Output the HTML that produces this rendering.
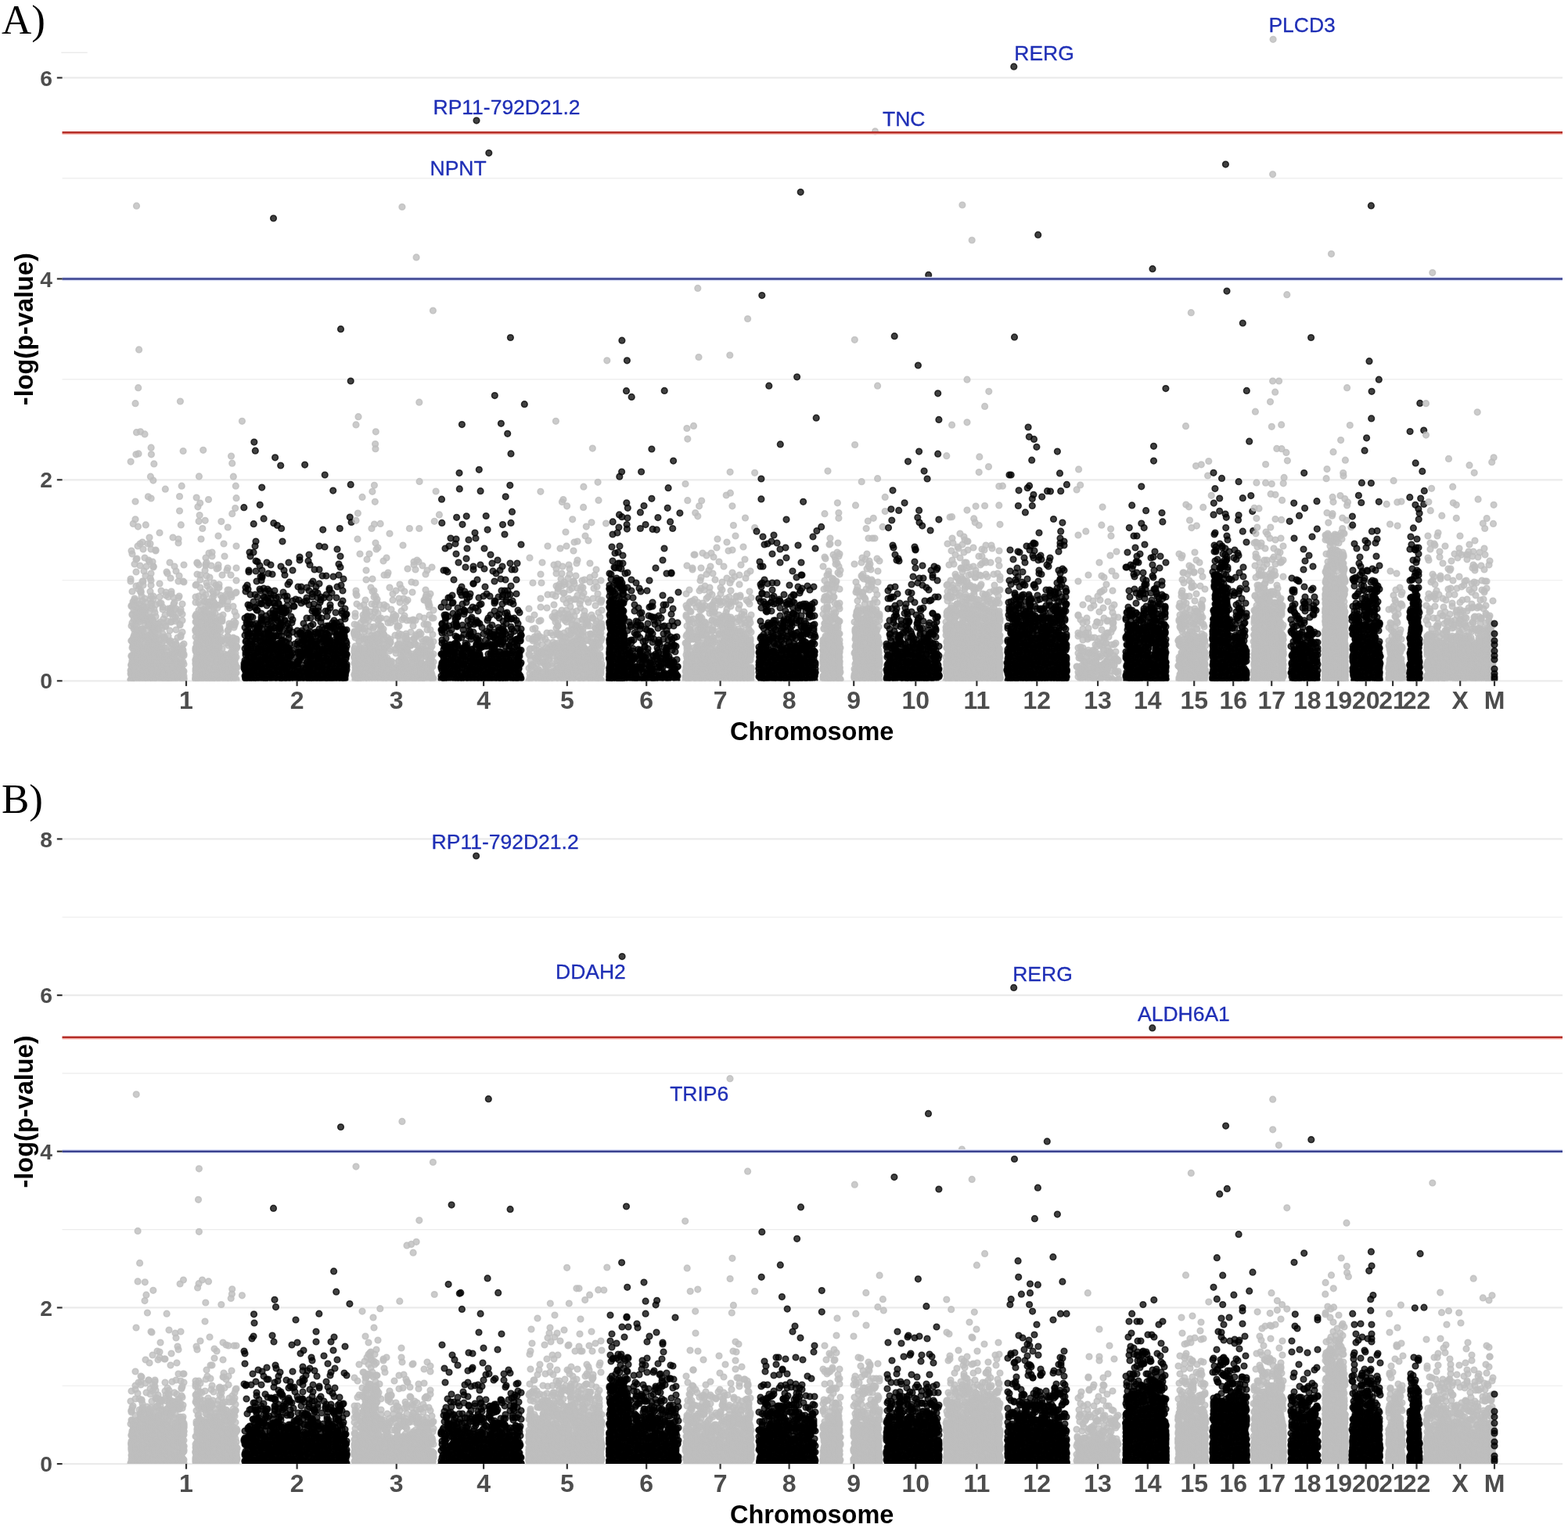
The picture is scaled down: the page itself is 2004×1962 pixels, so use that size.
<!DOCTYPE html>
<html><head><meta charset="utf-8"><title>Manhattan plots</title>
<style>
html,body{margin:0;padding:0;background:#fff;overflow:hidden;}
svg{display:block;}
.mb,.mg{fill:none;stroke:none;}
.mb{marker-start:url(#kb);marker-mid:url(#kb);marker-end:url(#kb);}
.mg{marker-start:url(#kg);marker-mid:url(#kg);marker-end:url(#kg);}
.pg{stroke:#bebebe;stroke-opacity:0.8;}
.pb{stroke:#000;stroke-opacity:0.75;}
.og{fill:#bebebe;fill-opacity:0.8;stroke:#bebebe;stroke-opacity:0.8;stroke-width:1.5;}
.ob{fill:#000;fill-opacity:0.75;stroke:#000;stroke-opacity:0.75;stroke-width:1.5;}
.gm{stroke:#ececec;stroke-width:1.1;}
.gM{stroke:#ebebeb;stroke-width:2.2;}
.tk{stroke:#333;stroke-width:2.2;}
.rl{stroke:#b52e28;stroke-width:2.4;}
.rh{stroke:#f7b3ac;stroke-width:2.2;}
.bh{stroke:#dfe3f8;stroke-width:5.5;}
.bl{stroke:#3a428f;stroke-width:2.5;}
.yt{font-family:"Liberation Sans",Arial,Helvetica,sans-serif;font-weight:bold;font-size:28.3px;fill:#4d4d4d;text-anchor:end;}
.xt{font-family:"Liberation Sans",Arial,Helvetica,sans-serif;font-weight:bold;font-size:32px;fill:#4d4d4d;text-anchor:middle;}
.at{font-family:"Liberation Sans",Arial,Helvetica,sans-serif;font-weight:bold;font-size:32.5px;fill:#000;text-anchor:middle;}
.pl{font-family:"Liberation Serif","Times New Roman",serif;font-size:53px;fill:#000;}
.gl{font-family:"Liberation Sans",Arial,Helvetica,sans-serif;font-size:26.5px;fill:#1f2fb6;stroke:#1f2fb6;stroke-width:0.3px;}
</style></head>
<body><svg width="2004" height="1962" viewBox="0 0 2004 1962">
<defs><clipPath id="c0"><rect x="0" y="0" width="2004" height="870.3"/></clipPath><clipPath id="c1"><rect x="0" y="0" width="2004" height="1871.1"/></clipPath>
<marker id="kb" markerUnits="userSpaceOnUse" markerWidth="12" markerHeight="12" refX="6" refY="6" overflow="visible"><circle cx="6" cy="6" r="3.8499999999999996" fill="#000" fill-opacity="0.75" stroke="#000" stroke-opacity="0.75" stroke-width="1.5"/></marker>
<marker id="kg" markerUnits="userSpaceOnUse" markerWidth="12" markerHeight="12" refX="6" refY="6" overflow="visible"><circle cx="6" cy="6" r="3.8499999999999996" fill="#bebebe" fill-opacity="0.8" stroke="#bebebe" stroke-opacity="0.8" stroke-width="1.5"/></marker>
</defs>
<rect width="2004" height="1962" fill="#fff"/>
<line x1="79.5" x2="1997.0" y1="741.8" y2="741.8" class="gm"/>
<line x1="79.5" x2="1997.0" y1="484.9" y2="484.9" class="gm"/>
<line x1="79.5" x2="1997.0" y1="227.9" y2="227.9" class="gm"/>
<line x1="79.5" x2="1997.0" y1="870.3" y2="870.3" class="gM"/>
<line x1="79.5" x2="1997.0" y1="613.3" y2="613.3" class="gM"/>
<line x1="79.5" x2="1997.0" y1="356.4" y2="356.4" class="gM"/>
<line x1="79.5" x2="1997.0" y1="99.4" y2="99.4" class="gM"/>
<g clip-path="url(#c0)">
<path d="M167 740L167 743L167 857L167 861L167 869L167 869L168 704L168 774L168 775L168 800L168 819L168 819L168 838L168 839L168 849L168 850L168 850L168 851L168 855L168 858L168 860L168 862L168 864L168 868L168 870L168 870L168 870L169 708L169 756L169 785L169 786L169 796L169 828L169 844L169 846L170 769L170 816L170 824L170 826L170 838L170 840L170 853L170 860L170 863L170 867L171 770L171 774L171 780L171 792L171 801L171 804L171 813L171 821L171 829L171 832L171 837L171 841L171 844L171 853L171 869L172 721L172 765L172 767L172 791L172 810L172 817L172 825L172 851L172 857L172 858L172 864L173 782L173 782L173 787L173 799L173 805L173 813L173 834L173 846L174 715L174 731L174 749L174 827L174 836L174 869L174 870L175 714L175 789L175 793L175 801L175 809L175 812L175 842L175 870L176 698L176 768L176 777L176 805L176 806L176 819L176 821L176 824L176 837L176 841L177 753L177 773L177 782L177 784L177 792L177 847L177 849L177 854L177 862L178 748L178 778L178 794L178 832L178 848L178 857L178 860L178 864L178 870L179 695L179 723L179 772L179 795L179 812L179 820L179 824L179 836L179 844L179 856L179 870L180 755L180 757L180 757L180 779L180 782L180 788L180 819L180 829L180 831L180 834L180 862L180 862L181 762L181 804L181 810L181 811L181 817L181 825L181 842L182 693L182 743L182 768L182 804L182 804L182 842L182 849L182 853L182 870L183 702L183 743L183 748L183 776L183 782L183 787L183 789L183 807L183 813L183 827L183 833L183 860L183 869L184 730L184 775L184 793L184 829L184 835L184 841L184 851L184 858L184 866L184 870L185 713L185 765L185 792L185 848L186 736L186 770L186 778L186 781L186 786L186 799L186 815L186 845L186 856L186 858L186 869L187 724L187 813L187 827L187 839L187 843L187 854L188 777L188 794L188 805L188 820L188 837L188 865L189 695L189 791L189 792L189 800L189 821L189 823L189 828L189 831L189 841L189 849L189 863L189 866L189 869L189 870L190 716L190 784L190 800L190 812L190 813L190 818L190 822L190 853L191 687L191 718L191 838L191 858L191 870L192 695L192 739L192 756L192 766L192 789L192 797L192 798L192 799L192 822L192 830L192 832L192 840L192 848L192 861L193 702L193 733L193 742L193 748L193 762L193 771L193 777L193 789L193 827L193 844L193 846L193 854L193 870L194 771L194 775L194 790L194 791L194 806L194 809L194 813L194 820L194 831L194 836L194 850L194 866L195 718L195 792L195 804L195 814L195 832L195 854L195 857L195 860L195 864L195 869L196 724L196 724L196 725L196 762L196 766L196 794L196 803L196 825L196 870L196 870L197 779L197 803L197 806L197 816L197 835L197 850L197 870L198 783L198 801L198 806L198 818L198 819L198 825L198 831L198 837L198 839L198 844L198 846L199 703L199 704L199 773L199 788L199 808L199 815L199 819L199 865L200 841L200 858L200 870L201 797L201 815L201 825L201 826L201 833L201 847L201 852L201 860L201 863L202 803L202 854L202 859L202 870L202 870L203 797L203 804L203 811L203 823L203 829L203 864L204 681L204 746L204 763L204 771L204 835L204 838L204 850L205 795L205 818L205 846L205 861L205 868L206 755L206 771L206 830L206 835L206 842L206 854L207 803L207 822L207 828L207 852L207 853L207 868L208 776L208 779L208 810L208 841L208 844L208 861L209 791L209 796L209 815L209 819L209 836L209 846L209 866L210 814L210 828L210 851L210 859L210 860L210 870L211 786L211 801L211 816L211 837L211 842L211 863L211 868L211 870L211 870L212 757L212 761L212 800L212 828L212 837L212 870L213 731L213 833L213 841L213 851L213 855L214 733L214 794L214 838L214 868L215 763L215 778L215 813L215 837L215 849L215 856L216 820L216 844L216 845L216 860L216 861L216 870L217 719L217 779L217 784L217 806L217 820L217 858L217 867L218 739L218 778L218 783L218 795L218 819L218 822L218 850L218 867L219 756L219 759L219 777L219 784L219 795L219 829L219 837L219 864L220 823L220 831L220 846L220 869L220 870L221 687L221 785L221 789L221 835L221 839L221 840L221 852L221 854L222 764L222 772L222 860L223 724L223 770L223 779L223 828L223 836L223 864L223 870L224 789L224 794L224 820L224 831L224 837L224 843L224 843L224 846L224 855L224 868L225 730L225 778L225 805L225 823L225 825L225 844L225 859L225 859L225 869L226 792L226 846L226 855L226 858L227 815L227 830L227 835L227 849L227 865L228 689L228 694L228 743L228 764L228 784L228 833L228 853L228 869L229 736L229 762L229 829L229 870L230 798L230 799L230 854L230 864L231 779L231 782L231 812L231 814L231 835L231 843L231 865L232 836L232 841L232 847L232 850L232 851L232 854L233 772L233 785L233 793L233 808L233 825L233 829L233 834L233 836L233 862L233 870L234 743L234 831L234 846L234 857L234 860L234 860L234 869L234 870L235 722L235 744L235 823L235 836L235 838L235 849L235 858L235 864L235 867L235 868L250 748L250 763L250 770L250 787L250 788L250 795L250 805L250 805L250 807L250 814L250 828L250 830L250 832L250 843L250 844L250 847L250 849L250 855L250 858L250 863L250 863L250 866L250 867L250 867L250 869L250 869L251 747L251 785L251 794L251 822L251 827L251 828L251 832L251 834L251 839L251 842L251 852L251 852L251 855L251 856L251 860L251 860L251 863L251 870L252 719L252 720L252 734L252 789L252 794L252 796L252 801L252 808L252 817L252 823L252 855L253 803L253 809L253 840L253 844L253 869L254 722L254 762L254 770L254 780L254 804L254 808L254 813L254 823L254 870L255 821L255 847L255 849L255 856L255 865L256 735L256 741L256 751L256 773L256 800L256 816L256 828L256 830L256 831L256 837L257 689L257 781L257 788L257 789L257 800L257 838L257 842L257 863L257 863L257 870L257 870L258 791L258 795L258 801L258 806L258 811L258 815L258 818L258 838L258 840L258 850L258 857L259 757L259 814L259 862L259 870L260 763L260 784L260 793L260 815L260 838L260 848L260 849L260 857L260 870L261 769L261 779L261 780L261 804L261 804L261 823L261 825L261 834L261 841L261 851L261 862L262 729L262 768L262 784L262 791L262 815L262 823L262 830L262 830L262 856L262 869L262 869L263 713L263 721L263 723L263 760L263 783L263 810L263 817L263 861L264 719L264 736L264 745L264 770L264 776L264 786L264 793L264 798L264 810L264 835L264 843L264 847L264 866L265 749L265 783L265 798L265 811L265 820L265 846L265 852L266 769L266 795L266 798L266 803L266 807L266 831L266 841L266 854L266 868L267 707L267 773L267 775L267 804L267 818L267 824L267 825L267 835L267 859L267 862L267 869L268 738L268 753L268 785L268 793L268 807L268 816L268 828L268 836L268 848L268 855L268 866L268 869L269 769L269 841L269 842L269 848L270 723L270 774L270 787L270 808L270 830L270 864L270 869L271 706L271 711L271 764L271 792L271 794L271 800L271 800L271 814L271 821L271 823L271 830L271 857L271 869L271 870L272 756L272 782L272 786L272 799L272 812L272 813L272 834L272 835L272 844L272 849L272 862L273 745L273 759L273 762L273 769L273 778L273 789L273 805L273 825L273 857L274 771L274 817L274 820L274 869L275 774L275 784L275 807L275 808L275 818L275 832L275 839L275 852L275 865L275 869L276 748L276 773L276 795L276 801L276 803L276 823L276 827L276 836L276 852L276 857L276 869L277 727L277 757L277 794L277 812L277 844L277 845L277 846L277 860L277 863L277 869L278 751L278 777L278 796L278 812L278 813L278 836L278 838L278 869L279 685L279 722L279 726L279 792L279 803L279 806L279 828L279 830L279 837L279 850L279 857L280 747L280 751L280 817L280 823L280 827L281 773L281 788L281 802L281 804L281 821L281 854L281 869L282 761L282 793L282 807L282 835L282 847L282 869L283 794L283 815L283 819L283 820L283 838L283 843L283 861L283 864L284 735L284 764L284 768L284 772L284 791L284 794L284 818L284 829L284 840L284 844L284 847L284 855L284 870L285 765L285 769L285 786L285 857L285 863L285 870L286 695L286 765L286 840L286 843L286 850L286 864L287 711L287 836L287 845L287 853L288 855L288 870L289 760L289 822L289 852L289 860L289 869L290 729L290 762L290 818L290 837L290 838L290 868L291 726L291 754L291 769L291 775L291 778L291 806L291 813L291 814L291 846L292 805L292 818L292 825L292 847L292 858L292 861L293 754L293 797L293 801L293 846L293 850L293 856L293 860L293 867L293 868L293 868L294 836L295 735L295 760L295 761L295 821L295 823L295 834L295 840L295 844L296 763L296 798L296 824L296 836L296 852L296 864L296 866L297 829L297 840L297 854L297 855L298 775L298 815L298 819L298 838L298 860L299 794L299 799L299 802L299 816L299 829L299 830L299 836L299 850L299 867L299 868L300 782L300 799L300 840L300 841L300 844L300 844L300 848L300 852L300 862L300 863L301 758L301 796L301 835L301 849L301 860L302 698L302 726L302 742L302 757L302 787L302 817L302 817L302 820L302 826L302 826L302 829L302 840L302 853L302 860L302 868L302 870L303 827L303 853" class="mg"/>
<circle cx="167.1" cy="590.1" r="3.85" class="og"/>
<circle cx="170.2" cy="669.4" r="3.85" class="og"/>
<circle cx="173.0" cy="515.7" r="3.85" class="og"/>
<circle cx="173.0" cy="641.0" r="3.85" class="og"/>
<circle cx="173.0" cy="663.8" r="3.85" class="og"/>
<circle cx="173.9" cy="580.8" r="3.85" class="og"/>
<circle cx="174.5" cy="263.2" r="3.85" class="og"/>
<circle cx="174.5" cy="552.7" r="3.85" class="og"/>
<circle cx="176.4" cy="673.1" r="3.85" class="og"/>
<circle cx="176.7" cy="495.7" r="3.85" class="og"/>
<circle cx="177.0" cy="579.9" r="3.85" class="og"/>
<circle cx="177.6" cy="446.9" r="3.85" class="og"/>
<circle cx="179.5" cy="551.8" r="3.85" class="og"/>
<circle cx="185.0" cy="554.9" r="3.85" class="og"/>
<circle cx="186.3" cy="670.9" r="3.85" class="og"/>
<circle cx="189.4" cy="634.8" r="3.85" class="og"/>
<circle cx="192.4" cy="609.2" r="3.85" class="og"/>
<circle cx="193.1" cy="572.2" r="3.85" class="og"/>
<circle cx="193.1" cy="637.0" r="3.85" class="og"/>
<circle cx="193.4" cy="580.8" r="3.85" class="og"/>
<circle cx="195.8" cy="614.1" r="3.85" class="og"/>
<circle cx="196.8" cy="592.9" r="3.85" class="og"/>
<circle cx="211.3" cy="625.2" r="3.85" class="og"/>
<circle cx="229.5" cy="634.5" r="3.85" class="og"/>
<circle cx="229.5" cy="653.0" r="3.85" class="og"/>
<circle cx="230.4" cy="513.0" r="3.85" class="og"/>
<circle cx="231.3" cy="670.9" r="3.85" class="og"/>
<circle cx="232.2" cy="621.2" r="3.85" class="og"/>
<circle cx="234.1" cy="576.5" r="3.85" class="og"/>
<circle cx="251.1" cy="636.0" r="3.85" class="og"/>
<circle cx="252.9" cy="647.8" r="3.85" class="og"/>
<circle cx="254.1" cy="666.3" r="3.85" class="og"/>
<circle cx="254.4" cy="608.9" r="3.85" class="og"/>
<circle cx="255.1" cy="658.6" r="3.85" class="og"/>
<circle cx="255.7" cy="643.1" r="3.85" class="og"/>
<circle cx="258.8" cy="675.5" r="3.85" class="og"/>
<circle cx="259.7" cy="575.3" r="3.85" class="og"/>
<circle cx="262.2" cy="665.3" r="3.85" class="og"/>
<circle cx="266.5" cy="638.5" r="3.85" class="og"/>
<circle cx="282.8" cy="666.6" r="3.85" class="og"/>
<circle cx="291.2" cy="674.0" r="3.85" class="og"/>
<circle cx="295.5" cy="583.0" r="3.85" class="og"/>
<circle cx="296.7" cy="592.2" r="3.85" class="og"/>
<circle cx="296.7" cy="656.7" r="3.85" class="og"/>
<circle cx="298.3" cy="609.2" r="3.85" class="og"/>
<circle cx="300.7" cy="649.6" r="3.85" class="og"/>
<circle cx="301.3" cy="621.2" r="3.85" class="og"/>
<circle cx="302.0" cy="636.7" r="3.85" class="og"/>
<circle cx="309.4" cy="538.3" r="3.85" class="og"/>
<path d="M312 848L312 851L312 854L313 790L313 802L313 812L313 829L313 844L313 851L313 855L313 856L313 864L314 751L314 756L314 820L314 834L314 837L314 847L314 856L314 859L314 864L314 865L314 867L314 867L314 868L315 796L315 807L315 819L315 827L315 844L315 869L316 748L316 788L316 793L316 798L316 835L316 859L316 870L317 753L317 773L317 788L317 806L317 812L317 813L317 822L317 828L317 832L317 839L317 850L318 729L318 731L318 801L318 810L318 840L318 866L318 869L318 870L319 706L319 774L319 777L319 796L319 809L319 851L319 863L320 711L320 760L320 798L320 820L320 847L320 852L321 788L321 828L321 841L321 846L321 858L321 859L321 865L322 813L322 820L322 823L322 825L322 833L322 848L323 789L323 798L323 854L323 870L323 870L324 706L324 769L324 832L324 838L324 857L324 865L324 868L325 809L325 814L325 835L325 840L325 849L325 860L325 863L325 870L326 698L326 760L326 776L326 777L326 803L326 809L326 819L326 827L326 843L326 850L327 692L327 717L327 730L327 797L327 816L327 839L327 852L327 870L328 743L328 780L328 806L328 817L328 870L329 718L329 763L329 780L329 802L329 804L329 834L329 844L329 859L330 799L330 809L330 809L330 826L330 829L330 833L330 833L330 847L330 851L330 851L330 870L331 802L331 803L331 828L331 859L331 864L331 866L332 723L332 753L332 771L332 840L332 851L332 856L332 864L333 737L333 755L333 797L333 809L333 813L333 814L333 819L333 820L333 825L333 844L333 846L333 870L334 742L334 771L334 772L334 784L334 789L334 793L334 793L334 833L334 837L334 846L334 855L334 862L335 729L335 736L335 738L335 791L335 804L335 831L336 798L336 819L336 840L336 857L336 868L337 752L337 763L337 815L337 823L337 849L337 859L337 868L338 764L338 810L338 828L338 830L338 860L339 756L339 767L339 811L339 825L339 835L339 840L339 844L339 853L339 854L339 868L339 868L340 787L340 792L340 817L340 832L340 847L340 859L340 867L341 719L341 774L341 795L341 821L341 842L341 853L342 753L342 764L342 798L342 804L342 809L342 819L342 868L343 733L343 768L343 770L343 806L343 835L343 837L343 837L343 843L343 859L344 755L344 771L344 810L344 817L344 823L344 849L344 855L344 868L345 784L345 804L345 830L345 847L345 850L345 860L345 864L346 722L346 759L346 764L346 827L346 831L346 841L347 790L347 793L347 798L347 806L347 812L347 815L347 823L347 830L347 861L348 734L348 789L348 840L348 845L348 852L348 854L348 870L349 780L349 784L349 801L349 816L349 823L349 833L349 837L349 866L349 870L350 761L350 771L350 814L350 822L350 847L350 861L350 868L351 755L351 771L351 785L351 786L351 790L351 803L351 836L351 850L351 857L351 864L352 775L352 802L352 825L352 825L353 764L353 781L353 812L353 813L353 844L353 853L354 786L354 790L354 829L354 831L354 842L355 793L355 794L355 829L355 845L355 851L355 857L355 859L356 763L356 771L356 772L356 802L356 804L356 813L356 822L356 837L356 839L356 869L357 780L357 801L357 806L357 832L357 851L357 858L357 863L357 868L357 870L358 780L358 799L358 803L358 822L358 839L358 842L358 845L358 864L359 724L359 792L359 797L359 822L359 824L359 837L360 777L360 782L360 813L360 819L360 825L360 832L360 844L360 850L360 860L361 692L361 778L361 785L361 799L361 807L361 818L361 854L361 869L361 870L361 870L362 757L362 824L362 830L362 831L362 838L362 845L362 856L362 865L363 729L363 777L363 784L363 851L363 868L363 869L364 735L364 762L364 793L364 793L364 820L364 847L364 847L364 854L364 859L365 783L365 839L366 781L366 800L366 821L366 830L366 831L366 855L367 762L367 767L367 774L367 809L367 827L367 840L367 853L367 861L367 863L368 747L368 797L368 828L368 835L368 842L368 868L369 719L369 780L369 805L369 811L369 816L369 831L369 848L369 867L370 744L370 803L370 823L370 829L370 840L370 848L370 855L370 862L370 869L371 835L371 847L371 864L372 788L372 838L372 868L373 796L373 850L373 855L373 857L374 729L374 768L374 792L374 808L374 831L374 835L375 775L375 850L375 862L375 866L376 775L376 840L377 823L377 857L377 863L377 864L377 869L378 766L378 849L379 847L379 867L380 806L380 811L380 824L380 849L380 853L380 859L381 750L381 820L381 834L381 845L381 845L381 852L381 858L382 767L382 828L382 833L382 845L382 867L383 712L383 716L383 809L383 822L383 834L383 838L383 839L383 861L384 809L384 811L384 835L384 842L384 865L384 867L384 868L384 870L385 750L385 755L385 771L385 809L385 809L385 840L385 840L385 858L386 806L386 815L386 824L386 850L387 812L387 819L387 859L388 797L388 815L388 820L388 854L388 859L389 769L389 818L389 827L389 828L389 838L389 866L390 830L390 835L390 868L391 802L391 816L391 834L391 854L391 854L392 751L392 764L392 768L392 790L392 821L392 837L392 846L392 862L392 869L392 870L393 812L393 823L393 829L393 839L393 846L393 848L393 861L394 717L394 809L394 810L394 822L394 831L394 852L395 709L395 755L395 773L395 830L395 835L395 849L395 857L395 861L395 868L395 869L396 722L396 813L396 832L396 839L396 855L396 860L397 790L397 800L397 808L397 821L397 842L397 848L397 870L398 746L398 817L398 818L398 823L398 826L398 868L399 759L399 763L399 781L399 838L400 743L400 778L400 798L400 814L400 824L400 841L400 845L400 854L400 860L400 863L400 868L401 772L401 832L401 833L401 848L401 862L401 868L402 728L402 810L402 820L402 829L402 849L402 851L402 854L402 869L403 756L403 781L403 783L403 784L403 808L403 823L404 750L404 825L404 826L404 837L404 848L404 859L404 867L405 783L405 820L405 823L405 838L405 859L406 758L406 764L406 790L406 808L406 812L406 863L407 776L407 781L407 788L407 810L407 838L407 840L407 841L407 842L407 852L407 857L407 867L407 867L408 698L408 728L408 746L408 804L408 830L408 869L409 770L409 810L409 817L409 830L409 832L409 846L409 847L410 763L410 767L410 795L410 809L410 816L410 853L411 790L411 830L411 835L411 849L411 853L411 856L411 864L411 868L412 736L412 802L412 820L412 827L412 831L412 854L412 862L412 870L413 819L413 834L413 844L413 864L413 869L414 764L414 815L414 817L414 831L414 838L414 841L414 845L414 858L414 870L415 699L415 804L415 824L415 869L416 781L416 809L416 810L416 816L416 850L416 860L417 736L417 760L417 800L417 822L417 829L417 842L417 862L418 788L418 810L418 826L418 850L418 857L419 781L419 816L419 835L419 838L419 850L419 862L419 866L419 869L420 800L420 800L420 812L420 820L420 827L420 832L420 869L421 752L421 754L421 764L421 801L421 809L421 817L421 836L421 845L421 846L421 854L421 869L421 870L422 773L422 777L422 819L422 822L422 843L422 855L422 859L423 802L423 829L423 861L423 870L424 758L424 829L424 848L424 853L424 868L425 796L425 831L425 849L426 737L426 802L426 821L426 831L426 844L426 858L426 862L427 793L427 798L427 798L427 825L427 837L427 839L427 841L427 868L428 804L428 808L428 818L428 824L428 862L428 866L428 868L429 783L429 801L429 836L429 855L429 860L430 764L430 796L430 810L430 812L430 827L430 831L430 841L430 848L430 851L430 859L431 702L431 750L431 818L431 819L431 826L431 836L431 845L431 857L431 869L432 812L432 861L432 868L433 721L433 735L433 820L433 852L434 801L434 811L434 813L434 825L434 831L434 839L434 845L434 860L435 711L435 725L435 795L435 812L435 832L435 848L435 870L436 748L436 772L436 800L436 804L436 819L436 841L436 841L436 852L436 852L436 863L436 868L437 781L437 784L437 823L437 827L437 834L437 860L437 870L438 755L438 768L438 804L438 805L438 845L439 740L439 816L439 825L439 829L439 835L439 849L439 857L439 868L440 788L440 808L440 812L440 814L440 815L440 846L440 867L440 868L441 778L441 791L441 806L441 829L441 837L441 859L441 862L441 863L441 863L441 865L441 868L442 786L442 819L442 830L442 840L442 842L442 851L442 853L442 859L443 785L443 805L443 822L443 826L443 836L443 837L443 849L443 852L443 856" class="mb"/>
<circle cx="311.8" cy="648.7" r="3.85" class="ob"/>
<circle cx="324.2" cy="669.7" r="3.85" class="ob"/>
<circle cx="324.8" cy="565.1" r="3.85" class="ob"/>
<circle cx="326.3" cy="576.2" r="3.85" class="ob"/>
<circle cx="332.2" cy="645.3" r="3.85" class="ob"/>
<circle cx="334.7" cy="623.1" r="3.85" class="ob"/>
<circle cx="337.1" cy="662.9" r="3.85" class="ob"/>
<circle cx="349.5" cy="279.0" r="3.85" class="ob"/>
<circle cx="349.8" cy="668.7" r="3.85" class="ob"/>
<circle cx="351.6" cy="584.8" r="3.85" class="ob"/>
<circle cx="354.4" cy="671.5" r="3.85" class="ob"/>
<circle cx="358.7" cy="595.0" r="3.85" class="ob"/>
<circle cx="359.6" cy="675.5" r="3.85" class="ob"/>
<circle cx="389.6" cy="594.1" r="3.85" class="ob"/>
<circle cx="412.7" cy="677.1" r="3.85" class="ob"/>
<circle cx="415.2" cy="607.0" r="3.85" class="ob"/>
<circle cx="425.7" cy="627.1" r="3.85" class="ob"/>
<circle cx="434.3" cy="675.5" r="3.85" class="ob"/>
<circle cx="435.5" cy="420.7" r="3.85" class="ob"/>
<circle cx="447.2" cy="661.0" r="3.85" class="ob"/>
<circle cx="448.2" cy="487.0" r="3.85" class="ob"/>
<circle cx="448.2" cy="619.4" r="3.85" class="ob"/>
<circle cx="449.1" cy="667.5" r="3.85" class="ob"/>
<path d="M453 798L453 807L453 808L453 809L453 809L453 811L453 811L453 829L453 832L453 834L453 839L453 840L453 841L453 848L453 862L453 863L454 784L454 788L454 812L454 815L454 826L454 845L454 846L454 853L454 857L454 860L454 865L454 868L454 869L455 755L455 759L455 849L455 853L455 855L455 858L456 761L456 772L456 799L456 868L457 689L457 810L457 810L457 835L457 836L457 869L458 805L458 849L458 862L458 869L459 802L459 814L459 819L459 820L459 839L459 842L459 850L459 867L459 870L460 708L460 775L460 827L460 829L460 830L460 843L460 852L460 859L461 796L461 802L461 831L461 855L461 862L461 870L462 814L462 828L462 855L463 840L463 844L463 864L464 786L464 792L464 804L464 817L464 833L464 864L465 773L465 789L465 793L465 837L465 842L465 849L465 859L465 870L465 870L466 803L466 807L466 829L466 850L466 861L467 767L467 780L467 783L467 796L467 815L467 817L467 821L467 831L467 836L467 848L468 729L468 741L468 779L468 783L468 854L468 859L468 866L468 870L469 715L469 784L469 785L469 790L469 817L469 818L469 837L469 844L469 855L470 823L470 823L470 839L470 850L470 851L471 793L471 807L471 816L471 829L471 830L471 843L471 869L472 708L472 822L472 849L472 856L472 863L472 865L472 870L473 782L473 801L473 834L473 843L474 751L474 816L474 819L474 828L474 831L474 835L474 846L474 863L475 772L475 788L475 812L475 856L475 858L476 740L476 756L476 829L476 851L476 870L477 803L477 820L477 824L477 838L477 848L477 866L478 755L478 763L478 790L478 801L478 812L478 814L478 834L478 835L478 842L478 860L479 773L479 782L479 869L480 694L480 762L480 779L480 816L480 824L480 832L480 840L480 849L480 852L480 858L480 865L481 702L481 769L481 811L481 827L481 841L481 862L481 867L482 766L482 836L482 843L482 844L482 847L483 700L483 784L483 793L483 810L483 816L483 820L483 852L483 856L484 798L484 829L484 833L485 773L485 791L485 819L485 822L485 829L485 866L486 800L486 806L486 834L486 858L486 861L486 869L487 790L487 800L487 811L487 849L487 868L488 805L488 828L488 839L488 839L488 846L488 847L488 853L488 862L489 819L489 836L489 848L489 850L490 717L490 778L490 804L490 810L490 811L490 823L490 832L490 835L490 842L490 869L491 735L491 773L491 812L491 817L491 839L491 851L491 854L491 860L491 863L491 869L492 828L492 828L492 838L492 854L492 867L493 862L494 713L494 775L494 791L495 735L495 815L495 825L495 841L495 858L495 867L496 732L496 796L496 844L496 845L496 846L496 866L496 869L497 818L497 849L497 855L497 858L498 682L498 751L498 823L498 832L498 846L498 850L499 796L499 817L499 821L499 821L499 830L499 848L499 861L500 779L500 845L500 850L500 867L501 792L501 867L502 759L502 767L502 789L502 854L502 861L502 865L503 785L503 847L503 867L504 791L504 860L505 788L505 794L505 812L505 855L505 860L506 755L506 787L506 829L506 831L506 835L506 855L506 869L508 800L508 802L508 824L508 866L508 870L509 813L509 825L509 852L509 854L509 869L509 870L510 765L510 800L510 810L510 823L510 828L510 844L510 845L510 851L510 862L511 747L511 770L511 818L511 828L511 855L511 859L511 864L512 837L512 854L513 752L513 781L513 811L513 842L513 865L514 792L514 831L514 839L514 846L514 853L515 697L515 826L515 834L515 841L515 867L515 870L515 870L516 765L516 790L516 848L516 870L517 756L517 777L517 787L517 834L517 842L517 850L517 851L517 859L517 860L517 861L518 815L518 823L518 823L518 844L518 845L518 850L518 868L518 869L519 769L519 810L519 813L519 820L519 830L519 847L520 793L520 817L520 817L520 828L520 831L520 848L520 859L521 727L521 767L521 832L521 863L521 868L522 834L522 853L522 856L522 862L523 824L523 837L524 793L524 868L525 808L525 825L525 825L525 839L525 855L525 860L526 744L526 846L526 869L527 757L527 818L527 836L527 842L527 842L527 849L527 850L527 855L527 866L527 870L528 792L528 793L528 800L528 859L528 869L529 718L529 722L529 816L529 867L529 870L530 816L530 822L530 842L530 859L530 866L531 728L531 745L531 793L531 824L531 837L531 841L531 853L531 870L532 811L532 813L532 834L532 851L533 716L533 858L534 825L534 832L534 840L534 846L534 849L534 849L534 863L534 865L534 868L535 718L535 831L535 834L535 852L536 788L536 808L536 811L536 860L536 869L537 837L537 849L537 851L537 869L538 810L538 829L538 835L538 842L538 843L538 857L538 859L538 861L538 869L539 817L539 830L539 848L539 849L539 869L539 870L540 723L540 826L541 820L541 855L541 867L542 767L542 790L542 798L542 835L543 767L543 830L543 832L543 857L543 863L543 867L544 734L544 754L544 763L544 818L544 821L544 826L544 849L544 851L545 760L545 798L545 817L545 839L545 854L546 729L546 805L546 832L546 837L546 840L546 861L546 864L546 869L547 768L547 772L547 798L547 847L547 856L548 763L548 770L548 776L548 868L549 774L549 786L549 818L549 837L549 844L549 847L549 860L550 759L550 805L550 820L550 822L550 830L550 861L551 827L551 837L551 843L551 845L551 847L551 851L551 852L551 854L551 859L551 869L552 725L552 790L552 826L552 839L552 862L552 864L552 867L553 811L553 852L553 868L554 780L554 790L554 820L554 836L554 846L554 867" class="mg"/>
<circle cx="455.0" cy="542.9" r="3.85" class="og"/>
<circle cx="455.0" cy="665.3" r="3.85" class="og"/>
<circle cx="457.4" cy="656.1" r="3.85" class="og"/>
<circle cx="458.0" cy="532.7" r="3.85" class="og"/>
<circle cx="463.0" cy="635.4" r="3.85" class="og"/>
<circle cx="475.0" cy="675.5" r="3.85" class="og"/>
<circle cx="475.9" cy="628.3" r="3.85" class="og"/>
<circle cx="478.4" cy="620.3" r="3.85" class="og"/>
<circle cx="478.4" cy="670.0" r="3.85" class="og"/>
<circle cx="479.3" cy="641.3" r="3.85" class="og"/>
<circle cx="479.6" cy="567.6" r="3.85" class="og"/>
<circle cx="479.9" cy="573.7" r="3.85" class="og"/>
<circle cx="480.3" cy="551.8" r="3.85" class="og"/>
<circle cx="486.1" cy="669.4" r="3.85" class="og"/>
<circle cx="513.9" cy="264.5" r="3.85" class="og"/>
<circle cx="523.4" cy="675.5" r="3.85" class="og"/>
<circle cx="532.1" cy="328.9" r="3.85" class="og"/>
<circle cx="535.8" cy="514.2" r="3.85" class="og"/>
<circle cx="535.8" cy="675.5" r="3.85" class="og"/>
<circle cx="536.1" cy="615.4" r="3.85" class="og"/>
<circle cx="553.4" cy="397.0" r="3.85" class="og"/>
<circle cx="555.2" cy="666.3" r="3.85" class="og"/>
<circle cx="557.1" cy="628.0" r="3.85" class="og"/>
<circle cx="561.4" cy="657.9" r="3.85" class="og"/>
<path d="M564 776L564 805L564 836L564 852L564 854L564 864L564 868L565 797L565 798L565 805L565 805L565 809L565 818L565 822L565 836L565 836L565 847L565 849L565 857L566 849L566 866L566 867L567 729L567 830L567 839L567 841L567 845L567 861L567 863L568 770L568 786L568 802L568 808L568 822L568 827L568 847L568 854L568 856L568 860L568 868L568 868L569 701L569 789L569 794L569 802L569 826L569 827L569 844L570 729L570 786L570 790L570 801L570 816L570 833L570 834L570 840L570 869L571 851L571 866L571 868L572 731L572 826L572 828L572 830L572 836L572 858L573 764L573 776L573 788L573 836L573 848L573 853L573 860L574 698L574 800L574 824L574 862L575 764L575 809L575 844L575 848L575 854L575 861L576 688L576 827L576 836L576 844L576 860L577 805L577 824L577 843L578 761L578 771L578 832L578 834L578 852L578 868L579 770L579 784L579 840L579 845L579 869L580 741L580 798L580 849L580 851L580 861L580 866L581 823L581 829L581 831L581 833L581 835L581 835L581 854L581 858L582 695L582 789L582 792L582 813L582 822L582 841L582 842L582 870L583 689L583 708L583 796L583 798L583 834L583 861L584 800L584 800L584 801L584 814L584 815L584 823L584 824L584 857L585 777L585 785L585 788L585 789L585 825L585 843L585 850L585 851L585 854L585 865L586 719L586 816L586 863L586 870L586 870L587 847L587 854L587 868L588 754L588 757L588 782L588 844L589 830L589 839L589 845L589 860L589 869L590 750L590 761L590 815L590 830L590 835L590 837L591 772L591 799L591 837L591 849L591 853L591 861L591 867L592 805L592 828L592 829L592 837L593 780L593 780L593 785L593 811L593 831L593 839L593 849L593 850L594 756L594 782L594 839L594 854L594 862L594 867L595 725L595 760L595 822L595 825L595 829L595 843L595 845L595 858L595 869L596 714L596 760L596 770L596 827L596 828L596 862L597 701L597 765L597 824L597 858L598 793L598 800L598 845L598 861L599 690L599 813L599 834L599 851L599 868L600 763L600 806L600 811L600 832L600 868L600 870L601 759L601 780L601 798L601 808L601 834L601 841L601 842L601 846L601 853L601 853L601 856L601 865L602 791L602 813L602 817L602 837L603 789L603 813L603 830L603 830L603 852L603 861L603 865L604 776L604 844L604 869L605 724L605 728L605 746L605 746L605 808L605 836L605 840L605 848L605 860L606 798L606 834L606 837L606 844L606 857L607 681L607 852L607 868L608 688L608 777L608 796L608 827L608 846L608 862L608 862L609 793L609 816L609 823L609 824L609 855L609 868L609 870L610 741L610 795L610 818L610 837L610 846L610 855L611 781L611 796L611 813L611 820L611 835L611 847L611 860L612 764L612 858L613 773L613 797L613 819L613 828L613 829L613 836L613 838L613 842L613 846L613 855L613 868L614 722L614 827L614 841L614 848L615 772L615 860L615 866L615 870L616 802L616 826L616 827L616 846L617 825L617 852L617 863L617 866L617 868L618 762L618 810L618 848L618 852L618 857L619 701L619 727L619 826L619 845L619 870L620 750L620 844L620 849L620 861L621 818L621 843L621 855L622 759L622 807L622 826L622 861L622 869L623 793L623 866L623 870L623 870L624 790L624 822L624 836L624 845L624 855L624 856L625 808L625 825L625 848L625 860L626 762L626 802L626 814L626 849L626 858L626 864L627 709L627 786L627 810L627 813L627 836L627 845L627 852L627 868L628 824L628 833L628 838L628 841L628 845L628 854L628 857L628 864L629 720L629 799L629 828L629 847L630 730L630 825L631 808L631 811L631 814L631 815L631 823L631 832L631 865L631 868L631 869L632 743L632 768L632 771L632 781L632 827L632 829L632 836L632 840L632 870L633 769L633 816L633 824L633 833L633 846L633 852L633 859L634 733L634 811L634 860L635 787L635 842L635 849L635 859L635 869L636 716L636 812L636 817L636 822L636 841L636 852L636 854L636 865L637 763L637 802L637 837L637 848L637 868L638 785L638 790L638 805L638 807L638 833L638 845L638 863L639 729L639 820L639 823L639 833L640 740L640 779L640 816L640 842L640 855L640 859L640 866L640 868L640 868L641 755L641 824L641 838L642 724L642 763L642 772L642 804L642 812L642 851L642 858L642 870L643 760L643 794L643 801L643 806L643 808L643 812L643 818L643 821L643 836L643 841L643 847L643 860L643 870L644 845L644 849L644 861L645 683L645 755L645 807L645 817L645 833L645 854L645 868L646 741L646 784L646 810L646 826L646 835L646 836L646 850L646 868L647 767L647 769L647 797L647 840L647 865L647 865L648 783L648 791L648 836L648 840L648 847L648 857L649 755L649 760L649 787L649 790L649 856L649 869L650 846L650 866L651 825L651 826L651 829L651 844L651 856L652 720L652 760L652 770L652 814L652 818L652 850L652 854L652 858L652 863L652 870L653 749L653 791L653 801L653 810L653 837L653 841L653 847L653 864L653 864L654 728L654 791L654 804L654 821L654 835L654 851L655 768L655 832L655 833L656 772L656 853L656 870L657 790L657 807L657 844L657 850L657 870L658 728L658 821L658 827L658 847L658 858L658 860L658 870L659 818L659 868L659 869L660 741L660 759L660 793L660 817L660 825L660 844L660 856L660 860L661 720L661 803L661 817L661 825L661 836L661 839L662 780L662 797L662 832L662 840L662 848L662 851L662 864L663 838L663 845L663 845L663 854L663 855L663 861L663 869L664 783L664 815L664 831L664 835L664 839L664 863L665 809L665 816L665 819L665 819L665 849L665 864L665 868L666 696L666 804L666 812L666 812L666 831L666 847L666 867" class="mb"/>
<circle cx="564.5" cy="638.2" r="3.85" class="ob"/>
<circle cx="564.8" cy="668.4" r="3.85" class="ob"/>
<circle cx="583.6" cy="661.3" r="3.85" class="ob"/>
<circle cx="587.0" cy="604.6" r="3.85" class="ob"/>
<circle cx="587.3" cy="624.9" r="3.85" class="ob"/>
<circle cx="590.4" cy="542.6" r="3.85" class="ob"/>
<circle cx="591.0" cy="670.3" r="3.85" class="ob"/>
<circle cx="596.2" cy="659.8" r="3.85" class="ob"/>
<circle cx="609.0" cy="154.1" r="3.85" class="ob"/>
<circle cx="612.3" cy="600.3" r="3.85" class="ob"/>
<circle cx="614.1" cy="627.7" r="3.85" class="ob"/>
<circle cx="621.2" cy="659.5" r="3.85" class="ob"/>
<circle cx="623.1" cy="677.1" r="3.85" class="ob"/>
<circle cx="624.8" cy="195.6" r="3.85" class="ob"/>
<circle cx="632.3" cy="505.6" r="3.85" class="ob"/>
<circle cx="640.4" cy="541.3" r="3.85" class="ob"/>
<circle cx="642.5" cy="670.6" r="3.85" class="ob"/>
<circle cx="646.2" cy="634.8" r="3.85" class="ob"/>
<circle cx="648.7" cy="554.3" r="3.85" class="ob"/>
<circle cx="651.8" cy="620.3" r="3.85" class="ob"/>
<circle cx="652.4" cy="431.5" r="3.85" class="ob"/>
<circle cx="653.0" cy="579.9" r="3.85" class="ob"/>
<circle cx="653.0" cy="668.4" r="3.85" class="ob"/>
<circle cx="654.5" cy="654.2" r="3.85" class="ob"/>
<circle cx="670.3" cy="516.7" r="3.85" class="ob"/>
<path d="M676 778L676 791L676 816L676 836L676 854L676 870L676 870L677 713L677 830L677 838L677 861L677 866L678 829L678 844L678 868L678 869L679 792L679 850L679 852L679 857L680 850L680 864L681 745L681 804L681 817L681 817L681 819L681 849L681 863L681 870L682 838L682 852L683 786L683 814L683 829L683 861L684 803L684 818L684 841L684 866L685 841L685 860L685 863L685 866L686 814L686 816L686 825L686 831L686 848L687 810L687 821L687 835L687 839L687 842L687 855L687 859L687 869L688 845L688 858L688 863L689 794L689 813L689 840L689 856L689 866L689 870L689 870L690 834L690 835L691 734L691 765L691 776L691 793L691 847L692 745L692 832L692 837L692 870L693 719L693 815L693 824L693 832L693 834L693 861L693 867L694 846L694 846L694 859L695 836L695 859L696 849L696 866L696 868L696 870L697 817L697 851L697 869L698 828L698 840L698 847L698 853L699 777L699 809L699 839L699 859L699 868L699 870L700 698L700 760L700 821L700 830L700 835L700 851L701 829L701 860L701 870L702 841L702 843L702 859L702 861L702 863L703 868L703 869L704 809L704 833L704 835L704 860L705 825L705 860L706 760L706 788L706 839L706 848L706 851L706 859L706 866L707 812L707 821L707 826L707 828L707 834L708 722L708 773L708 790L708 864L708 869L709 783L709 788L709 825L709 831L709 858L709 869L710 762L710 795L710 823L710 858L710 866L710 869L711 727L711 733L711 749L711 803L712 809L712 811L712 833L712 840L712 845L712 851L712 855L712 858L712 864L713 721L713 752L713 756L713 786L713 794L713 800L713 800L713 822L713 829L713 843L713 858L714 749L714 752L714 837L714 839L714 854L714 854L714 864L715 747L715 784L715 810L715 812L715 827L715 846L715 868L715 869L716 701L716 812L716 814L716 870L717 740L717 828L717 830L717 841L717 848L718 733L718 749L718 780L718 821L718 845L718 854L718 859L718 863L719 724L719 820L719 833L719 848L719 867L719 868L720 758L720 766L720 789L720 790L720 814L720 822L720 836L720 858L721 744L721 758L721 784L721 809L721 828L721 840L721 851L721 863L722 747L722 793L722 836L722 843L722 846L722 855L722 870L723 680L723 814L723 830L723 844L723 862L724 698L724 771L724 780L724 795L724 827L724 855L724 863L725 787L725 790L725 816L725 821L725 832L725 832L725 836L725 848L725 870L725 870L726 739L726 785L726 806L726 822L726 844L726 856L726 861L727 722L727 747L727 765L727 791L727 853L727 864L728 727L728 734L728 754L728 812L728 840L728 848L729 768L729 775L729 789L729 824L729 829L729 835L729 838L729 851L729 869L729 870L730 805L730 811L730 857L731 752L731 792L731 797L731 799L731 806L731 809L731 823L731 841L731 851L731 863L732 782L732 821L732 857L732 866L732 868L732 869L733 704L733 743L733 743L733 805L733 819L733 820L733 828L733 830L733 830L733 838L733 845L733 855L734 693L734 746L734 766L734 787L734 836L734 847L734 861L735 807L735 833L735 846L736 736L736 766L736 799L736 800L736 841L736 850L736 854L736 855L737 720L737 781L737 816L737 819L737 824L737 858L737 870L738 692L738 716L738 752L738 761L738 794L738 802L738 821L738 863L738 863L738 870L739 801L739 811L739 815L739 819L739 825L739 833L739 842L739 858L740 809L740 829L740 834L740 839L740 848L740 866L741 772L741 842L741 847L742 754L742 768L742 777L742 805L742 818L742 845L742 855L742 869L742 869L743 750L743 812L743 818L743 828L743 852L743 853L743 869L744 742L744 762L744 792L744 801L744 826L744 827L744 835L744 845L744 859L744 868L745 751L745 792L745 804L745 808L745 812L745 822L745 827L745 869L746 758L746 787L746 837L746 849L746 861L746 862L747 741L747 781L747 828L747 829L747 834L747 847L748 685L748 787L748 790L748 840L748 841L748 868L749 798L749 819L749 851L749 853L749 857L749 865L749 869L750 766L750 793L750 796L750 854L751 795L751 800L751 818L751 832L751 832L751 840L751 842L751 857L751 869L752 691L752 770L752 811L752 860L752 865L752 866L753 834L753 847L754 720L754 738L754 744L754 800L754 844L754 860L754 867L755 810L755 811L755 820L755 829L755 830L755 837L755 846L755 866L755 868L755 868L756 786L756 811L756 837L756 853L757 790L757 815L757 822L757 845L757 851L757 852L757 864L758 765L758 790L758 824L758 832L758 838L758 858L758 860L759 752L759 827L759 841L759 841L759 869L760 735L760 829L760 847L760 869L761 744L761 774L761 803L761 803L761 810L761 821L761 823L761 826L761 835L761 846L762 728L762 794L762 797L762 809L762 837L762 853L762 854L762 858L762 866L762 867L762 868L763 750L763 804L763 818L763 864L764 759L764 809L764 816L764 826L764 835L764 839L764 843L764 843L764 850L764 868L765 766L765 783L765 848L765 857L766 801L766 802L766 805L766 806L766 812L766 824L766 861L766 866L767 789L767 797L767 812L767 828L767 837L767 839L767 850L767 856L767 868L767 869L768 742L768 768L768 770L768 800L768 809L768 819L768 843L768 858L768 861L768 869L769 767L769 780L769 797L769 802L769 803L769 816L769 849L769 853L769 870" class="mg"/>
<circle cx="690.9" cy="628.3" r="3.85" class="og"/>
<circle cx="710.4" cy="538.3" r="3.85" class="og"/>
<circle cx="718.4" cy="641.6" r="3.85" class="og"/>
<circle cx="719.9" cy="638.5" r="3.85" class="og"/>
<circle cx="724.6" cy="646.8" r="3.85" class="og"/>
<circle cx="731.7" cy="663.8" r="3.85" class="og"/>
<circle cx="745.6" cy="648.4" r="3.85" class="og"/>
<circle cx="745.9" cy="622.2" r="3.85" class="og"/>
<circle cx="749.3" cy="673.1" r="3.85" class="og"/>
<circle cx="756.0" cy="667.8" r="3.85" class="og"/>
<circle cx="757.3" cy="573.1" r="3.85" class="og"/>
<circle cx="764.1" cy="616.3" r="3.85" class="og"/>
<circle cx="765.0" cy="639.4" r="3.85" class="og"/>
<circle cx="774.5" cy="669.0" r="3.85" class="og"/>
<circle cx="775.8" cy="460.8" r="3.85" class="og"/>
<path d="M779 733L779 748L779 752L779 753L779 762L779 770L779 776L779 776L779 786L779 795L779 795L779 798L779 817L779 819L779 822L779 829L779 832L779 834L779 835L779 837L779 841L779 841L779 841L779 842L779 842L779 843L779 853L779 854L779 856L779 858L779 861L779 862L779 864L779 865L779 866L779 868L779 869L779 870L779 870L780 757L780 769L780 779L780 784L780 789L780 798L780 802L780 803L780 811L780 812L780 817L780 819L780 825L780 826L780 828L780 829L780 846L780 846L780 848L780 849L780 850L780 851L780 856L781 734L781 740L781 754L781 767L781 772L781 801L781 803L781 806L781 812L781 867L781 870L782 699L782 763L782 780L782 793L782 806L782 837L782 839L782 840L782 850L782 870L783 683L783 717L783 756L783 771L783 787L783 796L783 799L783 830L783 832L784 748L784 756L784 766L784 767L784 779L784 783L784 788L784 793L784 804L784 814L784 816L784 823L784 831L784 845L784 846L784 852L784 865L785 725L785 808L785 842L785 858L785 860L785 870L785 870L786 707L786 726L786 759L786 775L786 780L786 809L786 861L786 864L787 742L787 771L787 790L787 819L787 820L787 823L788 739L788 747L788 777L788 784L788 790L788 805L788 809L788 816L788 827L788 853L789 681L789 742L789 752L789 786L789 798L789 799L789 806L789 835L789 842L789 861L789 863L789 870L789 870L790 706L790 720L790 743L790 761L790 772L790 785L790 795L790 826L790 832L790 836L790 839L790 848L790 852L790 868L791 726L791 747L791 763L791 771L791 800L791 823L791 830L791 849L791 851L791 857L792 698L792 720L792 750L792 777L792 792L792 803L792 811L792 813L792 815L792 844L792 868L792 870L792 870L792 870L793 741L793 742L793 749L793 769L793 776L793 787L793 793L793 819L793 842L793 856L793 861L794 727L794 777L794 796L794 823L794 829L794 854L794 870L794 870L795 745L795 748L795 754L795 772L795 781L795 797L795 818L795 836L795 838L795 843L795 849L795 870L796 710L796 720L796 753L796 755L796 760L796 770L796 771L796 780L796 781L796 786L796 789L796 795L796 800L796 801L796 802L796 807L796 808L796 867L797 759L797 771L797 781L797 790L797 791L797 810L797 811L797 814L797 827L797 832L797 860L797 863L797 870L798 752L798 767L798 790L798 812L798 818L798 819L798 824L798 826L798 830L798 839L798 842L798 845L798 846L798 851L798 852L798 856L798 856L798 858L798 860L798 868L799 733L799 869L800 847L801 825L801 831L801 842L802 732L802 751L802 763L802 806L802 836L802 862L802 866L803 821L803 828L803 851L803 852L804 795L804 819L804 836L804 865L805 834L805 838L805 842L805 854L805 859L805 866L805 869L806 799L806 801L806 846L806 850L806 862L807 741L807 755L807 818L807 821L808 840L808 845L808 855L808 870L809 764L809 829L809 832L809 843L809 854L809 858L809 869L810 818L810 839L810 842L810 853L811 773L811 781L811 809L811 841L811 858L811 869L812 862L812 868L813 745L813 794L813 801L813 811L813 839L813 852L813 863L813 864L814 799L814 852L814 867L814 869L815 795L815 811L815 854L816 777L816 830L816 843L816 854L817 752L817 858L817 869L818 784L818 804L818 815L818 831L818 833L818 833L818 836L818 847L818 856L819 756L819 799L819 800L819 838L819 852L819 853L820 783L820 790L820 834L820 838L820 850L820 854L821 841L821 843L821 865L821 870L822 820L822 859L822 866L822 868L823 840L823 843L823 870L824 826L824 827L824 855L824 870L825 804L825 819L825 841L825 843L825 869L826 848L826 860L826 863L827 755L827 805L827 837L827 849L827 862L827 867L828 797L828 815L828 829L828 834L828 857L829 787L829 811L830 742L830 776L830 852L830 865L831 807L831 847L831 847L831 859L831 867L832 775L832 788L832 807L832 815L832 854L833 844L833 851L833 856L833 862L834 770L834 775L834 789L834 810L834 821L834 855L834 860L834 867L834 870L835 838L835 839L835 846L835 850L836 793L836 817L836 858L836 869L837 789L837 798L837 869L837 870L838 726L838 836L838 864L838 868L839 839L839 859L840 828L840 838L840 843L841 796L841 803L841 822L841 831L841 853L842 787L842 818L842 821L842 834L842 847L842 863L843 823L843 851L843 853L843 864L844 845L844 866L845 790L845 841L845 854L845 868L846 867L847 716L847 761L847 780L847 801L847 842L847 848L847 853L848 773L848 810L848 817L848 836L848 861L848 862L849 701L849 800L849 828L849 860L849 863L850 870L851 773L851 831L851 834L851 841L851 848L852 733L852 806L852 828L852 831L852 836L852 837L852 843L852 847L853 810L853 825L853 862L853 863L854 818L854 850L854 867L854 868L854 869L855 800L855 839L855 842L856 850L857 767L857 814L857 826L857 851L857 859L858 732L858 733L858 785L858 847L858 860L859 794L859 817L859 822L859 831L859 844L859 849L859 859L860 778L860 857L860 866L861 800L861 825L861 846L861 847L862 815L862 825L862 855L862 865L862 866L863 833L863 855L864 826L864 861L864 863L864 870L865 814L865 843L865 864L865 869L866 796L866 852L866 852L866 864L867 757" class="mb"/>
<circle cx="783.2" cy="666.9" r="3.85" class="ob"/>
<circle cx="790.9" cy="674.0" r="3.85" class="ob"/>
<circle cx="791.5" cy="657.9" r="3.85" class="ob"/>
<circle cx="791.8" cy="609.2" r="3.85" class="ob"/>
<circle cx="794.6" cy="603.0" r="3.85" class="ob"/>
<circle cx="794.9" cy="435.2" r="3.85" class="ob"/>
<circle cx="794.9" cy="660.7" r="3.85" class="ob"/>
<circle cx="800.5" cy="499.7" r="3.85" class="ob"/>
<circle cx="800.8" cy="642.8" r="3.85" class="ob"/>
<circle cx="801.1" cy="670.6" r="3.85" class="ob"/>
<circle cx="801.4" cy="460.8" r="3.85" class="ob"/>
<circle cx="801.4" cy="676.1" r="3.85" class="ob"/>
<circle cx="802.0" cy="662.0" r="3.85" class="ob"/>
<circle cx="802.3" cy="649.3" r="3.85" class="ob"/>
<circle cx="807.2" cy="507.4" r="3.85" class="ob"/>
<circle cx="818.4" cy="654.9" r="3.85" class="ob"/>
<circle cx="818.4" cy="675.5" r="3.85" class="ob"/>
<circle cx="819.6" cy="603.0" r="3.85" class="ob"/>
<circle cx="823.0" cy="646.5" r="3.85" class="ob"/>
<circle cx="825.1" cy="670.6" r="3.85" class="ob"/>
<circle cx="832.9" cy="574.0" r="3.85" class="ob"/>
<circle cx="832.9" cy="637.3" r="3.85" class="ob"/>
<circle cx="834.1" cy="676.4" r="3.85" class="ob"/>
<circle cx="839.3" cy="677.1" r="3.85" class="ob"/>
<circle cx="840.9" cy="661.6" r="3.85" class="ob"/>
<circle cx="849.2" cy="499.4" r="3.85" class="ob"/>
<circle cx="853.2" cy="649.3" r="3.85" class="ob"/>
<circle cx="854.1" cy="623.7" r="3.85" class="ob"/>
<circle cx="856.6" cy="666.9" r="3.85" class="ob"/>
<circle cx="859.7" cy="675.5" r="3.85" class="ob"/>
<circle cx="860.6" cy="589.1" r="3.85" class="ob"/>
<circle cx="868.9" cy="655.8" r="3.85" class="ob"/>
<path d="M876 822L876 858L876 865L876 869L877 759L877 774L877 786L877 788L877 813L877 822L877 837L877 847L877 852L877 854L877 857L877 860L877 864L877 864L877 866L877 870L878 723L878 777L878 800L878 811L878 826L878 829L878 833L878 841L878 846L878 847L878 850L878 867L879 777L879 820L879 820L879 825L879 838L879 842L879 862L880 792L880 818L880 827L880 835L880 847L880 868L880 870L881 754L881 771L881 795L881 804L881 806L881 807L881 808L882 769L882 781L882 799L882 805L882 812L882 817L882 842L882 847L882 855L883 782L883 792L883 808L883 833L883 859L883 860L884 812L884 838L884 853L884 864L884 868L885 726L885 728L885 768L885 810L885 817L885 840L885 841L885 851L885 868L885 870L886 791L886 814L886 849L887 709L887 771L887 796L887 817L887 828L887 836L887 836L887 853L888 709L888 766L888 860L889 803L889 830L889 846L889 857L889 866L890 776L890 817L890 843L890 850L890 851L890 856L890 870L891 796L891 812L891 825L891 827L891 828L891 835L891 863L891 865L891 869L892 770L892 805L892 815L892 815L892 819L892 839L892 840L892 846L892 855L892 860L892 870L893 788L893 789L893 811L893 832L893 870L894 755L894 774L894 795L894 812L894 832L894 838L894 866L894 870L895 742L895 780L895 788L895 791L895 803L895 809L895 822L895 826L895 858L896 726L896 738L896 752L896 798L896 799L896 825L896 847L896 850L896 853L896 859L897 777L897 779L897 790L897 842L897 849L897 861L898 707L898 771L898 776L898 776L898 806L898 806L898 812L898 815L898 830L898 837L898 843L898 844L898 856L898 867L898 869L899 811L899 868L900 754L900 796L900 800L900 805L900 828L900 830L900 836L900 865L901 749L901 774L901 795L901 835L901 842L901 843L901 867L902 797L902 847L902 853L902 857L903 710L903 734L903 765L903 811L903 812L903 813L903 821L903 822L903 824L903 831L903 854L904 804L904 823L904 850L904 861L904 867L904 869L905 763L905 778L905 818L905 824L905 841L905 850L906 729L906 799L906 806L906 817L906 837L906 840L906 859L906 862L907 751L907 757L907 775L907 784L907 832L907 848L907 864L907 868L908 724L908 817L908 822L908 849L908 852L909 707L909 830L909 834L909 839L909 846L909 853L909 866L910 760L910 774L910 782L910 793L910 793L910 807L910 824L910 841L910 851L910 858L910 858L910 869L910 870L911 733L911 772L911 776L911 785L911 802L911 805L911 806L911 815L911 817L911 823L911 870L912 712L912 815L912 833L912 844L912 866L913 768L913 782L913 783L913 794L913 820L913 832L913 837L913 857L914 741L914 768L914 777L914 856L915 833L915 849L915 849L915 861L915 865L916 700L916 795L916 795L916 797L916 818L916 830L916 840L916 844L916 849L917 689L917 791L917 857L917 864L917 866L917 870L917 870L918 765L918 807L918 839L918 845L918 870L919 718L919 786L919 810L919 811L919 822L919 829L919 832L919 841L919 855L920 768L920 770L920 794L920 799L920 810L920 826L920 849L920 852L920 857L921 751L921 759L921 773L921 832L921 842L921 861L921 869L921 870L922 790L922 823L922 823L922 836L922 866L923 744L923 754L923 799L923 801L923 838L923 847L923 860L924 788L924 803L924 814L924 825L924 825L924 830L924 849L924 870L925 724L925 769L925 792L925 809L925 818L925 819L925 843L925 852L925 852L926 787L926 810L926 812L926 819L926 822L926 838L926 853L926 859L926 862L926 864L927 831L927 832L927 845L927 859L927 861L928 765L928 783L928 788L928 793L928 814L928 837L928 842L929 693L929 739L929 772L929 779L929 798L929 807L929 833L929 850L929 851L929 868L929 869L930 788L930 789L930 791L930 798L930 809L930 827L930 833L930 847L930 856L930 867L931 704L931 802L931 816L931 821L931 824L931 859L932 763L932 772L932 797L932 805L932 816L932 822L932 828L932 849L933 745L933 840L933 865L934 755L934 769L934 775L934 789L934 794L934 803L934 811L934 817L934 840L934 841L934 855L934 861L934 867L935 741L935 792L935 798L935 800L935 810L935 817L935 825L935 832L935 832L935 843L935 845L935 858L936 703L936 732L936 792L936 825L936 830L936 837L936 850L936 852L936 867L936 869L937 769L937 809L937 818L937 860L938 803L938 828L938 845L938 866L939 737L939 806L939 816L939 838L939 854L939 855L939 859L939 868L939 869L940 685L940 769L940 809L940 816L940 830L940 848L941 762L941 763L941 795L941 815L941 823L941 826L941 834L941 836L941 844L941 844L941 861L942 790L942 840L943 810L943 821L943 832L943 852L943 864L943 869L944 778L944 804L944 818L944 850L944 867L944 868L945 735L945 747L945 773L945 793L945 807L945 827L945 830L945 847L945 850L945 858L945 860L946 761L946 763L946 789L946 839L946 839L946 844L947 722L947 807L947 811L947 850L947 858L947 859L947 865L947 870L948 785L948 797L948 819L948 824L948 825L948 838L948 840L949 807L949 815L949 816L949 832L949 847L949 852L949 867L949 869L950 699L950 791L950 831L950 832L951 782L951 786L951 811L951 850L951 862L951 870L952 715L952 799L952 822L952 839L952 842L952 851L953 739L953 796L953 814L953 828L953 834L953 835L953 855L953 869L954 767L954 810L954 817L954 819L954 825L954 847L954 854L954 858L954 862L954 865L954 866L954 869L955 733L955 828L955 845L955 852L955 870L956 769L956 820L956 841L957 791L957 798L957 804L957 833L957 844L958 756L958 772L958 792L958 806L958 827L958 838L958 859L958 868L959 730L959 796L959 816L959 818L959 820L959 825L959 828L959 828L959 842L959 844L959 854L959 870L960 764L960 786L960 808L960 825L960 831L960 834L960 834L960 838L960 853L960 855L960 855L960 860L960 861L960 864L960 869" class="mg"/>
<circle cx="876.0" cy="618.5" r="3.85" class="og"/>
<circle cx="877.9" cy="547.5" r="3.85" class="og"/>
<circle cx="878.8" cy="561.1" r="3.85" class="og"/>
<circle cx="878.8" cy="639.7" r="3.85" class="og"/>
<circle cx="886.5" cy="544.4" r="3.85" class="og"/>
<circle cx="888.7" cy="655.5" r="3.85" class="og"/>
<circle cx="891.8" cy="659.8" r="3.85" class="og"/>
<circle cx="891.8" cy="368.4" r="3.85" class="og"/>
<circle cx="893.0" cy="456.5" r="3.85" class="og"/>
<circle cx="893.6" cy="646.8" r="3.85" class="og"/>
<circle cx="896.7" cy="640.0" r="3.85" class="og"/>
<circle cx="928.2" cy="633.0" r="3.85" class="og"/>
<circle cx="932.8" cy="454.0" r="3.85" class="og"/>
<circle cx="933.1" cy="603.3" r="3.85" class="og"/>
<circle cx="933.4" cy="630.2" r="3.85" class="og"/>
<circle cx="935.9" cy="646.8" r="3.85" class="og"/>
<circle cx="937.4" cy="671.5" r="3.85" class="og"/>
<circle cx="952.5" cy="662.0" r="3.85" class="og"/>
<circle cx="955.6" cy="407.5" r="3.85" class="og"/>
<circle cx="964.6" cy="604.3" r="3.85" class="og"/>
<circle cx="964.6" cy="674.6" r="3.85" class="og"/>
<path d="M970 765L970 827L970 834L970 846L970 850L970 854L970 855L970 859L970 865L971 718L971 830L971 833L971 833L971 836L971 839L971 840L971 840L971 843L971 848L971 849L971 863L971 864L971 865L971 865L972 724L972 747L972 769L972 794L972 816L972 860L973 750L973 777L973 814L973 825L973 838L973 845L973 847L973 862L973 869L973 870L974 745L974 758L974 759L974 800L974 821L974 868L975 686L975 724L975 814L975 820L975 820L975 824L975 842L975 849L975 857L975 859L975 860L976 769L976 803L976 811L976 827L976 831L976 834L976 853L976 868L977 696L977 741L977 857L977 869L978 772L978 815L978 821L978 838L978 851L978 867L979 775L979 781L979 825L979 827L979 868L979 870L980 760L980 782L980 832L980 834L980 836L980 843L980 843L981 695L981 746L981 773L981 780L981 799L981 800L981 808L981 821L981 840L981 847L981 857L981 863L982 796L982 800L982 818L982 828L982 851L982 857L982 859L983 815L983 820L983 850L983 862L983 868L984 798L984 802L984 817L984 831L984 837L984 862L984 867L985 770L985 838L985 846L986 692L986 770L986 781L986 809L986 854L986 865L987 708L987 745L987 754L987 764L987 796L987 833L987 835L987 843L987 853L987 858L987 870L988 810L988 813L988 815L988 845L988 851L989 684L989 762L989 772L989 793L989 802L989 821L989 823L989 832L989 833L989 857L989 863L989 867L990 797L990 834L990 842L990 868L991 793L991 805L991 826L991 842L991 849L991 855L992 771L992 805L992 816L992 834L992 841L992 855L992 870L993 694L993 745L993 824L993 850L993 863L994 816L994 855L994 863L994 869L995 768L995 799L995 813L995 837L995 841L995 846L995 853L995 870L996 766L996 824L996 862L997 702L997 719L997 768L997 769L997 777L997 787L997 849L998 797L998 809L998 817L998 830L998 836L998 838L998 852L998 870L999 806L999 814L999 819L999 827L999 830L999 845L999 848L999 853L999 861L1000 802L1000 809L1000 831L1000 848L1000 858L1000 862L1000 869L1001 800L1001 802L1001 823L1001 842L1001 858L1001 869L1002 760L1002 792L1002 794L1002 794L1002 830L1002 843L1002 863L1002 870L1003 802L1003 841L1004 700L1004 781L1004 795L1004 837L1004 848L1004 854L1004 867L1005 713L1005 770L1005 773L1005 806L1005 816L1005 829L1005 833L1005 855L1005 869L1006 772L1006 785L1006 813L1006 814L1006 828L1006 837L1006 859L1006 869L1007 792L1007 846L1007 850L1007 854L1007 861L1008 768L1008 789L1008 821L1008 848L1008 852L1009 748L1009 821L1009 861L1009 866L1009 869L1010 772L1010 798L1010 802L1010 826L1010 830L1010 837L1010 840L1010 840L1010 842L1011 763L1011 793L1011 807L1011 833L1011 835L1011 852L1011 857L1011 869L1012 791L1012 796L1012 800L1012 810L1013 730L1013 769L1013 776L1013 784L1013 811L1013 814L1013 815L1013 868L1014 760L1014 784L1014 826L1014 831L1014 846L1014 855L1014 855L1014 861L1014 865L1014 867L1014 869L1015 761L1015 770L1015 785L1015 823L1015 841L1015 845L1015 847L1015 851L1015 870L1016 812L1016 842L1016 870L1017 816L1017 827L1017 834L1017 860L1017 870L1018 738L1018 787L1018 792L1018 796L1018 809L1018 831L1018 841L1018 851L1018 863L1019 825L1019 836L1019 837L1019 849L1019 857L1019 867L1020 697L1020 750L1020 777L1020 780L1020 808L1020 830L1020 844L1020 854L1021 794L1021 828L1021 840L1021 850L1021 858L1021 861L1021 867L1021 869L1022 758L1022 774L1022 839L1022 842L1022 850L1023 755L1023 773L1023 793L1023 815L1023 824L1023 830L1023 831L1023 851L1023 868L1024 719L1024 735L1024 787L1024 800L1024 801L1024 812L1024 812L1024 828L1024 844L1024 866L1025 735L1025 752L1025 818L1025 846L1025 862L1025 870L1026 775L1026 814L1026 820L1026 823L1026 856L1026 861L1027 772L1027 806L1027 831L1027 836L1027 857L1027 869L1027 870L1028 775L1028 794L1028 800L1028 802L1028 802L1028 807L1028 820L1028 844L1028 845L1028 849L1028 853L1029 828L1029 854L1029 859L1029 869L1030 772L1030 781L1030 797L1030 810L1030 821L1030 840L1030 856L1030 865L1031 777L1031 827L1031 827L1031 834L1031 835L1031 837L1031 842L1031 866L1032 749L1032 808L1032 810L1032 869L1033 774L1033 805L1033 806L1033 824L1033 824L1033 830L1033 836L1033 841L1033 847L1033 858L1033 869L1034 779L1034 785L1034 789L1034 800L1034 803L1034 848L1034 855L1034 858L1034 865L1035 754L1035 775L1035 780L1035 784L1035 786L1035 831L1035 837L1035 863L1035 869L1036 778L1036 812L1036 846L1036 850L1036 854L1036 865L1037 822L1037 824L1038 772L1038 778L1038 788L1038 823L1038 829L1038 841L1038 843L1038 869L1039 686L1039 799L1039 821L1039 854L1040 750L1040 803L1040 806L1040 814L1040 832L1040 837L1040 837L1040 842L1040 860L1040 866L1041 770L1041 787L1041 798L1041 811L1041 823L1041 833L1041 833L1041 837L1041 847L1041 863L1041 864L1041 865L1041 869L1042 701L1042 814L1042 847L1042 850L1042 855L1042 859L1042 860" class="mb"/>
<circle cx="967.0" cy="679.2" r="3.85" class="ob"/>
<circle cx="972.9" cy="612.0" r="3.85" class="ob"/>
<circle cx="972.9" cy="637.9" r="3.85" class="ob"/>
<circle cx="973.8" cy="377.6" r="3.85" class="ob"/>
<circle cx="982.8" cy="493.2" r="3.85" class="ob"/>
<circle cx="997.3" cy="567.9" r="3.85" class="ob"/>
<circle cx="1005.0" cy="664.1" r="3.85" class="ob"/>
<circle cx="1018.6" cy="481.8" r="3.85" class="ob"/>
<circle cx="1023.2" cy="245.6" r="3.85" class="ob"/>
<circle cx="1026.6" cy="641.3" r="3.85" class="ob"/>
<circle cx="1043.2" cy="534.2" r="3.85" class="ob"/>
<circle cx="1043.9" cy="678.6" r="3.85" class="ob"/>
<circle cx="1049.7" cy="673.4" r="3.85" class="ob"/>
<path d="M1052 724L1052 785L1052 818L1052 821L1052 823L1052 826L1052 826L1052 831L1052 831L1052 831L1052 836L1052 839L1052 840L1052 843L1052 844L1052 846L1052 848L1052 853L1052 855L1052 856L1052 864L1052 867L1053 753L1053 767L1053 778L1053 803L1053 804L1053 818L1053 830L1053 850L1053 853L1053 863L1053 866L1053 869L1054 712L1054 742L1054 763L1054 766L1054 797L1054 797L1054 829L1054 837L1054 856L1054 863L1054 868L1055 714L1055 789L1055 790L1055 799L1055 813L1055 815L1055 815L1055 844L1055 850L1055 863L1055 869L1056 752L1056 762L1056 781L1056 823L1056 838L1056 842L1057 735L1057 747L1057 773L1057 777L1057 778L1057 779L1057 790L1057 804L1057 831L1057 833L1058 752L1058 764L1058 767L1058 776L1058 795L1058 808L1058 817L1058 848L1058 856L1058 856L1058 870L1058 870L1059 730L1059 734L1059 747L1059 800L1059 804L1059 820L1059 827L1059 844L1059 857L1059 869L1060 696L1060 753L1060 760L1060 788L1060 795L1060 807L1060 815L1060 818L1060 824L1060 834L1060 862L1060 865L1061 688L1061 695L1061 767L1061 825L1061 839L1061 848L1062 810L1062 831L1062 837L1062 847L1062 853L1062 855L1062 863L1062 870L1062 870L1062 870L1063 739L1063 785L1063 788L1063 792L1063 802L1063 802L1063 805L1063 810L1063 810L1063 848L1063 856L1063 870L1064 743L1064 747L1064 796L1064 835L1064 842L1065 709L1065 740L1065 756L1065 763L1065 833L1065 849L1065 861L1065 870L1066 763L1066 779L1066 784L1066 807L1066 815L1066 819L1066 824L1066 828L1066 828L1066 858L1066 862L1067 712L1067 751L1067 771L1067 788L1067 811L1067 819L1067 826L1067 835L1067 842L1067 849L1067 869L1068 716L1068 721L1068 744L1068 748L1068 783L1068 791L1068 816L1068 820L1068 843L1069 743L1069 801L1069 803L1069 807L1069 855L1069 870L1070 706L1070 720L1070 772L1070 792L1070 815L1070 838L1071 694L1071 732L1071 800L1071 804L1071 812L1071 817L1071 822L1071 831L1071 851L1071 854L1071 863L1071 865L1071 870L1072 711L1072 724L1072 775L1072 794L1072 795L1072 810L1072 823L1072 834L1072 836L1072 838L1072 839L1072 842L1072 845L1072 849L1072 859L1072 870L1073 708L1073 734L1073 753L1073 771L1073 778L1073 794L1073 810L1073 818L1073 823L1073 827L1073 832L1073 834L1073 840L1073 845L1073 846L1073 849L1073 853L1073 853L1073 854L1073 856L1073 861L1073 868L1073 868L1073 870L1074 729L1074 828L1074 859L1074 868L1074 869L1092 721L1092 795L1092 835L1092 855L1092 862L1092 864L1092 865L1092 866L1092 867L1093 804L1093 806L1093 808L1093 817L1093 826L1093 833L1093 834L1093 849L1093 857L1093 861L1094 744L1094 757L1094 787L1094 804L1094 809L1094 810L1094 813L1094 813L1094 815L1094 816L1094 823L1094 827L1094 838L1094 840L1094 841L1094 842L1094 847L1094 856L1095 754L1095 782L1095 784L1095 787L1095 797L1095 822L1095 837L1095 846L1095 853L1095 870L1096 750L1096 757L1096 768L1096 780L1096 781L1096 783L1096 790L1096 790L1096 801L1096 829L1096 843L1096 845L1096 846L1096 853L1096 861L1096 868L1096 870L1097 776L1097 790L1097 806L1098 756L1098 783L1098 791L1098 793L1098 824L1098 826L1098 827L1098 832L1098 838L1098 870L1098 870L1099 762L1099 801L1099 810L1099 813L1099 855L1099 864L1099 864L1100 799L1100 804L1100 819L1100 832L1100 840L1100 857L1101 719L1101 736L1101 781L1101 819L1101 828L1101 831L1101 851L1101 852L1101 857L1102 713L1102 738L1102 758L1102 779L1102 784L1102 792L1102 798L1102 815L1102 817L1102 843L1102 869L1102 870L1103 734L1103 757L1103 762L1103 802L1103 805L1103 811L1103 838L1103 838L1103 846L1103 861L1103 870L1104 740L1104 791L1104 824L1104 827L1104 846L1104 850L1104 866L1105 764L1105 772L1105 796L1105 833L1105 841L1105 847L1105 864L1106 715L1106 766L1106 779L1106 780L1106 813L1106 816L1106 821L1106 838L1106 851L1106 855L1106 858L1107 753L1107 789L1107 800L1107 805L1107 821L1107 868L1107 868L1107 870L1108 708L1108 727L1108 739L1108 781L1108 783L1108 784L1108 790L1108 794L1108 807L1108 810L1108 828L1108 830L1108 831L1108 857L1108 864L1109 741L1109 742L1109 799L1109 816L1109 847L1109 857L1110 688L1110 723L1110 748L1110 778L1110 800L1110 829L1110 837L1110 838L1110 868L1111 717L1111 725L1111 754L1111 778L1111 788L1111 796L1111 805L1111 810L1111 841L1111 843L1111 865L1112 721L1112 772L1112 792L1112 792L1112 821L1112 836L1112 840L1112 846L1112 852L1112 860L1112 868L1113 728L1113 779L1113 801L1113 812L1113 815L1113 818L1113 823L1113 824L1113 847L1113 850L1114 741L1114 747L1114 750L1114 787L1114 845L1114 854L1115 688L1115 743L1115 787L1115 804L1115 810L1115 830L1115 833L1115 839L1115 850L1115 850L1115 855L1115 858L1115 869L1116 771L1116 779L1116 780L1116 793L1116 800L1116 823L1116 841L1116 855L1116 862L1116 864L1116 866L1116 869L1116 869L1117 797L1117 801L1117 805L1117 813L1117 820L1117 829L1118 688L1118 766L1118 822L1118 826L1118 846L1118 856L1118 869L1119 754L1119 805L1119 809L1120 779L1120 782L1120 795L1120 808L1120 816L1120 833L1120 838L1120 859L1120 860L1120 870L1121 714L1121 760L1121 770L1121 805L1121 819L1121 830L1121 834L1121 839L1121 843L1122 730L1122 744L1122 786L1122 787L1122 814L1122 815L1122 826L1122 849L1122 850L1122 870L1123 801L1123 820L1123 824L1123 824L1123 831L1123 834L1123 835L1123 843L1123 843L1123 846L1123 852L1123 852L1123 862L1123 862L1123 863L1123 864L1123 869L1123 870L1124 717L1124 785L1124 788L1124 793L1124 823L1124 840L1124 845L1124 847L1124 850L1124 857L1124 863L1124 870" class="mg"/>
<circle cx="1054.0" cy="656.7" r="3.85" class="og"/>
<circle cx="1058.0" cy="602.1" r="3.85" class="og"/>
<circle cx="1070.4" cy="642.8" r="3.85" class="og"/>
<circle cx="1071.9" cy="655.5" r="3.85" class="og"/>
<circle cx="1071.9" cy="662.3" r="3.85" class="og"/>
<circle cx="1092.3" cy="434.3" r="3.85" class="og"/>
<circle cx="1092.6" cy="568.5" r="3.85" class="og"/>
<circle cx="1093.5" cy="645.9" r="3.85" class="og"/>
<circle cx="1101.2" cy="615.7" r="3.85" class="og"/>
<circle cx="1107.1" cy="675.5" r="3.85" class="og"/>
<circle cx="1109.3" cy="666.0" r="3.85" class="og"/>
<circle cx="1116.3" cy="662.3" r="3.85" class="og"/>
<circle cx="1118.5" cy="167.9" r="3.85" class="og"/>
<circle cx="1121.6" cy="493.2" r="3.85" class="og"/>
<circle cx="1121.6" cy="611.7" r="3.85" class="og"/>
<circle cx="1128.1" cy="673.4" r="3.85" class="og"/>
<circle cx="1131.2" cy="635.4" r="3.85" class="og"/>
<circle cx="1131.2" cy="653.6" r="3.85" class="og"/>
<path d="M1133 823L1133 827L1133 856L1133 867L1134 800L1134 825L1134 832L1134 840L1134 850L1134 855L1134 859L1134 860L1134 864L1134 865L1134 868L1134 870L1135 755L1135 765L1135 778L1135 837L1135 838L1135 848L1135 854L1136 850L1136 859L1137 793L1137 804L1137 811L1137 825L1137 846L1137 870L1138 751L1138 765L1138 810L1138 815L1138 839L1138 840L1138 843L1138 846L1138 855L1138 865L1139 763L1139 819L1139 828L1139 853L1139 859L1139 869L1140 778L1140 847L1140 864L1141 697L1141 832L1141 840L1141 859L1141 870L1142 700L1142 763L1142 792L1142 796L1142 826L1142 827L1142 846L1143 788L1143 807L1143 824L1143 832L1143 854L1143 863L1144 709L1144 750L1144 774L1144 834L1144 839L1144 868L1144 869L1145 782L1145 786L1145 800L1145 811L1145 819L1145 824L1145 831L1145 849L1145 854L1145 858L1145 863L1145 867L1146 716L1146 778L1146 788L1146 831L1146 837L1146 849L1147 759L1147 841L1147 844L1148 714L1148 814L1148 816L1148 823L1148 829L1148 833L1148 851L1148 860L1148 865L1149 717L1149 840L1149 843L1149 850L1149 866L1150 771L1150 812L1150 812L1150 818L1150 857L1151 801L1151 813L1151 820L1151 821L1151 823L1151 834L1151 857L1151 867L1152 793L1152 798L1152 856L1153 833L1153 834L1153 846L1153 855L1153 863L1153 865L1153 867L1154 809L1154 824L1154 839L1154 841L1154 843L1154 850L1154 864L1155 858L1155 868L1156 784L1156 808L1156 851L1156 856L1156 870L1156 870L1157 777L1157 823L1157 828L1157 830L1157 837L1158 772L1158 794L1158 800L1158 806L1158 832L1158 846L1158 853L1159 782L1159 800L1159 831L1159 836L1159 849L1159 861L1159 863L1159 867L1160 785L1160 790L1160 815L1160 834L1160 841L1160 845L1161 757L1161 794L1161 796L1161 804L1161 820L1161 847L1161 870L1162 794L1162 827L1162 828L1162 836L1162 858L1162 861L1162 868L1163 832L1163 851L1163 854L1163 863L1163 868L1163 869L1164 766L1164 807L1164 814L1164 840L1165 747L1165 758L1165 782L1165 810L1165 828L1165 837L1165 853L1166 813L1166 846L1166 846L1166 856L1166 868L1167 737L1167 820L1167 821L1167 824L1167 837L1167 865L1168 816L1168 828L1168 870L1169 699L1169 718L1169 770L1169 834L1169 835L1169 843L1169 846L1169 858L1169 860L1169 863L1169 870L1170 702L1170 703L1170 726L1170 829L1170 841L1170 850L1170 854L1171 786L1171 818L1171 823L1171 869L1172 797L1172 802L1172 850L1172 865L1172 870L1173 745L1173 793L1173 796L1173 827L1173 840L1173 846L1173 856L1173 858L1173 866L1174 790L1174 823L1174 837L1175 739L1175 802L1175 833L1175 868L1176 778L1176 804L1176 810L1176 812L1176 826L1176 828L1176 840L1176 848L1176 851L1176 861L1177 780L1177 788L1177 821L1177 827L1177 831L1177 836L1177 836L1177 843L1177 857L1178 820L1178 850L1178 862L1178 864L1178 869L1178 869L1179 723L1179 748L1179 803L1179 830L1179 841L1179 857L1179 861L1180 739L1180 777L1180 794L1180 821L1180 830L1180 851L1180 870L1181 810L1181 815L1181 816L1181 856L1181 868L1182 768L1182 820L1182 843L1182 845L1182 853L1183 867L1183 868L1184 751L1184 816L1184 836L1184 836L1184 837L1184 847L1185 818L1185 822L1185 826L1185 845L1185 860L1185 862L1186 816L1186 827L1186 829L1186 850L1186 854L1186 864L1187 754L1187 799L1187 805L1187 811L1187 831L1187 854L1187 857L1187 869L1188 768L1188 796L1188 810L1188 819L1188 847L1188 869L1189 809L1189 824L1189 857L1189 864L1189 869L1190 729L1190 767L1190 808L1190 832L1190 838L1190 842L1190 870L1192 735L1192 738L1192 784L1192 784L1192 811L1192 822L1192 849L1192 853L1192 857L1192 864L1192 865L1193 811L1193 823L1193 830L1193 833L1193 840L1194 724L1194 798L1194 828L1194 839L1194 853L1194 869L1195 763L1195 802L1195 844L1195 859L1196 790L1196 804L1196 806L1196 814L1196 823L1196 831L1196 837L1196 846L1196 850L1196 869L1197 728L1197 795L1197 839L1197 845L1197 860L1197 865L1198 726L1198 742L1198 788L1198 789L1198 836L1198 849L1198 860L1199 763L1199 842L1199 850L1199 855L1199 856L1199 858L1200 826L1200 838L1200 855L1200 863L1200 863L1200 864L1200 865" class="mb"/>
<circle cx="1135.5" cy="674.6" r="3.85" class="ob"/>
<circle cx="1138.9" cy="650.8" r="3.85" class="ob"/>
<circle cx="1139.8" cy="665.0" r="3.85" class="ob"/>
<circle cx="1141.0" cy="626.8" r="3.85" class="ob"/>
<circle cx="1143.2" cy="429.7" r="3.85" class="ob"/>
<circle cx="1148.7" cy="652.4" r="3.85" class="ob"/>
<circle cx="1156.1" cy="642.8" r="3.85" class="ob"/>
<circle cx="1160.5" cy="589.8" r="3.85" class="ob"/>
<circle cx="1172.8" cy="661.6" r="3.85" class="ob"/>
<circle cx="1173.4" cy="467.0" r="3.85" class="ob"/>
<circle cx="1174.6" cy="577.1" r="3.85" class="ob"/>
<circle cx="1174.6" cy="652.4" r="3.85" class="ob"/>
<circle cx="1175.0" cy="667.8" r="3.85" class="ob"/>
<circle cx="1178.7" cy="672.1" r="3.85" class="ob"/>
<circle cx="1181.1" cy="602.1" r="3.85" class="ob"/>
<circle cx="1185.1" cy="612.0" r="3.85" class="ob"/>
<circle cx="1186.7" cy="351.4" r="3.85" class="ob"/>
<circle cx="1189.1" cy="678.0" r="3.85" class="ob"/>
<circle cx="1198.7" cy="502.8" r="3.85" class="ob"/>
<circle cx="1198.7" cy="580.2" r="3.85" class="ob"/>
<circle cx="1199.9" cy="536.4" r="3.85" class="ob"/>
<circle cx="1199.9" cy="664.1" r="3.85" class="ob"/>
<path d="M1209 795L1209 802L1209 806L1209 812L1209 840L1209 859L1209 870L1210 748L1210 763L1210 783L1210 787L1210 800L1210 801L1210 804L1210 809L1210 820L1210 821L1210 828L1210 828L1210 846L1210 846L1210 846L1210 849L1210 850L1210 850L1210 854L1210 855L1210 859L1210 864L1211 695L1211 747L1211 756L1211 763L1211 768L1211 781L1211 786L1211 806L1211 814L1211 818L1211 820L1211 823L1211 825L1211 829L1211 836L1211 844L1211 857L1211 859L1211 865L1211 867L1211 868L1211 870L1212 799L1212 810L1212 832L1212 837L1212 839L1212 870L1213 722L1213 761L1213 790L1213 790L1213 798L1213 802L1213 813L1213 824L1213 870L1214 779L1214 781L1214 797L1214 828L1214 843L1214 850L1215 742L1215 756L1215 765L1215 784L1215 790L1215 796L1215 806L1215 817L1215 859L1215 863L1216 704L1216 763L1216 774L1216 777L1216 799L1216 801L1216 811L1216 836L1216 858L1216 861L1216 865L1217 688L1217 716L1217 751L1217 800L1217 816L1217 820L1217 820L1217 836L1217 843L1217 851L1217 853L1217 870L1218 694L1218 748L1218 783L1218 812L1218 836L1218 870L1219 721L1219 763L1219 779L1219 783L1219 806L1219 807L1219 824L1219 828L1219 832L1219 843L1219 848L1219 869L1219 870L1220 754L1220 793L1220 795L1220 796L1220 807L1220 811L1220 828L1220 833L1220 841L1220 842L1220 870L1221 709L1221 734L1221 781L1221 789L1221 847L1221 856L1221 860L1221 862L1221 869L1222 737L1222 758L1222 780L1222 787L1222 788L1222 816L1222 819L1222 833L1223 738L1223 772L1223 772L1223 822L1223 822L1223 851L1223 861L1224 699L1224 739L1224 752L1224 783L1224 798L1224 799L1224 801L1224 816L1224 828L1224 838L1224 838L1224 849L1224 854L1224 857L1225 701L1225 772L1225 801L1225 816L1225 866L1225 870L1225 870L1226 743L1226 745L1226 761L1226 774L1226 810L1226 812L1226 845L1226 861L1226 870L1227 682L1227 713L1227 758L1227 766L1227 785L1227 798L1227 803L1227 807L1227 827L1227 837L1227 844L1227 850L1227 865L1227 870L1228 726L1228 742L1228 743L1228 783L1228 824L1228 832L1228 833L1228 844L1228 865L1228 870L1229 726L1229 738L1229 783L1229 786L1229 810L1229 823L1229 828L1229 839L1229 856L1230 696L1230 731L1230 740L1230 769L1230 792L1230 796L1230 816L1230 822L1230 843L1230 858L1230 870L1231 727L1231 777L1231 787L1231 797L1231 800L1231 806L1231 808L1231 814L1231 825L1231 831L1231 835L1231 850L1231 856L1231 867L1231 870L1231 870L1232 686L1232 706L1232 742L1232 742L1232 777L1232 779L1232 790L1232 817L1232 826L1232 843L1232 850L1232 852L1232 860L1233 690L1233 719L1233 751L1233 753L1233 800L1233 808L1233 824L1233 834L1233 842L1233 857L1233 870L1234 749L1234 760L1234 763L1234 770L1234 783L1234 802L1234 815L1234 832L1234 852L1234 864L1235 719L1235 771L1235 773L1235 787L1235 846L1235 870L1235 870L1235 870L1236 692L1236 726L1236 743L1236 745L1236 765L1236 782L1236 790L1236 818L1236 819L1236 844L1236 849L1236 863L1237 692L1237 703L1237 779L1237 797L1237 809L1237 835L1237 836L1237 842L1238 735L1238 749L1238 768L1238 790L1238 791L1238 803L1238 807L1238 814L1238 817L1238 823L1238 826L1238 863L1238 870L1238 870L1239 725L1239 749L1239 765L1239 775L1239 824L1239 826L1239 831L1239 832L1239 837L1239 855L1239 858L1239 861L1239 870L1240 748L1240 779L1240 789L1240 798L1240 803L1240 826L1240 844L1240 850L1240 855L1241 734L1241 762L1241 782L1241 793L1241 796L1241 823L1241 828L1241 848L1241 852L1241 864L1241 870L1242 764L1242 786L1242 796L1242 809L1242 812L1242 834L1242 865L1242 870L1242 870L1243 751L1243 765L1243 803L1243 816L1243 842L1243 865L1244 700L1244 724L1244 752L1244 775L1244 779L1244 785L1244 817L1244 826L1244 838L1244 841L1244 870L1245 750L1245 756L1245 760L1245 773L1245 793L1245 801L1245 802L1245 806L1245 809L1245 811L1245 820L1245 823L1245 833L1245 847L1245 856L1245 870L1246 738L1246 753L1246 785L1246 851L1246 857L1246 859L1247 729L1247 733L1247 738L1247 769L1247 831L1247 835L1247 835L1247 862L1247 870L1248 752L1248 786L1248 792L1248 797L1248 809L1248 816L1248 845L1248 848L1248 870L1249 766L1249 773L1249 776L1249 778L1249 791L1249 795L1249 802L1249 826L1249 850L1250 774L1250 785L1250 820L1250 822L1250 828L1250 829L1250 841L1250 841L1250 863L1251 711L1251 752L1251 767L1251 795L1251 798L1251 814L1251 822L1251 833L1251 856L1251 863L1251 870L1252 735L1252 787L1252 806L1252 813L1252 840L1252 848L1252 855L1252 863L1252 870L1252 870L1253 722L1253 749L1253 774L1253 778L1253 784L1253 830L1253 854L1254 736L1254 747L1254 804L1254 818L1254 860L1255 702L1255 711L1255 720L1255 775L1255 787L1255 800L1255 814L1255 823L1255 826L1255 832L1255 836L1255 849L1255 851L1255 861L1255 870L1256 759L1256 771L1256 790L1256 803L1256 807L1256 815L1256 824L1256 845L1256 857L1257 779L1257 811L1257 836L1257 840L1257 845L1257 845L1257 859L1257 860L1257 870L1258 703L1258 764L1258 778L1258 789L1258 791L1258 798L1258 807L1258 820L1258 836L1258 861L1258 865L1258 869L1259 717L1259 760L1259 763L1259 800L1259 829L1259 832L1259 870L1260 697L1260 719L1260 734L1260 773L1260 781L1260 792L1260 823L1260 851L1260 861L1260 864L1261 760L1261 779L1261 787L1261 798L1261 813L1261 826L1261 850L1261 853L1261 862L1261 869L1262 737L1262 766L1262 812L1262 820L1262 833L1262 839L1262 844L1262 855L1263 769L1263 785L1263 796L1263 805L1263 807L1263 817L1263 822L1263 830L1264 765L1264 782L1264 792L1264 802L1264 814L1264 841L1264 843L1264 855L1264 870L1265 757L1265 781L1265 788L1265 800L1265 806L1265 822L1265 848L1265 865L1265 870L1266 719L1266 795L1266 831L1266 838L1266 847L1266 856L1266 857L1266 870L1266 870L1267 697L1267 771L1267 779L1267 789L1267 800L1267 821L1267 827L1267 828L1267 870L1268 701L1268 767L1268 772L1268 810L1268 826L1268 836L1268 836L1268 846L1268 862L1268 865L1269 797L1269 805L1269 808L1269 817L1269 848L1270 734L1270 755L1270 777L1270 777L1270 799L1270 807L1270 812L1270 841L1270 845L1270 856L1270 867L1270 869L1271 748L1271 784L1271 788L1271 796L1271 806L1271 817L1271 818L1271 829L1271 829L1271 852L1271 858L1271 863L1271 869L1271 869L1272 783L1272 784L1272 791L1272 798L1272 828L1272 838L1272 851L1273 755L1273 757L1273 769L1273 771L1273 795L1273 826L1273 841L1273 846L1273 857L1274 770L1274 821L1274 835L1274 852L1274 864L1275 733L1275 767L1275 782L1275 790L1275 809L1275 811L1275 823L1275 825L1275 869L1275 870L1276 716L1276 762L1276 800L1276 802L1276 806L1276 817L1276 834L1276 870L1277 704L1277 723L1277 754L1277 771L1277 781L1277 785L1277 786L1277 787L1277 790L1277 801L1277 805L1277 812L1277 812L1277 814L1277 816L1277 820L1277 829L1277 829L1277 830L1277 831L1277 833L1277 839L1277 843L1277 846L1277 851L1277 852L1277 854L1277 855L1277 858L1277 859L1277 862L1277 868L1277 869L1278 737L1278 741L1278 754L1278 791L1278 792L1278 795L1278 812L1278 820L1278 836L1278 840L1278 847L1278 850L1278 855L1278 859L1278 864L1278 866L1278 867L1278 867L1278 867" class="mg"/>
<circle cx="1209.8" cy="582.7" r="3.85" class="og"/>
<circle cx="1214.1" cy="661.0" r="3.85" class="og"/>
<circle cx="1216.6" cy="543.2" r="3.85" class="og"/>
<circle cx="1216.6" cy="660.7" r="3.85" class="og"/>
<circle cx="1229.9" cy="262.0" r="3.85" class="og"/>
<circle cx="1236.0" cy="485.2" r="3.85" class="og"/>
<circle cx="1236.0" cy="539.8" r="3.85" class="og"/>
<circle cx="1236.0" cy="652.1" r="3.85" class="og"/>
<circle cx="1242.2" cy="307.0" r="3.85" class="og"/>
<circle cx="1244.7" cy="662.9" r="3.85" class="og"/>
<circle cx="1246.2" cy="667.8" r="3.85" class="og"/>
<circle cx="1247.1" cy="647.1" r="3.85" class="og"/>
<circle cx="1251.2" cy="603.6" r="3.85" class="og"/>
<circle cx="1251.2" cy="671.5" r="3.85" class="og"/>
<circle cx="1251.8" cy="583.9" r="3.85" class="og"/>
<circle cx="1258.6" cy="519.4" r="3.85" class="og"/>
<circle cx="1258.6" cy="646.5" r="3.85" class="og"/>
<circle cx="1263.5" cy="596.6" r="3.85" class="og"/>
<circle cx="1263.8" cy="500.3" r="3.85" class="og"/>
<circle cx="1276.8" cy="621.5" r="3.85" class="og"/>
<circle cx="1276.8" cy="645.9" r="3.85" class="og"/>
<circle cx="1278.0" cy="670.3" r="3.85" class="og"/>
<circle cx="1281.4" cy="621.2" r="3.85" class="og"/>
<path d="M1287 847L1287 856L1287 857L1288 800L1288 803L1288 818L1288 820L1288 830L1288 833L1288 834L1288 842L1288 848L1288 851L1288 852L1288 853L1288 859L1288 861L1288 870L1289 755L1289 770L1289 786L1289 835L1289 838L1289 839L1289 841L1289 844L1289 846L1289 861L1289 863L1289 864L1289 867L1289 869L1289 870L1290 742L1290 776L1290 779L1290 781L1290 790L1290 827L1290 835L1291 703L1291 730L1291 783L1291 819L1291 824L1291 825L1291 869L1291 870L1292 747L1292 769L1292 804L1292 808L1292 809L1292 810L1292 819L1292 824L1292 845L1292 851L1292 865L1293 776L1293 785L1293 789L1293 791L1293 801L1293 829L1293 835L1293 844L1293 854L1293 861L1294 774L1294 810L1294 821L1294 832L1294 859L1295 715L1295 788L1295 796L1295 814L1295 816L1295 817L1295 849L1295 854L1295 869L1296 767L1296 779L1296 791L1296 803L1296 810L1296 828L1296 865L1296 870L1297 758L1297 760L1297 797L1297 816L1297 839L1297 841L1297 848L1297 854L1297 860L1297 869L1298 732L1298 741L1298 780L1298 781L1298 790L1298 831L1298 838L1298 870L1299 744L1299 763L1299 766L1299 772L1299 786L1299 787L1299 797L1299 805L1299 823L1299 824L1299 825L1299 847L1299 851L1299 851L1299 860L1299 867L1300 726L1300 791L1300 803L1300 832L1300 857L1300 870L1301 705L1301 737L1301 797L1301 803L1301 810L1301 812L1301 814L1301 838L1301 855L1301 869L1302 774L1302 777L1302 794L1302 795L1302 815L1302 821L1302 833L1302 844L1302 861L1303 706L1303 750L1303 767L1303 773L1303 813L1303 822L1303 826L1303 864L1304 766L1304 784L1304 787L1304 788L1304 811L1304 827L1304 831L1304 842L1304 847L1304 856L1304 869L1305 773L1305 822L1305 839L1305 842L1305 859L1305 860L1305 869L1306 744L1306 761L1306 763L1306 804L1306 808L1306 850L1306 852L1307 731L1307 800L1307 806L1307 811L1307 831L1307 838L1307 850L1307 865L1308 747L1308 760L1308 780L1308 786L1308 800L1308 816L1308 819L1308 834L1308 846L1308 847L1308 856L1308 863L1308 869L1309 713L1309 785L1309 799L1309 869L1310 719L1310 748L1310 791L1310 798L1310 798L1310 802L1310 809L1310 816L1310 822L1310 825L1310 853L1310 870L1311 769L1311 778L1311 782L1311 786L1311 792L1311 794L1311 826L1311 830L1311 841L1311 846L1311 851L1311 869L1312 698L1312 821L1312 838L1312 861L1312 863L1312 866L1313 740L1313 790L1313 802L1313 811L1313 812L1313 825L1313 833L1313 843L1313 850L1313 857L1314 806L1314 830L1314 858L1314 870L1315 760L1315 762L1315 767L1315 771L1315 810L1315 837L1315 853L1315 869L1316 703L1316 768L1316 770L1316 778L1316 780L1316 782L1316 789L1316 797L1316 819L1316 830L1316 841L1316 844L1316 853L1316 870L1317 698L1317 767L1317 773L1317 774L1317 787L1317 796L1317 797L1317 798L1317 805L1317 815L1317 846L1317 848L1317 858L1318 765L1318 767L1318 815L1318 818L1318 823L1318 835L1318 841L1318 862L1319 786L1319 825L1319 834L1319 850L1319 862L1319 869L1319 870L1320 710L1320 785L1320 791L1320 800L1320 806L1320 809L1320 821L1320 828L1320 863L1321 694L1321 695L1321 713L1321 748L1321 804L1321 828L1321 829L1321 842L1321 857L1321 857L1321 862L1322 704L1322 747L1322 791L1322 816L1322 834L1322 850L1322 869L1322 869L1323 695L1323 751L1323 775L1323 787L1323 789L1323 791L1323 795L1323 801L1323 835L1323 855L1324 838L1324 844L1324 845L1324 849L1324 850L1324 863L1324 869L1325 778L1325 795L1325 805L1325 812L1325 816L1325 817L1326 761L1326 767L1326 822L1326 822L1326 826L1326 840L1326 868L1327 716L1327 743L1327 797L1327 799L1327 812L1327 828L1327 835L1327 835L1327 844L1327 855L1328 681L1328 712L1328 729L1328 733L1328 790L1328 825L1328 834L1328 856L1328 860L1328 863L1328 869L1328 869L1329 766L1329 778L1329 815L1329 840L1329 848L1329 852L1330 710L1330 779L1330 780L1330 790L1330 804L1330 825L1330 830L1331 715L1331 734L1331 789L1331 806L1331 818L1331 843L1331 851L1331 870L1332 778L1332 809L1332 830L1332 837L1332 840L1332 846L1332 860L1332 862L1332 863L1332 869L1333 782L1333 789L1333 792L1333 797L1333 803L1333 808L1333 815L1333 819L1333 820L1333 825L1333 861L1334 778L1334 792L1334 813L1334 825L1334 830L1334 863L1334 870L1335 763L1335 781L1335 789L1335 799L1335 801L1335 817L1335 835L1335 853L1335 870L1336 765L1336 806L1336 814L1336 838L1336 843L1336 870L1337 754L1337 774L1337 788L1337 801L1337 813L1337 818L1337 832L1337 847L1337 849L1337 855L1337 856L1337 862L1338 722L1338 800L1338 809L1338 826L1338 828L1338 840L1338 847L1338 864L1339 791L1339 821L1339 870L1340 724L1340 790L1340 807L1340 810L1340 829L1340 848L1340 857L1340 870L1341 717L1341 754L1341 769L1341 774L1341 790L1341 799L1341 822L1341 833L1341 839L1341 843L1341 863L1342 713L1342 758L1342 761L1342 762L1343 755L1343 774L1343 782L1343 790L1343 795L1343 804L1343 810L1343 823L1343 835L1343 836L1343 857L1343 863L1343 870L1344 803L1344 805L1344 815L1344 816L1344 817L1344 821L1344 843L1344 850L1345 796L1345 829L1345 849L1345 852L1345 859L1345 869L1346 779L1346 796L1346 839L1346 845L1346 864L1347 790L1347 826L1347 829L1347 840L1347 857L1347 861L1347 870L1348 756L1348 765L1348 781L1348 791L1348 796L1348 805L1348 812L1348 820L1348 832L1348 839L1348 846L1348 863L1348 870L1349 757L1349 760L1349 776L1349 835L1350 764L1350 774L1350 781L1350 808L1350 812L1350 815L1350 824L1350 836L1350 870L1351 745L1351 752L1351 784L1351 787L1351 793L1351 817L1351 828L1351 847L1351 855L1351 862L1351 869L1352 775L1352 779L1352 783L1352 800L1352 808L1352 826L1352 839L1352 850L1352 852L1352 856L1353 705L1353 729L1353 758L1353 769L1353 796L1353 806L1353 826L1353 828L1353 838L1353 840L1353 856L1354 783L1354 788L1354 803L1354 824L1354 847L1354 869L1354 870L1355 688L1355 694L1355 698L1355 733L1355 740L1355 741L1355 742L1355 750L1355 792L1355 816L1355 816L1355 837L1355 864L1355 869L1356 780L1356 812L1356 833L1356 835L1356 843L1356 862L1357 747L1357 763L1357 769L1357 788L1357 795L1357 812L1357 828L1357 840L1357 845L1357 853L1357 854L1357 863L1357 869L1358 727L1358 783L1358 800L1358 819L1358 835L1358 853L1359 741L1359 785L1359 812L1359 816L1359 820L1359 822L1359 829L1360 692L1360 697L1360 729L1360 768L1360 780L1360 781L1360 802L1360 838L1360 847L1360 861L1360 870L1360 870L1360 870L1361 791L1361 793L1361 820L1361 823L1361 830L1361 844L1361 860L1362 752L1362 756L1362 763L1362 772L1362 774L1362 781L1362 804L1362 816L1362 825L1362 831L1362 840L1362 848L1362 851L1362 853L1362 865L1362 867L1362 868L1362 869L1363 756L1363 772L1363 811L1363 814L1363 824L1363 828L1363 840L1363 843L1363 848L1363 850L1363 856L1363 856L1363 856L1363 858L1363 858L1363 859L1363 865L1363 865" class="mb"/>
<circle cx="1290.0" cy="607.0" r="3.85" class="ob"/>
<circle cx="1292.2" cy="607.0" r="3.85" class="ob"/>
<circle cx="1295.8" cy="85.2" r="3.85" class="ob"/>
<circle cx="1296.5" cy="430.9" r="3.85" class="ob"/>
<circle cx="1301.4" cy="646.5" r="3.85" class="ob"/>
<circle cx="1302.1" cy="626.8" r="3.85" class="ob"/>
<circle cx="1310.4" cy="654.9" r="3.85" class="ob"/>
<circle cx="1313.2" cy="623.7" r="3.85" class="ob"/>
<circle cx="1314.1" cy="546.0" r="3.85" class="ob"/>
<circle cx="1315.3" cy="558.3" r="3.85" class="ob"/>
<circle cx="1315.6" cy="620.9" r="3.85" class="ob"/>
<circle cx="1318.7" cy="588.2" r="3.85" class="ob"/>
<circle cx="1319.3" cy="637.6" r="3.85" class="ob"/>
<circle cx="1319.3" cy="646.5" r="3.85" class="ob"/>
<circle cx="1320.9" cy="632.3" r="3.85" class="ob"/>
<circle cx="1321.5" cy="561.4" r="3.85" class="ob"/>
<circle cx="1324.9" cy="571.3" r="3.85" class="ob"/>
<circle cx="1326.7" cy="300.2" r="3.85" class="ob"/>
<circle cx="1331.7" cy="635.1" r="3.85" class="ob"/>
<circle cx="1338.5" cy="627.7" r="3.85" class="ob"/>
<circle cx="1342.5" cy="628.0" r="3.85" class="ob"/>
<circle cx="1346.5" cy="663.5" r="3.85" class="ob"/>
<circle cx="1351.4" cy="577.1" r="3.85" class="ob"/>
<circle cx="1354.5" cy="604.9" r="3.85" class="ob"/>
<circle cx="1355.7" cy="627.7" r="3.85" class="ob"/>
<circle cx="1355.7" cy="679.2" r="3.85" class="ob"/>
<circle cx="1357.9" cy="668.1" r="3.85" class="ob"/>
<circle cx="1363.4" cy="619.4" r="3.85" class="ob"/>
<path d="M1376 852L1377 852L1378 684L1378 743L1378 786L1378 787L1378 809L1378 813L1378 828L1378 835L1378 859L1378 865L1379 841L1379 861L1380 811L1380 838L1380 854L1381 792L1381 827L1381 841L1381 864L1381 865L1381 868L1382 832L1382 842L1382 851L1382 857L1382 861L1383 811L1384 773L1384 796L1384 804L1384 818L1384 828L1384 833L1384 853L1384 861L1384 870L1384 870L1385 845L1385 865L1386 833L1386 846L1386 850L1386 864L1387 853L1387 857L1387 864L1388 809L1388 812L1388 840L1388 846L1389 790L1389 795L1389 840L1389 848L1389 859L1389 862L1390 817L1391 735L1391 765L1391 803L1391 809L1391 815L1391 831L1391 834L1391 855L1392 835L1392 856L1392 868L1393 845L1393 869L1394 777L1394 837L1394 847L1394 860L1394 869L1395 815L1395 845L1395 855L1395 864L1396 836L1396 860L1397 768L1397 831L1397 847L1398 774L1398 832L1398 846L1398 849L1398 853L1398 864L1398 867L1399 815L1399 838L1399 858L1399 868L1400 800L1400 824L1400 833L1400 845L1400 854L1401 846L1401 848L1401 870L1402 795L1402 795L1402 826L1402 840L1402 859L1402 869L1403 762L1403 820L1403 839L1403 856L1404 852L1405 719L1405 782L1405 816L1405 823L1405 836L1405 857L1405 864L1406 757L1406 767L1406 796L1406 825L1406 840L1406 869L1406 870L1407 851L1407 866L1407 866L1408 736L1408 756L1408 805L1408 838L1408 850L1408 858L1408 866L1409 851L1410 777L1410 821L1410 829L1410 862L1411 738L1411 754L1411 790L1411 813L1411 816L1411 831L1411 848L1411 857L1411 865L1412 848L1412 862L1413 813L1413 822L1413 851L1413 851L1414 747L1414 822L1414 836L1414 836L1414 845L1414 846L1414 856L1414 863L1414 866L1415 794L1415 809L1415 844L1415 857L1415 867L1416 769L1416 793L1416 809L1416 828L1416 832L1416 847L1416 854L1417 814L1417 843L1417 867L1418 835L1418 836L1418 847L1419 710L1419 833L1419 834L1419 864L1420 685L1420 808L1420 857L1421 730L1421 777L1421 824L1421 850L1422 755L1422 783L1422 793L1422 797L1422 804L1422 845L1422 868L1423 796L1423 802L1423 870L1424 773L1424 788L1424 824L1424 838L1424 842L1424 850L1424 851L1425 842L1425 858L1426 736L1426 822L1426 833L1426 841L1426 870L1427 705L1427 859L1428 843L1429 789L1429 844L1429 845L1429 858L1429 861L1429 869L1430 868" class="mg"/>
<circle cx="1376.1" cy="625.9" r="3.85" class="og"/>
<circle cx="1378.6" cy="599.9" r="3.85" class="og"/>
<circle cx="1380.7" cy="620.0" r="3.85" class="og"/>
<circle cx="1387.8" cy="679.2" r="3.85" class="og"/>
<circle cx="1407.9" cy="671.2" r="3.85" class="og"/>
<circle cx="1409.1" cy="648.1" r="3.85" class="og"/>
<circle cx="1419.6" cy="676.1" r="3.85" class="og"/>
<path d="M1439 725L1439 790L1439 792L1439 814L1439 816L1439 833L1439 838L1439 841L1439 863L1439 865L1440 725L1440 783L1440 824L1440 841L1440 850L1440 852L1440 852L1440 859L1440 863L1440 869L1440 870L1441 706L1441 782L1441 805L1441 811L1441 815L1441 825L1441 834L1441 838L1441 845L1441 851L1441 861L1441 861L1442 776L1442 798L1442 799L1442 800L1442 802L1442 811L1442 844L1442 854L1442 854L1442 869L1443 755L1443 780L1443 818L1443 824L1443 825L1443 847L1444 763L1444 787L1444 806L1444 833L1444 838L1444 854L1444 862L1444 870L1445 722L1445 780L1445 794L1445 810L1445 816L1445 818L1445 827L1445 828L1445 828L1445 835L1445 859L1445 866L1445 868L1446 786L1446 805L1446 817L1446 830L1446 843L1446 869L1447 727L1447 780L1447 785L1447 787L1447 805L1447 849L1447 850L1447 857L1447 860L1448 723L1448 799L1448 809L1448 819L1448 832L1448 840L1448 854L1448 870L1449 685L1449 734L1449 799L1449 809L1449 824L1449 865L1450 737L1450 753L1450 800L1450 819L1450 826L1450 843L1450 851L1450 860L1450 870L1451 700L1451 803L1451 815L1451 835L1451 840L1451 847L1451 847L1451 870L1452 718L1452 758L1452 771L1452 783L1452 784L1452 792L1452 796L1452 799L1452 812L1452 827L1452 829L1453 685L1453 711L1453 718L1453 732L1453 814L1453 819L1453 835L1453 857L1453 865L1453 868L1453 870L1454 825L1454 831L1454 850L1454 863L1454 870L1455 719L1455 786L1455 803L1455 805L1455 811L1455 817L1455 841L1455 856L1455 857L1456 763L1456 792L1456 806L1456 836L1456 847L1456 852L1456 858L1456 864L1456 870L1457 708L1457 758L1457 760L1457 806L1457 821L1457 829L1457 839L1457 869L1458 793L1458 804L1458 817L1458 828L1458 831L1458 842L1458 848L1458 864L1459 753L1459 835L1459 835L1459 853L1459 856L1460 755L1460 790L1460 795L1460 802L1460 811L1460 847L1460 870L1461 732L1461 740L1461 759L1461 786L1461 791L1461 809L1461 810L1461 820L1461 843L1461 864L1462 778L1462 781L1462 784L1462 798L1462 820L1462 821L1462 856L1462 869L1463 696L1463 747L1463 748L1463 765L1463 802L1463 805L1463 815L1463 817L1463 828L1463 829L1463 837L1463 861L1463 870L1464 753L1464 759L1464 783L1464 849L1464 850L1464 855L1464 863L1465 742L1465 747L1465 775L1465 808L1465 815L1465 827L1465 842L1466 809L1466 812L1466 835L1466 838L1466 839L1466 852L1466 864L1467 796L1467 801L1467 803L1467 824L1467 830L1467 834L1467 843L1467 858L1467 869L1468 779L1468 789L1468 824L1468 828L1468 847L1469 788L1469 800L1469 817L1469 848L1469 850L1469 859L1469 865L1469 868L1470 796L1470 814L1470 816L1470 850L1470 853L1470 860L1471 713L1471 758L1471 771L1471 776L1471 780L1471 782L1471 808L1471 811L1471 819L1471 822L1471 864L1471 870L1472 767L1472 802L1472 837L1472 841L1472 870L1472 870L1473 722L1473 736L1473 772L1473 778L1473 786L1473 795L1473 802L1473 842L1473 870L1474 712L1474 738L1474 782L1474 787L1474 806L1474 822L1474 849L1474 850L1474 857L1474 870L1474 870L1475 729L1475 753L1475 778L1475 781L1475 788L1475 795L1475 808L1475 817L1475 821L1475 843L1475 854L1475 858L1476 705L1476 753L1476 792L1476 793L1476 806L1476 812L1476 836L1476 837L1476 850L1476 863L1476 864L1476 870L1477 752L1477 802L1477 810L1477 828L1477 831L1477 831L1477 856L1478 757L1478 759L1478 784L1478 796L1478 815L1478 823L1478 828L1478 835L1478 852L1478 854L1478 859L1478 866L1479 747L1479 762L1479 775L1479 791L1479 803L1479 870L1479 870L1480 770L1480 808L1480 821L1480 840L1480 841L1480 844L1480 848L1480 870L1481 765L1481 772L1481 785L1481 803L1481 804L1481 805L1481 817L1481 834L1481 870L1482 726L1482 794L1482 814L1482 820L1482 828L1482 835L1482 847L1482 856L1482 857L1482 870L1483 711L1483 772L1483 810L1483 822L1483 828L1483 841L1483 862L1483 863L1483 870L1484 794L1484 812L1484 832L1484 865L1484 870L1485 743L1485 748L1485 760L1485 787L1485 798L1485 814L1485 850L1485 850L1486 765L1486 779L1486 786L1486 814L1486 836L1486 857L1486 869L1487 762L1487 816L1487 831L1487 852L1488 798L1488 799L1488 800L1488 823L1488 825L1488 826L1488 840L1488 843L1488 855L1488 859L1488 869L1488 869L1489 775L1489 776L1489 778L1489 783L1489 785L1489 789L1489 807L1489 808L1489 809L1489 810L1489 820L1489 830L1489 834L1489 837L1489 838L1489 841L1489 846L1489 860L1489 864L1489 865L1489 869L1490 719L1490 763L1490 801L1490 817L1490 824L1490 834L1490 846L1490 847L1490 851L1490 852L1490 854L1490 858L1490 864L1490 868L1490 868" class="mb"/>
<circle cx="1443.3" cy="674.6" r="3.85" class="ob"/>
<circle cx="1446.7" cy="645.9" r="3.85" class="ob"/>
<circle cx="1458.8" cy="621.8" r="3.85" class="ob"/>
<circle cx="1458.8" cy="669.0" r="3.85" class="ob"/>
<circle cx="1462.2" cy="674.6" r="3.85" class="ob"/>
<circle cx="1464.6" cy="652.7" r="3.85" class="ob"/>
<circle cx="1473.0" cy="343.7" r="3.85" class="ob"/>
<circle cx="1474.5" cy="570.3" r="3.85" class="ob"/>
<circle cx="1474.5" cy="589.1" r="3.85" class="ob"/>
<circle cx="1485.0" cy="655.5" r="3.85" class="ob"/>
<circle cx="1485.9" cy="666.9" r="3.85" class="ob"/>
<circle cx="1489.9" cy="496.6" r="3.85" class="ob"/>
<path d="M1506 819L1506 819L1506 851L1506 851L1507 708L1507 775L1507 792L1507 794L1507 817L1507 820L1507 824L1507 840L1507 844L1507 852L1507 866L1507 868L1507 870L1508 771L1508 776L1508 786L1508 801L1508 825L1508 845L1508 862L1508 867L1509 793L1509 799L1509 803L1509 826L1509 841L1509 844L1509 855L1509 861L1509 869L1510 713L1510 758L1510 762L1510 778L1510 792L1510 797L1510 815L1510 834L1510 837L1510 848L1510 857L1510 858L1510 859L1510 866L1510 870L1511 710L1511 741L1511 755L1511 798L1511 800L1511 804L1511 807L1511 827L1511 834L1511 856L1512 732L1512 774L1512 786L1512 789L1512 799L1512 818L1512 837L1513 732L1513 745L1513 763L1513 769L1513 824L1513 835L1513 844L1514 789L1514 796L1514 801L1514 821L1514 824L1514 828L1514 828L1514 849L1514 852L1514 858L1514 867L1515 762L1515 784L1515 788L1515 795L1515 811L1515 834L1515 845L1515 846L1515 859L1515 869L1516 771L1516 785L1516 799L1516 850L1516 866L1517 777L1517 826L1517 836L1517 838L1517 857L1517 858L1517 865L1517 869L1517 870L1518 734L1518 812L1518 816L1518 822L1519 789L1519 798L1519 812L1519 819L1519 839L1519 850L1519 854L1519 870L1520 723L1520 742L1520 762L1520 815L1520 829L1520 838L1520 847L1521 730L1521 779L1521 787L1521 805L1521 807L1521 831L1521 833L1521 862L1521 870L1521 870L1522 795L1522 818L1522 820L1522 842L1522 845L1522 864L1523 725L1523 745L1523 750L1523 751L1523 790L1523 822L1523 824L1523 826L1523 834L1523 843L1523 860L1523 870L1523 870L1524 807L1524 848L1524 853L1524 857L1525 787L1525 798L1525 811L1525 840L1525 849L1525 870L1526 731L1526 732L1526 749L1526 797L1526 797L1526 818L1526 830L1526 834L1526 834L1526 852L1526 865L1527 706L1527 768L1527 778L1527 782L1527 822L1527 825L1527 831L1527 859L1528 813L1528 814L1528 819L1528 821L1529 716L1529 759L1529 781L1529 804L1529 838L1529 842L1529 845L1529 856L1529 864L1529 869L1529 869L1530 782L1530 785L1530 793L1530 798L1530 804L1530 816L1530 819L1530 822L1530 863L1531 783L1531 793L1531 850L1531 852L1531 857L1531 869L1531 870L1532 790L1532 828L1532 831L1532 844L1532 857L1533 719L1533 837L1534 749L1534 814L1534 831L1534 838L1534 840L1534 849L1534 862L1534 870L1535 730L1535 772L1535 785L1535 789L1535 795L1535 826L1535 828L1535 832L1535 864L1536 774L1536 776L1536 778L1536 810L1536 851L1536 862L1537 737L1537 767L1537 789L1537 814L1537 821L1537 824L1537 827L1537 830L1537 845L1537 856L1537 869L1538 798L1538 814L1538 820L1538 821L1538 839L1538 847L1538 847L1538 869L1539 801L1539 812L1539 817L1539 832L1539 841L1539 851L1539 855L1539 862L1539 866L1539 868L1539 869L1539 870L1540 753L1540 819L1540 834L1540 835L1540 835L1540 848L1540 850L1540 858L1540 862L1540 866L1541 825L1541 841L1541 857L1541 861" class="mg"/>
<circle cx="1515.5" cy="544.7" r="3.85" class="og"/>
<circle cx="1515.8" cy="645.0" r="3.85" class="og"/>
<circle cx="1519.5" cy="647.8" r="3.85" class="og"/>
<circle cx="1520.5" cy="665.0" r="3.85" class="og"/>
<circle cx="1522.3" cy="399.7" r="3.85" class="og"/>
<circle cx="1522.9" cy="674.6" r="3.85" class="og"/>
<circle cx="1528.5" cy="595.6" r="3.85" class="og"/>
<circle cx="1529.4" cy="672.1" r="3.85" class="og"/>
<circle cx="1535.3" cy="593.8" r="3.85" class="og"/>
<circle cx="1537.7" cy="648.4" r="3.85" class="og"/>
<circle cx="1543.6" cy="608.0" r="3.85" class="og"/>
<circle cx="1544.8" cy="589.5" r="3.85" class="og"/>
<circle cx="1548.2" cy="633.3" r="3.85" class="og"/>
<path d="M1550 731L1550 800L1550 806L1550 808L1550 811L1550 815L1550 815L1550 817L1550 818L1550 825L1550 833L1550 834L1550 837L1550 837L1550 839L1550 850L1550 860L1550 860L1550 861L1550 865L1550 866L1550 867L1550 868L1550 869L1551 780L1551 781L1551 791L1551 791L1551 792L1551 792L1551 796L1551 796L1551 800L1551 805L1551 806L1551 809L1551 819L1551 823L1551 823L1551 827L1551 827L1551 828L1551 828L1551 830L1551 831L1551 832L1551 837L1551 840L1551 842L1551 845L1551 845L1551 846L1551 848L1551 849L1551 852L1551 852L1551 855L1551 856L1551 857L1551 869L1552 683L1552 697L1552 705L1552 725L1552 735L1552 736L1552 743L1552 748L1552 749L1552 751L1552 779L1552 780L1552 785L1552 798L1552 825L1552 870L1553 681L1553 717L1553 737L1553 741L1553 746L1553 761L1553 765L1553 772L1553 784L1553 787L1553 797L1553 809L1553 832L1553 870L1553 870L1554 699L1554 703L1554 705L1554 746L1554 755L1554 758L1554 761L1554 766L1554 773L1554 784L1554 794L1554 801L1554 837L1554 865L1555 734L1555 736L1555 741L1555 756L1555 764L1555 768L1555 771L1555 805L1555 870L1556 715L1556 735L1556 745L1556 756L1556 820L1556 831L1556 854L1556 859L1556 870L1556 870L1557 759L1557 772L1557 779L1557 803L1557 813L1557 820L1557 833L1557 842L1557 849L1557 851L1557 860L1557 866L1558 737L1558 742L1558 748L1558 779L1558 796L1558 812L1558 815L1558 822L1558 829L1558 837L1558 865L1558 870L1559 695L1559 725L1559 727L1559 737L1559 760L1559 788L1559 789L1559 791L1559 798L1559 808L1559 818L1559 825L1559 842L1559 843L1559 850L1559 860L1559 870L1559 870L1560 726L1560 755L1560 776L1560 781L1560 788L1560 799L1560 820L1560 835L1560 848L1560 855L1560 870L1561 719L1561 726L1561 744L1561 750L1561 766L1561 771L1561 776L1561 781L1561 794L1561 804L1561 835L1561 855L1562 698L1562 700L1562 720L1562 722L1562 750L1562 753L1562 765L1562 766L1562 772L1562 779L1562 782L1562 793L1562 809L1562 826L1562 852L1562 859L1562 866L1563 708L1563 756L1563 760L1563 797L1563 810L1563 822L1563 835L1563 846L1564 734L1564 740L1564 746L1564 804L1564 821L1564 831L1564 837L1564 859L1564 870L1564 870L1564 870L1565 716L1565 724L1565 801L1565 820L1565 834L1565 851L1565 853L1565 864L1565 870L1566 701L1566 709L1566 722L1566 753L1566 764L1566 772L1566 798L1566 813L1566 813L1566 815L1566 827L1566 837L1566 840L1566 862L1566 870L1566 870L1567 717L1567 735L1567 751L1567 759L1567 766L1567 767L1567 770L1567 773L1567 780L1567 783L1567 785L1567 787L1567 796L1567 844L1567 846L1568 685L1568 712L1568 715L1568 756L1568 759L1568 767L1568 770L1568 772L1568 781L1568 781L1568 790L1568 791L1568 809L1568 820L1568 823L1568 836L1568 844L1568 853L1568 870L1568 870L1568 870L1569 690L1569 725L1569 728L1569 752L1569 775L1569 800L1569 804L1569 810L1569 811L1569 812L1569 826L1569 857L1569 862L1570 793L1570 816L1570 823L1570 831L1570 850L1571 705L1571 740L1571 740L1571 762L1571 779L1571 794L1571 802L1571 803L1571 816L1571 840L1571 854L1571 860L1571 862L1571 869L1571 869L1572 792L1572 799L1572 828L1572 847L1572 869L1573 813L1573 821L1573 832L1573 835L1573 838L1573 857L1574 741L1574 839L1574 868L1575 795L1575 803L1575 803L1575 829L1575 842L1575 849L1575 868L1576 756L1576 847L1576 852L1576 866L1577 713L1577 761L1577 815L1577 824L1577 840L1577 851L1577 867L1578 703L1578 758L1578 803L1578 828L1578 829L1578 836L1578 857L1578 861L1579 738L1579 798L1579 812L1579 814L1579 816L1579 821L1579 858L1579 859L1579 869L1580 715L1580 773L1580 782L1580 787L1580 820L1580 848L1580 870L1580 870L1580 870L1581 790L1581 790L1581 814L1581 834L1581 837L1581 844L1581 846L1581 865L1582 707L1582 815L1582 844L1582 856L1582 858L1582 867L1582 869L1583 710L1583 759L1583 771L1583 778L1583 787L1583 793L1583 827L1583 828L1583 837L1583 855L1583 862L1583 869L1584 732L1584 755L1584 777L1584 787L1584 809L1584 822L1584 833L1584 839L1584 850L1584 868L1585 752L1585 781L1585 784L1585 819L1585 829L1585 859L1586 809L1586 843L1587 765L1587 778L1587 783L1587 801L1587 819L1587 819L1587 824L1587 834L1587 835L1587 842L1587 850L1587 851L1588 802L1588 813L1588 813L1588 845L1588 858L1588 864L1588 870L1589 725L1589 737L1589 809L1589 824L1589 864L1589 870L1590 797L1590 809L1590 819L1590 828L1590 854L1590 856L1590 870L1591 789L1591 796L1591 806L1591 813L1591 828L1591 828L1591 845L1591 846L1591 864L1592 746L1592 771L1592 833L1592 834L1592 836L1592 838L1592 839L1592 857L1592 860L1592 863L1592 867L1592 869L1593 693L1593 753L1593 784L1593 788L1593 832L1593 836L1593 840L1593 845L1593 859L1593 861L1593 863L1593 868" class="mb"/>
<circle cx="1551.0" cy="604.3" r="3.85" class="ob"/>
<circle cx="1551.0" cy="657.9" r="3.85" class="ob"/>
<circle cx="1551.3" cy="643.1" r="3.85" class="ob"/>
<circle cx="1552.9" cy="624.6" r="3.85" class="ob"/>
<circle cx="1558.7" cy="637.0" r="3.85" class="ob"/>
<circle cx="1558.7" cy="653.3" r="3.85" class="ob"/>
<circle cx="1561.5" cy="611.4" r="3.85" class="ob"/>
<circle cx="1566.1" cy="657.0" r="3.85" class="ob"/>
<circle cx="1566.4" cy="210.1" r="3.85" class="ob"/>
<circle cx="1566.7" cy="674.6" r="3.85" class="ob"/>
<circle cx="1567.3" cy="661.3" r="3.85" class="ob"/>
<circle cx="1568.0" cy="372.1" r="3.85" class="ob"/>
<circle cx="1582.5" cy="664.7" r="3.85" class="ob"/>
<circle cx="1583.1" cy="615.7" r="3.85" class="ob"/>
<circle cx="1583.1" cy="658.6" r="3.85" class="ob"/>
<circle cx="1588.3" cy="413.0" r="3.85" class="ob"/>
<circle cx="1588.3" cy="636.7" r="3.85" class="ob"/>
<circle cx="1588.3" cy="679.2" r="3.85" class="ob"/>
<circle cx="1593.3" cy="499.4" r="3.85" class="ob"/>
<circle cx="1596.7" cy="564.2" r="3.85" class="ob"/>
<circle cx="1598.8" cy="633.6" r="3.85" class="ob"/>
<circle cx="1600.7" cy="653.6" r="3.85" class="ob"/>
<circle cx="1601.6" cy="678.6" r="3.85" class="ob"/>
<path d="M1602 820L1602 858L1602 868L1602 869L1602 869L1603 694L1603 780L1603 790L1603 794L1603 797L1603 804L1603 811L1603 811L1603 812L1603 812L1603 826L1603 836L1603 841L1603 847L1603 849L1603 851L1603 857L1603 857L1603 858L1603 863L1603 863L1603 866L1604 723L1604 761L1604 762L1604 781L1604 782L1604 788L1604 793L1604 803L1604 804L1604 816L1604 817L1604 819L1604 823L1604 823L1604 826L1604 831L1604 831L1604 832L1604 836L1604 838L1604 842L1604 844L1604 846L1604 852L1604 853L1604 861L1604 870L1604 870L1605 682L1605 693L1605 708L1605 712L1605 738L1605 779L1605 839L1605 843L1605 870L1606 774L1606 797L1606 803L1606 810L1606 814L1606 834L1606 843L1606 866L1606 870L1607 694L1607 699L1607 713L1607 748L1607 766L1607 780L1607 782L1607 788L1607 810L1607 818L1607 828L1607 848L1607 870L1608 752L1608 754L1608 766L1608 793L1608 854L1609 728L1609 734L1609 735L1609 748L1609 768L1609 775L1609 849L1609 857L1609 863L1609 870L1610 719L1610 759L1610 784L1610 788L1610 798L1610 800L1610 805L1610 820L1610 823L1610 831L1610 843L1610 858L1610 870L1611 736L1611 751L1611 771L1611 772L1611 786L1611 790L1611 796L1611 805L1611 809L1611 812L1611 827L1611 833L1611 837L1611 839L1611 849L1611 862L1612 694L1612 698L1612 729L1612 762L1612 782L1612 815L1612 823L1613 735L1613 767L1613 767L1613 775L1613 779L1613 821L1613 829L1613 870L1614 793L1614 794L1614 837L1614 843L1614 847L1614 857L1614 863L1614 869L1615 725L1615 753L1615 758L1615 763L1615 773L1615 777L1615 806L1615 809L1615 810L1615 814L1615 847L1615 853L1615 864L1615 869L1616 716L1616 735L1616 746L1616 752L1616 761L1616 797L1616 815L1616 827L1616 863L1617 701L1617 746L1617 807L1617 816L1617 836L1617 845L1617 853L1617 858L1618 680L1618 737L1618 741L1618 779L1618 783L1618 786L1618 793L1618 801L1618 801L1618 817L1618 825L1618 830L1618 840L1618 852L1618 869L1619 716L1619 721L1619 757L1619 767L1619 785L1619 787L1619 821L1619 823L1619 828L1619 836L1619 858L1619 870L1619 870L1620 683L1620 761L1620 766L1620 771L1620 772L1620 795L1620 805L1620 829L1620 852L1620 865L1621 777L1621 780L1621 803L1621 842L1621 848L1621 854L1621 861L1622 768L1622 774L1622 786L1622 790L1622 797L1622 812L1622 817L1622 835L1623 688L1623 733L1623 757L1623 760L1623 768L1623 769L1623 810L1623 813L1623 823L1623 831L1623 835L1623 840L1623 849L1623 854L1623 870L1623 870L1624 736L1624 739L1624 742L1624 760L1624 761L1624 779L1624 793L1624 808L1624 858L1624 866L1624 870L1625 728L1625 735L1625 756L1625 798L1625 803L1625 819L1625 846L1625 861L1625 870L1626 715L1626 734L1626 781L1626 791L1626 799L1626 802L1626 808L1626 814L1626 816L1626 823L1626 826L1626 843L1626 848L1626 855L1626 868L1627 783L1627 786L1627 829L1627 834L1627 863L1628 701L1628 712L1628 736L1628 756L1628 760L1628 777L1628 792L1628 798L1628 802L1628 808L1628 833L1628 838L1628 839L1628 842L1628 845L1628 853L1628 870L1629 730L1629 770L1629 772L1629 790L1629 812L1629 827L1629 842L1629 857L1630 690L1630 721L1630 735L1630 771L1630 785L1630 861L1631 771L1631 785L1631 810L1631 820L1631 850L1631 869L1631 870L1632 748L1632 758L1632 776L1632 797L1632 805L1632 821L1632 824L1632 838L1632 851L1632 860L1632 863L1633 705L1633 752L1633 761L1633 780L1633 782L1633 793L1633 801L1633 815L1633 815L1633 815L1633 828L1633 833L1633 855L1633 870L1634 712L1634 770L1634 793L1634 798L1634 809L1634 819L1634 833L1634 843L1634 850L1635 774L1635 780L1635 791L1635 801L1635 806L1635 809L1635 824L1636 706L1636 719L1636 767L1636 785L1636 796L1636 797L1636 833L1636 837L1636 841L1636 844L1636 844L1636 853L1636 858L1636 865L1636 867L1636 870L1637 688L1637 719L1637 765L1637 773L1637 773L1637 784L1637 796L1637 827L1638 718L1638 781L1638 784L1638 786L1638 810L1638 811L1638 820L1638 824L1638 868L1638 869L1638 869L1638 870L1639 774L1639 776L1639 802L1639 812L1639 815L1639 832L1639 839L1639 840L1639 845L1639 846L1639 850L1639 854L1639 854L1639 858L1640 698L1640 716L1640 737L1640 799L1640 813L1640 817L1640 818L1640 824L1640 829L1640 833L1640 834L1640 836L1640 837L1640 837L1640 844L1640 849L1640 850L1640 854L1640 859L1640 860L1640 862L1640 863L1640 864L1640 865" class="mg"/>
<circle cx="1603.1" cy="649.3" r="3.85" class="og"/>
<circle cx="1604.4" cy="526.2" r="3.85" class="og"/>
<circle cx="1605.9" cy="616.9" r="3.85" class="og"/>
<circle cx="1605.9" cy="662.6" r="3.85" class="og"/>
<circle cx="1606.8" cy="674.0" r="3.85" class="og"/>
<circle cx="1609.0" cy="649.9" r="3.85" class="og"/>
<circle cx="1617.6" cy="593.5" r="3.85" class="og"/>
<circle cx="1617.6" cy="617.2" r="3.85" class="og"/>
<circle cx="1623.5" cy="513.6" r="3.85" class="og"/>
<circle cx="1623.8" cy="674.0" r="3.85" class="og"/>
<circle cx="1624.1" cy="631.4" r="3.85" class="og"/>
<circle cx="1625.3" cy="545.3" r="3.85" class="og"/>
<circle cx="1625.3" cy="618.5" r="3.85" class="og"/>
<circle cx="1626.6" cy="487.0" r="3.85" class="og"/>
<circle cx="1626.6" cy="222.8" r="3.85" class="og"/>
<circle cx="1627.1" cy="50.3" r="3.85" class="og"/>
<circle cx="1629.7" cy="501.2" r="3.85" class="og"/>
<circle cx="1630.0" cy="632.3" r="3.85" class="og"/>
<circle cx="1630.0" cy="663.5" r="3.85" class="og"/>
<circle cx="1631.8" cy="573.4" r="3.85" class="og"/>
<circle cx="1634.6" cy="487.0" r="3.85" class="og"/>
<circle cx="1637.7" cy="542.9" r="3.85" class="og"/>
<circle cx="1637.7" cy="664.4" r="3.85" class="og"/>
<circle cx="1638.0" cy="573.7" r="3.85" class="og"/>
<circle cx="1638.6" cy="639.4" r="3.85" class="og"/>
<circle cx="1640.2" cy="617.8" r="3.85" class="og"/>
<circle cx="1641.1" cy="610.4" r="3.85" class="og"/>
<circle cx="1643.9" cy="578.4" r="3.85" class="og"/>
<circle cx="1644.8" cy="376.7" r="3.85" class="og"/>
<circle cx="1645.4" cy="588.8" r="3.85" class="og"/>
<path d="M1650 765L1650 779L1650 780L1650 792L1650 807L1650 826L1650 860L1651 739L1651 809L1651 838L1651 847L1651 849L1651 855L1651 859L1651 859L1651 865L1652 754L1652 756L1652 774L1652 798L1652 805L1652 836L1652 839L1652 852L1652 858L1652 862L1652 863L1652 870L1653 777L1653 820L1653 825L1653 842L1653 847L1653 867L1653 869L1654 688L1654 754L1654 757L1654 782L1654 801L1654 807L1654 812L1654 830L1654 831L1654 841L1654 868L1655 772L1655 784L1655 812L1655 833L1655 837L1655 869L1656 787L1656 817L1656 833L1656 853L1656 860L1657 741L1657 800L1657 813L1657 817L1657 819L1657 843L1657 847L1657 854L1657 860L1657 868L1657 869L1658 787L1658 791L1658 811L1658 817L1658 869L1659 742L1659 818L1659 847L1659 851L1659 853L1659 860L1659 868L1659 870L1660 743L1660 791L1660 814L1660 829L1660 831L1660 846L1660 869L1661 791L1661 796L1661 810L1661 818L1661 825L1661 825L1661 836L1661 839L1661 857L1662 829L1662 852L1662 863L1663 798L1663 824L1663 837L1663 840L1663 866L1664 808L1664 811L1664 840L1664 857L1664 861L1664 870L1664 870L1665 777L1665 802L1665 823L1665 829L1665 830L1665 838L1665 844L1665 853L1666 702L1666 728L1666 769L1666 836L1666 840L1666 845L1667 750L1667 772L1667 793L1667 796L1667 815L1667 824L1667 840L1667 846L1667 849L1667 860L1667 862L1667 870L1668 717L1668 763L1668 771L1668 777L1668 781L1668 822L1668 855L1669 826L1669 830L1669 850L1669 869L1670 832L1670 850L1670 857L1670 860L1670 864L1670 870L1671 812L1671 815L1671 834L1672 811L1672 828L1672 839L1672 857L1673 710L1673 769L1673 804L1673 812L1673 837L1673 863L1673 868L1674 777L1674 789L1674 804L1674 811L1674 816L1674 829L1674 844L1674 846L1674 848L1674 850L1674 851L1675 805L1675 822L1675 832L1675 836L1675 853L1675 862L1675 868L1676 754L1676 819L1676 821L1676 822L1676 835L1676 853L1676 859L1676 869L1677 686L1677 809L1677 811L1677 811L1677 828L1677 840L1677 860L1677 869L1677 869L1678 724L1678 752L1678 785L1678 870L1679 774L1679 778L1679 786L1679 843L1680 763L1680 779L1680 808L1680 823L1680 842L1680 857L1681 834L1681 845L1681 846L1681 854L1681 865L1681 869L1682 770L1682 780L1682 821L1682 828L1682 837L1682 838L1682 845L1682 867L1683 843L1683 846L1683 852L1683 861L1683 863L1683 864L1683 868L1683 869L1684 810L1684 821L1684 828L1684 832L1684 837L1684 849L1684 857" class="mb"/>
<circle cx="1648.2" cy="666.3" r="3.85" class="ob"/>
<circle cx="1653.7" cy="643.1" r="3.85" class="ob"/>
<circle cx="1660.5" cy="659.2" r="3.85" class="ob"/>
<circle cx="1666.7" cy="604.6" r="3.85" class="ob"/>
<circle cx="1667.6" cy="649.6" r="3.85" class="ob"/>
<circle cx="1675.6" cy="431.5" r="3.85" class="ob"/>
<circle cx="1683.0" cy="640.7" r="3.85" class="ob"/>
<circle cx="1683.3" cy="676.1" r="3.85" class="ob"/>
<path d="M1694 684L1694 690L1694 731L1694 744L1694 753L1694 759L1694 760L1694 762L1694 765L1694 766L1694 766L1694 770L1694 772L1694 778L1694 778L1694 780L1694 781L1694 783L1694 783L1694 784L1694 788L1694 788L1694 791L1694 794L1694 794L1694 795L1694 798L1694 805L1694 806L1694 807L1694 808L1694 811L1694 811L1694 812L1694 812L1694 814L1694 816L1694 816L1694 817L1694 818L1694 819L1694 820L1694 822L1694 824L1694 824L1694 825L1694 825L1694 829L1694 829L1694 831L1694 831L1694 832L1694 834L1694 835L1694 835L1694 836L1694 837L1694 837L1694 840L1694 841L1694 841L1694 842L1694 844L1694 844L1694 845L1694 845L1694 846L1694 848L1694 849L1694 850L1694 851L1694 851L1694 852L1694 854L1694 854L1694 855L1694 856L1694 857L1694 858L1694 859L1694 860L1694 861L1694 862L1694 863L1694 864L1694 865L1694 866L1694 866L1694 868L1694 869L1694 869L1694 870L1694 870L1694 870L1695 685L1695 708L1695 729L1695 732L1695 741L1695 741L1695 745L1695 746L1695 752L1695 754L1695 757L1695 768L1695 771L1695 774L1695 775L1695 783L1695 798L1695 798L1695 802L1695 815L1695 827L1695 866L1696 689L1696 725L1696 727L1696 734L1696 736L1696 752L1696 757L1696 779L1696 790L1696 803L1696 860L1697 682L1697 718L1697 737L1697 764L1697 810L1697 870L1697 870L1697 870L1698 684L1698 691L1698 723L1698 734L1698 748L1698 776L1698 806L1698 816L1698 827L1698 833L1698 842L1698 851L1699 709L1699 730L1699 773L1699 783L1699 789L1699 793L1699 810L1699 818L1699 826L1699 832L1699 857L1699 870L1700 692L1700 693L1700 698L1700 707L1700 707L1700 746L1700 760L1700 821L1700 832L1700 839L1700 842L1700 848L1700 853L1700 857L1700 870L1700 870L1701 704L1701 717L1701 736L1701 742L1701 742L1701 749L1701 765L1701 773L1701 797L1701 797L1701 799L1701 846L1701 853L1701 866L1701 870L1702 692L1702 713L1702 720L1702 724L1702 769L1702 780L1702 783L1702 805L1702 836L1702 861L1703 692L1703 703L1703 712L1703 731L1703 738L1703 738L1703 752L1703 752L1703 757L1703 758L1703 761L1703 766L1703 787L1703 791L1703 804L1703 812L1703 819L1703 820L1703 840L1703 854L1703 863L1703 864L1703 870L1703 870L1704 696L1704 707L1704 717L1704 767L1704 772L1704 779L1704 784L1704 795L1704 805L1704 808L1704 813L1704 827L1704 829L1704 842L1704 846L1704 870L1705 685L1705 686L1705 726L1705 727L1705 735L1705 760L1705 822L1705 829L1705 861L1705 870L1706 683L1706 686L1706 708L1706 714L1706 717L1706 745L1706 747L1706 755L1706 759L1706 770L1706 779L1706 799L1706 813L1706 832L1706 847L1706 857L1706 870L1707 708L1707 723L1707 750L1707 777L1707 779L1707 791L1707 802L1707 809L1707 822L1707 835L1707 849L1707 854L1707 863L1707 870L1707 870L1708 693L1708 703L1708 704L1708 715L1708 722L1708 740L1708 752L1708 753L1708 790L1708 797L1708 813L1708 840L1708 863L1709 684L1709 687L1709 689L1709 730L1709 740L1709 763L1709 781L1709 786L1709 816L1709 819L1709 842L1709 855L1709 870L1710 709L1710 719L1710 741L1710 746L1710 767L1710 771L1710 787L1710 794L1710 797L1710 830L1710 834L1710 860L1710 864L1710 870L1710 870L1711 694L1711 705L1711 722L1711 758L1711 772L1711 803L1711 810L1711 823L1711 837L1711 848L1711 870L1712 745L1712 753L1712 764L1712 784L1712 785L1712 794L1712 802L1712 821L1712 824L1712 828L1712 844L1712 857L1713 685L1713 726L1713 738L1713 760L1713 760L1713 771L1713 805L1713 807L1713 814L1713 816L1713 834L1713 846L1713 854L1713 865L1713 870L1713 870L1714 681L1714 709L1714 714L1714 745L1714 768L1714 774L1714 776L1714 827L1714 828L1714 837L1714 844L1714 851L1714 854L1714 861L1714 863L1714 870L1715 689L1715 714L1715 715L1715 720L1715 737L1715 749L1715 752L1715 753L1715 766L1715 774L1715 817L1715 870L1716 706L1716 720L1716 724L1716 725L1716 729L1716 765L1716 765L1716 777L1716 780L1716 792L1716 836L1716 870L1716 870L1717 681L1717 709L1717 711L1717 712L1717 720L1717 727L1717 729L1717 732L1717 736L1717 751L1717 763L1717 778L1717 798L1717 805L1717 809L1717 834L1718 682L1718 726L1718 728L1718 739L1718 740L1718 743L1718 753L1718 757L1718 759L1718 760L1718 760L1718 769L1718 775L1718 780L1718 783L1718 785L1718 787L1718 789L1718 789L1718 792L1718 793L1718 797L1718 799L1718 802L1718 803L1718 815L1718 817L1718 818L1718 819L1718 819L1718 821L1718 822L1718 823L1718 870L1719 742L1719 744L1719 754L1719 782L1719 793L1719 795L1719 800L1719 808L1719 810L1719 814L1719 823L1719 825L1719 828L1719 829L1719 829L1719 831L1719 832L1719 833L1719 835L1719 835L1719 836L1719 839L1719 839L1719 841L1719 845L1719 845L1719 848L1719 849L1719 851L1719 851L1719 852L1719 854L1719 854L1719 855L1719 857L1719 857L1719 858L1719 859L1719 860L1719 862L1719 862L1719 863L1719 863L1719 864L1719 866L1719 866L1719 869L1719 870L1719 870L1719 870" class="mg"/>
<circle cx="1695.1" cy="611.7" r="3.85" class="og"/>
<circle cx="1696.0" cy="599.6" r="3.85" class="og"/>
<circle cx="1696.0" cy="655.5" r="3.85" class="og"/>
<circle cx="1697.8" cy="668.1" r="3.85" class="og"/>
<circle cx="1701.5" cy="324.6" r="3.85" class="og"/>
<circle cx="1702.5" cy="659.2" r="3.85" class="og"/>
<circle cx="1703.1" cy="635.4" r="3.85" class="og"/>
<circle cx="1703.1" cy="656.7" r="3.85" class="og"/>
<circle cx="1704.0" cy="577.7" r="3.85" class="og"/>
<circle cx="1704.0" cy="641.6" r="3.85" class="og"/>
<circle cx="1713.0" cy="633.6" r="3.85" class="og"/>
<circle cx="1713.6" cy="562.6" r="3.85" class="og"/>
<circle cx="1715.7" cy="662.0" r="3.85" class="og"/>
<circle cx="1715.7" cy="675.5" r="3.85" class="og"/>
<circle cx="1716.7" cy="604.6" r="3.85" class="og"/>
<circle cx="1717.0" cy="608.3" r="3.85" class="og"/>
<circle cx="1718.8" cy="637.6" r="3.85" class="og"/>
<circle cx="1719.4" cy="588.2" r="3.85" class="og"/>
<circle cx="1721.0" cy="665.0" r="3.85" class="og"/>
<circle cx="1721.6" cy="495.7" r="3.85" class="og"/>
<circle cx="1721.6" cy="645.9" r="3.85" class="og"/>
<circle cx="1722.5" cy="641.9" r="3.85" class="og"/>
<circle cx="1725.3" cy="543.5" r="3.85" class="og"/>
<circle cx="1726.8" cy="673.7" r="3.85" class="og"/>
<path d="M1728 789L1728 789L1728 793L1728 804L1729 729L1729 740L1729 775L1729 802L1729 803L1729 810L1729 811L1729 826L1729 830L1729 838L1729 840L1729 842L1729 845L1729 854L1729 858L1730 742L1730 786L1730 799L1730 810L1730 828L1730 829L1730 835L1730 846L1730 846L1730 849L1730 855L1730 857L1730 859L1730 861L1730 862L1730 863L1730 864L1731 695L1731 739L1731 743L1731 749L1731 781L1731 802L1731 805L1731 824L1731 832L1731 850L1731 853L1731 867L1731 869L1731 870L1731 870L1732 762L1732 793L1732 817L1732 817L1732 828L1733 738L1733 762L1733 771L1733 775L1733 796L1733 808L1733 812L1733 820L1733 824L1733 839L1733 856L1733 860L1734 701L1734 781L1734 787L1734 790L1734 791L1734 817L1734 826L1734 843L1734 845L1735 759L1735 833L1735 841L1735 854L1735 861L1735 862L1736 774L1736 785L1736 788L1736 796L1736 802L1736 818L1736 830L1736 855L1736 868L1736 870L1737 720L1737 756L1737 793L1737 794L1737 807L1737 809L1737 814L1737 834L1737 838L1738 712L1738 735L1738 741L1738 772L1738 799L1738 801L1738 823L1738 849L1738 858L1738 859L1738 868L1738 869L1738 870L1739 724L1739 805L1739 815L1739 825L1739 848L1739 866L1739 869L1740 748L1740 776L1740 821L1740 839L1740 841L1740 849L1741 730L1741 732L1741 765L1741 774L1741 819L1741 829L1741 846L1741 870L1742 754L1742 799L1742 807L1742 814L1742 815L1742 824L1742 848L1742 851L1742 864L1743 742L1743 749L1743 786L1743 787L1743 805L1743 810L1743 830L1743 832L1743 834L1743 844L1743 853L1743 858L1743 866L1744 739L1744 755L1744 769L1744 772L1744 776L1744 780L1744 781L1744 799L1744 836L1744 841L1744 852L1744 865L1744 869L1744 870L1745 691L1745 763L1745 799L1745 826L1745 859L1746 700L1746 767L1746 788L1746 789L1746 792L1746 829L1746 843L1746 857L1746 870L1747 729L1747 775L1747 785L1747 800L1747 802L1747 819L1747 822L1747 838L1747 851L1747 869L1748 694L1748 730L1748 763L1748 792L1748 805L1748 811L1748 815L1748 817L1748 851L1748 856L1748 869L1749 771L1749 777L1749 777L1749 779L1749 821L1749 832L1749 842L1749 843L1749 845L1749 861L1750 753L1750 769L1750 782L1750 791L1750 795L1750 801L1750 826L1750 831L1750 835L1750 863L1751 769L1751 782L1751 784L1751 808L1751 811L1751 823L1751 848L1751 863L1751 869L1752 744L1752 753L1752 803L1752 848L1752 855L1753 756L1753 825L1753 836L1753 858L1753 869L1754 727L1754 742L1754 771L1754 800L1754 818L1754 828L1754 837L1754 844L1754 850L1754 865L1755 762L1755 762L1755 764L1755 805L1755 816L1755 822L1755 845L1755 853L1755 866L1755 870L1756 764L1756 777L1756 782L1756 787L1756 801L1756 805L1756 808L1756 813L1756 828L1756 841L1756 851L1756 856L1757 743L1757 745L1757 754L1757 754L1757 759L1757 773L1757 780L1757 786L1757 795L1757 796L1757 813L1757 818L1757 824L1757 832L1757 859L1758 694L1758 729L1758 756L1758 765L1758 766L1758 815L1758 836L1758 869L1759 711L1759 748L1759 772L1759 794L1759 804L1759 825L1759 834L1759 843L1759 864L1760 689L1760 752L1760 756L1760 778L1760 789L1760 801L1760 847L1760 869L1760 869L1761 749L1761 769L1761 833L1761 844L1761 855L1761 860L1761 869L1762 806L1762 823L1762 828L1762 830L1762 835L1762 845L1762 846L1762 864L1763 723L1763 753L1763 796L1763 797L1763 797L1763 799L1763 820L1763 828L1763 829L1763 835L1763 839L1763 845L1763 847L1763 851L1763 851L1763 854L1763 858L1763 860L1763 860L1763 863L1763 867L1763 868L1763 870L1763 870L1764 839L1764 839L1764 848" class="mb"/>
<circle cx="1728.4" cy="660.1" r="3.85" class="ob"/>
<circle cx="1728.7" cy="671.2" r="3.85" class="ob"/>
<circle cx="1736.4" cy="633.3" r="3.85" class="ob"/>
<circle cx="1739.8" cy="642.5" r="3.85" class="ob"/>
<circle cx="1740.4" cy="617.2" r="3.85" class="ob"/>
<circle cx="1744.1" cy="575.9" r="3.85" class="ob"/>
<circle cx="1746.6" cy="559.8" r="3.85" class="ob"/>
<circle cx="1750.0" cy="461.7" r="3.85" class="ob"/>
<circle cx="1752.4" cy="262.9" r="3.85" class="ob"/>
<circle cx="1752.4" cy="617.5" r="3.85" class="ob"/>
<circle cx="1752.7" cy="534.9" r="3.85" class="ob"/>
<circle cx="1753.1" cy="500.3" r="3.85" class="ob"/>
<circle cx="1753.4" cy="679.2" r="3.85" class="ob"/>
<circle cx="1760.1" cy="678.6" r="3.85" class="ob"/>
<circle cx="1762.3" cy="485.2" r="3.85" class="ob"/>
<circle cx="1762.3" cy="641.3" r="3.85" class="ob"/>
<path d="M1775 779L1775 802L1775 819L1775 825L1775 852L1775 854L1775 855L1775 861L1775 866L1775 867L1775 870L1776 827L1776 830L1776 843L1776 847L1776 849L1776 858L1776 861L1776 863L1777 730L1777 796L1777 833L1777 835L1777 841L1777 849L1777 866L1777 869L1777 869L1777 870L1778 798L1778 805L1778 837L1778 841L1778 842L1778 849L1778 858L1778 865L1779 778L1779 813L1779 821L1779 821L1779 843L1780 831L1781 761L1781 775L1781 808L1781 820L1781 828L1781 839L1781 842L1781 856L1782 781L1782 808L1782 817L1782 828L1782 855L1783 767L1783 788L1783 801L1783 811L1783 843L1783 863L1784 754L1784 770L1784 788L1784 823L1784 832L1784 850L1784 854L1785 733L1785 794L1785 813L1785 817L1785 825L1785 833L1785 836L1785 848L1785 852L1785 862L1785 864L1785 866L1786 796L1786 860L1786 870L1787 778L1787 785L1787 822L1787 829L1787 838L1787 847L1787 855L1787 868L1788 811L1788 815L1788 842L1788 869L1789 751L1789 809L1789 825L1789 832L1789 835L1789 859L1790 772L1790 805L1790 833L1790 843L1790 859L1790 868L1791 760L1791 772L1791 817L1791 826L1791 827L1791 842L1791 847L1791 858L1792 757L1792 774L1792 827L1792 829L1792 851L1792 851L1792 852L1792 854L1792 856L1792 857L1792 866L1792 869L1793 856L1793 861L1793 867" class="mg"/>
<circle cx="1772.2" cy="644.4" r="3.85" class="og"/>
<circle cx="1776.5" cy="670.0" r="3.85" class="og"/>
<circle cx="1781.1" cy="614.4" r="3.85" class="og"/>
<circle cx="1785.8" cy="641.9" r="3.85" class="og"/>
<circle cx="1786.1" cy="672.1" r="3.85" class="og"/>
<circle cx="1791.0" cy="641.0" r="3.85" class="og"/>
<path d="M1802 702L1802 742L1802 782L1802 788L1802 790L1802 815L1802 816L1802 835L1802 849L1802 850L1802 851L1802 858L1802 860L1802 861L1802 861L1802 865L1802 865L1802 869L1803 686L1803 764L1803 764L1803 779L1803 784L1803 810L1803 818L1803 819L1803 822L1803 823L1803 824L1803 831L1803 834L1803 834L1803 837L1803 839L1803 839L1803 842L1803 848L1803 853L1803 855L1803 856L1803 866L1803 869L1803 869L1804 696L1804 741L1804 751L1804 782L1804 785L1804 789L1804 792L1804 795L1804 803L1804 806L1804 806L1804 813L1804 823L1804 826L1804 830L1804 830L1804 843L1804 843L1804 846L1804 870L1805 727L1805 741L1805 763L1805 781L1805 795L1805 796L1805 798L1805 801L1805 802L1805 810L1805 830L1805 837L1805 870L1806 716L1806 752L1806 771L1806 776L1806 816L1806 822L1806 836L1806 861L1806 870L1807 768L1807 771L1807 772L1807 785L1807 823L1807 843L1807 848L1807 851L1807 870L1808 702L1808 736L1808 753L1808 781L1808 784L1808 805L1808 814L1808 833L1808 852L1808 859L1808 862L1809 703L1809 732L1809 755L1809 757L1809 764L1809 780L1809 803L1809 843L1809 862L1810 700L1810 719L1810 736L1810 762L1810 773L1810 811L1810 815L1810 830L1810 839L1810 866L1810 870L1811 689L1811 715L1811 729L1811 752L1811 761L1811 766L1811 768L1811 790L1811 791L1811 794L1811 798L1811 804L1811 855L1812 776L1812 778L1812 783L1812 791L1812 795L1812 798L1812 810L1812 811L1812 814L1812 821L1812 827L1812 830L1812 856L1813 700L1813 708L1813 731L1813 735L1813 742L1813 751L1813 769L1813 774L1813 780L1813 788L1813 801L1813 808L1813 820L1813 824L1813 828L1813 828L1813 833L1813 834L1813 835L1813 837L1813 839L1813 839L1813 840L1813 841L1813 843L1813 844L1813 848L1813 858L1813 870L1813 870L1813 870L1814 783L1814 802L1814 805L1814 817L1814 823L1814 845L1814 847L1814 852L1814 853L1814 853L1814 860L1814 860L1814 862L1814 866L1814 867L1814 868" class="mb"/>
<circle cx="1801.8" cy="635.7" r="3.85" class="ob"/>
<circle cx="1802.1" cy="551.5" r="3.85" class="ob"/>
<circle cx="1806.4" cy="674.9" r="3.85" class="ob"/>
<circle cx="1808.9" cy="645.3" r="3.85" class="ob"/>
<circle cx="1809.2" cy="591.9" r="3.85" class="ob"/>
<circle cx="1812.9" cy="650.5" r="3.85" class="ob"/>
<circle cx="1813.2" cy="663.8" r="3.85" class="ob"/>
<circle cx="1814.1" cy="656.1" r="3.85" class="ob"/>
<circle cx="1814.8" cy="515.4" r="3.85" class="ob"/>
<circle cx="1815.7" cy="637.0" r="3.85" class="ob"/>
<circle cx="1817.8" cy="602.4" r="3.85" class="ob"/>
<circle cx="1819.7" cy="550.0" r="3.85" class="ob"/>
<circle cx="1819.7" cy="644.4" r="3.85" class="ob"/>
<circle cx="1820.3" cy="627.4" r="3.85" class="ob"/>
<path d="M1823 774L1823 793L1823 820L1823 820L1823 851L1823 864L1824 813L1824 814L1824 824L1824 827L1824 829L1824 831L1824 834L1824 837L1824 848L1824 850L1824 865L1824 867L1825 685L1825 713L1825 765L1825 789L1825 798L1825 816L1825 832L1825 845L1825 846L1825 855L1825 855L1825 855L1825 863L1825 864L1825 868L1825 870L1826 716L1826 759L1826 811L1826 831L1826 835L1826 845L1826 858L1826 860L1826 870L1827 778L1827 782L1828 694L1828 702L1828 763L1828 781L1828 813L1828 818L1828 839L1828 839L1828 841L1828 853L1828 867L1828 870L1829 744L1829 810L1829 825L1829 825L1829 859L1829 862L1830 804L1830 813L1830 827L1830 833L1830 836L1830 856L1831 734L1831 742L1831 814L1831 818L1831 837L1831 848L1831 852L1832 762L1832 790L1832 813L1832 821L1832 828L1832 836L1832 846L1832 869L1833 695L1833 737L1833 763L1833 842L1833 847L1833 855L1833 869L1834 697L1834 747L1834 759L1834 775L1834 851L1834 858L1834 863L1834 863L1834 865L1835 766L1835 810L1835 832L1835 837L1835 842L1835 859L1835 868L1835 869L1835 870L1836 755L1836 800L1836 818L1836 821L1836 825L1837 685L1837 790L1837 802L1837 823L1837 829L1837 832L1837 841L1838 681L1838 797L1838 800L1838 808L1838 851L1838 862L1839 760L1839 820L1839 846L1839 848L1840 705L1840 712L1840 814L1840 836L1840 848L1840 852L1840 861L1841 736L1841 738L1841 740L1841 784L1841 822L1841 834L1841 854L1841 858L1841 864L1842 825L1842 827L1842 838L1842 841L1842 842L1842 859L1842 869L1842 870L1843 828L1843 869L1843 870L1844 720L1844 765L1844 787L1844 787L1844 810L1844 819L1844 847L1844 859L1845 776L1845 811L1845 822L1846 797L1846 831L1846 834L1846 846L1846 852L1846 856L1846 863L1846 866L1846 868L1846 870L1847 698L1847 782L1847 806L1847 849L1847 853L1848 767L1848 827L1848 830L1848 836L1848 837L1848 842L1848 866L1848 868L1849 795L1849 805L1849 807L1849 809L1849 814L1849 815L1849 820L1849 820L1849 841L1849 858L1850 738L1850 790L1850 794L1850 802L1850 815L1850 827L1850 833L1850 849L1850 851L1850 865L1851 727L1851 753L1851 835L1852 760L1852 843L1852 852L1852 858L1852 861L1853 729L1853 785L1853 816L1853 825L1853 845L1854 727L1854 752L1854 815L1854 841L1854 869L1855 717L1855 794L1855 797L1855 818L1855 824L1855 832L1855 847L1855 853L1855 859L1855 866L1856 771L1856 775L1856 803L1856 813L1856 815L1856 825L1856 827L1856 831L1856 839L1857 742L1857 833L1857 841L1857 844L1857 852L1857 865L1857 870L1858 799L1858 802L1858 831L1858 857L1858 864L1859 708L1859 760L1859 793L1859 824L1859 839L1859 849L1859 860L1860 816L1860 838L1860 842L1860 848L1860 868L1860 869L1861 782L1861 814L1861 833L1861 844L1861 866L1862 752L1862 780L1862 786L1862 813L1862 816L1862 819L1862 825L1862 853L1863 713L1863 816L1863 857L1863 869L1863 870L1864 796L1864 800L1864 829L1864 845L1864 855L1864 861L1864 862L1865 701L1865 707L1865 737L1865 793L1865 807L1865 814L1865 830L1865 834L1865 836L1865 841L1866 685L1866 770L1866 779L1866 809L1866 823L1866 845L1866 869L1867 782L1867 786L1867 792L1867 792L1867 798L1867 823L1867 826L1867 835L1867 838L1867 848L1867 851L1867 853L1867 862L1868 709L1868 750L1868 815L1868 816L1868 825L1868 857L1868 868L1869 767L1869 805L1869 835L1869 858L1869 870L1870 781L1870 819L1870 822L1870 829L1870 843L1870 854L1871 748L1871 798L1871 816L1871 840L1871 864L1871 868L1871 868L1872 743L1872 789L1872 796L1872 813L1872 817L1872 833L1872 844L1872 862L1873 800L1873 846L1873 848L1873 855L1873 856L1873 870L1874 709L1874 742L1874 790L1874 802L1874 813L1874 817L1874 826L1874 839L1874 866L1875 715L1875 766L1875 781L1875 828L1875 839L1875 846L1875 859L1876 709L1876 822L1876 835L1876 851L1877 705L1877 777L1877 808L1877 814L1877 824L1877 831L1877 833L1877 846L1877 863L1877 867L1878 696L1878 754L1878 817L1878 849L1878 855L1878 865L1879 834L1879 857L1879 862L1880 798L1880 815L1880 821L1880 840L1880 847L1881 746L1881 757L1881 772L1881 777L1881 807L1881 819L1881 842L1881 847L1881 857L1881 862L1882 711L1882 726L1882 795L1882 804L1882 825L1882 843L1882 867L1882 870L1883 705L1883 722L1883 776L1883 796L1883 826L1883 828L1883 840L1883 843L1883 858L1883 868L1884 744L1884 752L1884 789L1884 835L1884 870L1885 691L1885 724L1885 726L1885 729L1885 788L1885 804L1885 824L1885 831L1885 836L1885 854L1885 857L1886 761L1886 791L1886 804L1886 825L1886 849L1886 852L1886 869L1887 745L1887 822L1887 842L1887 849L1887 853L1887 865L1888 777L1888 806L1888 829L1888 833L1888 862L1889 712L1889 810L1889 847L1889 854L1889 858L1889 865L1890 775L1890 788L1890 803L1890 816L1890 819L1890 836L1890 842L1890 857L1890 864L1890 869L1890 870L1891 706L1891 776L1891 804L1891 807L1891 819L1891 824L1891 828L1891 843L1891 852L1892 767L1892 797L1892 813L1892 820L1892 828L1892 833L1892 837L1892 850L1892 850L1892 866L1892 870L1893 723L1893 790L1893 790L1893 791L1893 805L1893 821L1894 742L1894 754L1894 837L1894 843L1894 856L1894 869L1895 860L1896 766L1896 778L1896 804L1896 829L1896 845L1896 859L1897 701L1897 728L1897 755L1897 757L1897 813L1897 826L1897 830L1897 830L1897 836L1897 847L1897 856L1897 859L1897 862L1897 869L1898 709L1898 743L1898 806L1898 814L1898 848L1898 853L1898 854L1899 774L1899 784L1899 796L1899 818L1899 822L1899 833L1899 839L1899 869L1900 743L1900 752L1900 786L1900 817L1900 818L1900 820L1900 831L1900 841L1900 863L1900 866L1901 804L1901 808L1901 812L1901 838L1901 844L1901 868L1902 824L1902 851L1902 862L1902 862L1902 868L1902 869L1903 722L1903 789L1903 794L1903 805L1903 853L1904 717L1904 787L1904 800L1904 842L1904 869L1905 797L1905 804L1905 805L1905 810L1905 812L1905 823L1905 825L1905 832L1905 835L1905 838L1905 841L1905 845L1905 849L1905 857L1905 865L1906 810L1906 818L1906 829L1906 835L1906 857L1906 865L1906 865L1907 830L1907 835L1907 847L1907 851L1907 852L1907 855L1907 856L1907 862L1907 870L1908 768L1908 799L1908 809L1908 817L1908 819L1908 844L1908 848L1908 857L1908 860L1908 861" class="mg"/>
<circle cx="1822.5" cy="515.7" r="3.85" class="og"/>
<circle cx="1822.5" cy="556.1" r="3.85" class="og"/>
<circle cx="1825.9" cy="641.6" r="3.85" class="og"/>
<circle cx="1828.3" cy="652.7" r="3.85" class="og"/>
<circle cx="1829.6" cy="624.3" r="3.85" class="og"/>
<circle cx="1830.8" cy="348.6" r="3.85" class="og"/>
<circle cx="1842.8" cy="659.2" r="3.85" class="og"/>
<circle cx="1851.5" cy="586.4" r="3.85" class="og"/>
<circle cx="1856.7" cy="622.2" r="3.85" class="og"/>
<circle cx="1857.3" cy="642.8" r="3.85" class="og"/>
<circle cx="1861.3" cy="645.3" r="3.85" class="og"/>
<circle cx="1861.3" cy="662.3" r="3.85" class="og"/>
<circle cx="1878.0" cy="594.7" r="3.85" class="og"/>
<circle cx="1884.2" cy="604.3" r="3.85" class="og"/>
<circle cx="1888.2" cy="526.8" r="3.85" class="og"/>
<circle cx="1889.1" cy="638.2" r="3.85" class="og"/>
<circle cx="1895.3" cy="669.0" r="3.85" class="og"/>
<circle cx="1897.7" cy="675.5" r="3.85" class="og"/>
<circle cx="1900.2" cy="662.6" r="3.85" class="og"/>
<circle cx="1906.7" cy="590.7" r="3.85" class="og"/>
<circle cx="1908.5" cy="669.4" r="3.85" class="og"/>
<circle cx="1909.1" cy="584.8" r="3.85" class="og"/>
<circle cx="1909.1" cy="645.3" r="3.85" class="og"/>
<path d="M1910 797L1910 810L1910 819L1910 824L1910 832L1910 838L1910 843L1910 855L1910 861L1910 865L1910 868" class="mb"/>
</g>
<line x1="79.5" x2="1997.0" y1="170.9" y2="170.9" class="rh"/>
<line x1="79.5" x2="1997.0" y1="169.3" y2="169.3" class="rl"/>
<line x1="79.5" x2="1997.0" y1="356.4" y2="356.4" class="bh"/>
<line x1="79.5" x2="1997.0" y1="356.4" y2="356.4" class="bl"/>
<line x1="72.8" x2="79.6" y1="870.3" y2="870.3" class="tk"/>
<text x="67.0" y="880.4" class="yt">0</text>
<line x1="72.8" x2="79.6" y1="613.3" y2="613.3" class="tk"/>
<text x="67.0" y="623.4" class="yt">2</text>
<line x1="72.8" x2="79.6" y1="356.4" y2="356.4" class="tk"/>
<text x="67.0" y="366.5" class="yt">4</text>
<line x1="72.8" x2="79.6" y1="99.4" y2="99.4" class="tk"/>
<text x="67.0" y="109.5" class="yt">6</text>
<line x1="238.0" x2="238.0" y1="870.3" y2="876.9" class="tk"/>
<text x="238.0" y="905.9" class="xt">1</text>
<line x1="379.6" x2="379.6" y1="870.3" y2="876.9" class="tk"/>
<text x="379.6" y="905.9" class="xt">2</text>
<line x1="506.7" x2="506.7" y1="870.3" y2="876.9" class="tk"/>
<text x="506.7" y="905.9" class="xt">3</text>
<line x1="618.1" x2="618.1" y1="870.3" y2="876.9" class="tk"/>
<text x="618.1" y="905.9" class="xt">4</text>
<line x1="724.8" x2="724.8" y1="870.3" y2="876.9" class="tk"/>
<text x="724.8" y="905.9" class="xt">5</text>
<line x1="826.2" x2="826.2" y1="870.3" y2="876.9" class="tk"/>
<text x="826.2" y="905.9" class="xt">6</text>
<line x1="920.6" x2="920.6" y1="870.3" y2="876.9" class="tk"/>
<text x="920.6" y="905.9" class="xt">7</text>
<line x1="1008.6" x2="1008.6" y1="870.3" y2="876.9" class="tk"/>
<text x="1008.6" y="905.9" class="xt">8</text>
<line x1="1091.2" x2="1091.2" y1="870.3" y2="876.9" class="tk"/>
<text x="1091.2" y="905.9" class="xt">9</text>
<line x1="1170.3" x2="1170.3" y1="870.3" y2="876.9" class="tk"/>
<text x="1170.3" y="905.9" class="xt">10</text>
<line x1="1248.4" x2="1248.4" y1="870.3" y2="876.9" class="tk"/>
<text x="1248.4" y="905.9" class="xt">11</text>
<line x1="1325.3" x2="1325.3" y1="870.3" y2="876.9" class="tk"/>
<text x="1325.3" y="905.9" class="xt">12</text>
<line x1="1403.1" x2="1403.1" y1="870.3" y2="876.9" class="tk"/>
<text x="1403.1" y="905.9" class="xt">13</text>
<line x1="1466.8" x2="1466.8" y1="870.3" y2="876.9" class="tk"/>
<text x="1466.8" y="905.9" class="xt">14</text>
<line x1="1526.2" x2="1526.2" y1="870.3" y2="876.9" class="tk"/>
<text x="1526.2" y="905.9" class="xt">15</text>
<line x1="1576.2" x2="1576.2" y1="870.3" y2="876.9" class="tk"/>
<text x="1576.2" y="905.9" class="xt">16</text>
<line x1="1625.2" x2="1625.2" y1="870.3" y2="876.9" class="tk"/>
<text x="1625.2" y="905.9" class="xt">17</text>
<line x1="1670.8" x2="1670.8" y1="870.3" y2="876.9" class="tk"/>
<text x="1670.8" y="905.9" class="xt">18</text>
<line x1="1710.3" x2="1710.3" y1="870.3" y2="876.9" class="tk"/>
<text x="1710.3" y="905.9" class="xt">19</text>
<line x1="1745.7" x2="1745.7" y1="870.3" y2="876.9" class="tk"/>
<text x="1745.7" y="905.9" class="xt">20</text>
<line x1="1780.1" x2="1780.1" y1="870.3" y2="876.9" class="tk"/>
<text x="1780.1" y="905.9" class="xt">21</text>
<line x1="1810.5" x2="1810.5" y1="870.3" y2="876.9" class="tk"/>
<text x="1810.5" y="905.9" class="xt">22</text>
<line x1="1866.2" x2="1866.2" y1="870.3" y2="876.9" class="tk"/>
<text x="1866.2" y="905.9" class="xt">X</text>
<line x1="1910.0" x2="1910.0" y1="870.3" y2="876.9" class="tk"/>
<text x="1910.0" y="905.9" class="xt">M</text>
<text x="1037.7" y="945.7" class="at">Chromosome</text>
<text transform="translate(41.6 420.7) rotate(-90)" class="at" x="0" y="0">-log(p-value)</text>
<text x="2" y="42.9" class="pl">A)</text>
<text x="553.5" y="146.0" class="gl">RP11-792D21.2</text>
<text x="549.5" y="223.7" class="gl">NPNT</text>
<text x="1296.3" y="77.0" class="gl">RERG</text>
<text x="1621.4" y="41.3" class="gl">PLCD3</text>
<text x="1128.0" y="160.8" class="gl">TNC</text>
<line x1="79.5" x2="1997.0" y1="1771.3" y2="1771.3" class="gm"/>
<line x1="79.5" x2="1997.0" y1="1571.6" y2="1571.6" class="gm"/>
<line x1="79.5" x2="1997.0" y1="1371.9" y2="1371.9" class="gm"/>
<line x1="79.5" x2="1997.0" y1="1172.2" y2="1172.2" class="gm"/>
<line x1="79.5" x2="1997.0" y1="1871.1" y2="1871.1" class="gM"/>
<line x1="79.5" x2="1997.0" y1="1671.4" y2="1671.4" class="gM"/>
<line x1="79.5" x2="1997.0" y1="1471.7" y2="1471.7" class="gM"/>
<line x1="79.5" x2="1997.0" y1="1272.1" y2="1272.1" class="gM"/>
<line x1="79.5" x2="1997.0" y1="1072.4" y2="1072.4" class="gM"/>
<g clip-path="url(#c1)">
<path d="M167 1791L167 1820L167 1870L168 1778L168 1803L168 1803L168 1805L168 1815L168 1834L168 1835L168 1842L168 1844L168 1845L168 1845L168 1846L168 1847L168 1849L168 1851L168 1852L168 1854L168 1860L168 1865L168 1868L168 1870L168 1871L169 1799L169 1816L169 1817L169 1829L169 1831L169 1856L169 1857L169 1861L169 1861L169 1862L169 1865L170 1797L170 1822L170 1823L170 1828L170 1834L170 1839L170 1842L170 1857L171 1828L171 1836L171 1866L172 1830L172 1840L172 1871L172 1871L173 1753L173 1771L173 1776L173 1788L173 1809L173 1825L174 1697L174 1816L174 1816L174 1821L174 1823L174 1838L174 1849L174 1851L174 1852L174 1854L174 1866L174 1871L175 1816L175 1834L175 1860L176 1781L176 1828L176 1863L176 1870L176 1871L177 1767L177 1843L177 1845L177 1846L177 1859L177 1861L178 1788L178 1802L178 1833L178 1852L178 1863L179 1807L179 1813L179 1820L179 1825L179 1826L179 1836L179 1840L179 1868L179 1870L180 1759L180 1766L180 1770L180 1807L180 1810L180 1819L180 1850L180 1852L180 1867L181 1760L181 1789L181 1790L181 1802L181 1812L181 1815L181 1818L181 1830L181 1854L181 1860L181 1870L181 1871L182 1794L182 1799L182 1803L182 1826L182 1840L182 1842L182 1870L183 1799L183 1832L183 1847L183 1853L183 1870L184 1810L184 1814L184 1824L184 1831L184 1836L184 1854L184 1860L184 1869L185 1802L185 1806L185 1845L185 1861L185 1864L185 1870L186 1738L186 1768L186 1803L186 1825L186 1832L187 1780L187 1820L187 1820L187 1871L188 1798L188 1812L188 1836L188 1837L188 1838L188 1846L188 1849L188 1862L188 1871L189 1812L189 1817L189 1843L189 1852L189 1868L190 1764L190 1764L190 1803L190 1818L190 1824L190 1825L190 1856L190 1859L190 1871L191 1742L191 1801L191 1810L191 1839L191 1850L191 1858L191 1864L192 1775L192 1782L192 1805L192 1808L192 1829L192 1830L192 1846L193 1702L193 1799L193 1823L193 1825L193 1834L193 1839L193 1853L193 1870L194 1703L194 1791L194 1812L194 1815L194 1819L194 1824L194 1835L194 1865L194 1870L194 1871L195 1732L195 1769L195 1778L195 1830L195 1841L195 1844L195 1850L195 1852L195 1862L196 1811L196 1813L196 1871L197 1773L197 1805L197 1824L197 1846L197 1860L197 1866L197 1870L198 1764L198 1766L198 1772L198 1836L198 1854L198 1856L199 1777L199 1786L199 1788L199 1798L199 1821L199 1858L199 1860L200 1787L200 1804L200 1812L200 1821L200 1829L200 1836L200 1839L200 1846L201 1727L201 1788L201 1797L201 1830L201 1843L201 1861L201 1870L202 1738L202 1783L202 1788L202 1799L202 1817L202 1828L202 1847L202 1870L203 1789L203 1809L203 1809L203 1810L203 1813L203 1815L203 1824L203 1834L203 1844L203 1849L203 1852L203 1856L203 1865L203 1866L203 1870L204 1728L204 1735L204 1792L204 1819L204 1840L204 1844L204 1858L204 1870L205 1716L205 1797L206 1789L206 1802L206 1825L206 1829L206 1833L206 1859L206 1862L207 1790L207 1791L207 1811L207 1826L207 1837L207 1839L207 1851L207 1870L207 1870L208 1802L208 1850L208 1857L208 1870L209 1804L209 1819L209 1820L209 1827L209 1834L209 1841L209 1842L209 1865L209 1870L210 1737L210 1818L210 1830L210 1846L210 1855L211 1737L211 1767L211 1778L211 1806L211 1809L211 1816L211 1836L211 1849L211 1855L211 1866L212 1783L212 1787L212 1812L212 1870L213 1791L213 1802L213 1821L213 1822L213 1832L213 1841L213 1859L213 1868L213 1870L214 1774L214 1800L214 1801L214 1806L214 1851L214 1863L214 1870L214 1870L215 1781L215 1816L215 1816L215 1824L215 1828L215 1847L215 1861L215 1871L216 1700L216 1777L216 1783L216 1793L216 1832L216 1835L216 1838L216 1846L216 1851L216 1857L217 1789L217 1791L217 1794L217 1796L217 1841L217 1864L217 1870L218 1745L218 1807L218 1826L218 1829L218 1842L219 1730L219 1806L219 1809L219 1810L219 1820L219 1827L219 1846L219 1851L219 1855L219 1859L220 1766L220 1804L220 1818L220 1832L220 1864L221 1791L221 1797L221 1802L221 1839L221 1870L221 1871L222 1802L222 1832L222 1839L222 1847L222 1866L223 1780L223 1792L223 1797L223 1812L223 1839L223 1844L223 1848L223 1854L223 1857L223 1871L224 1704L224 1807L224 1819L224 1824L224 1835L224 1855L224 1861L224 1862L224 1871L224 1871L225 1710L225 1764L225 1795L225 1823L225 1826L225 1863L226 1742L226 1782L226 1792L226 1831L227 1721L227 1795L227 1814L227 1825L227 1834L227 1838L227 1843L227 1850L228 1725L228 1756L228 1788L228 1819L228 1825L228 1851L228 1860L228 1871L229 1789L229 1801L229 1801L229 1816L229 1833L229 1844L229 1868L229 1869L229 1870L230 1797L230 1800L230 1811L230 1812L230 1812L230 1841L230 1844L230 1858L231 1702L231 1765L231 1794L231 1851L231 1856L231 1871L232 1774L232 1775L232 1784L232 1818L232 1829L232 1831L232 1861L232 1862L233 1772L233 1786L233 1800L233 1813L233 1814L233 1816L233 1819L233 1824L233 1835L233 1838L233 1839L233 1842L233 1843L233 1845L233 1846L233 1870L234 1756L234 1796L234 1811L234 1834L234 1849L234 1853L234 1856L234 1856L234 1865L234 1865L234 1866L235 1756L235 1767L235 1819L235 1821L235 1822L235 1824L235 1825L235 1829L235 1830L235 1834L235 1841L235 1848L235 1849L235 1853L235 1855L235 1866L235 1870L250 1765L250 1769L250 1772L250 1783L250 1792L250 1836L250 1846L250 1850L250 1855L250 1856L250 1857L250 1863L250 1865L250 1867L250 1869L251 1721L251 1782L251 1788L251 1792L251 1803L251 1817L251 1820L251 1836L251 1850L251 1853L251 1860L251 1870L252 1725L252 1785L252 1792L252 1795L252 1819L252 1821L252 1826L252 1828L252 1831L252 1843L252 1843L252 1846L252 1846L252 1862L253 1773L253 1778L253 1809L253 1825L253 1831L253 1832L253 1871L254 1765L254 1800L254 1808L254 1816L254 1826L254 1844L254 1846L254 1854L254 1864L254 1871L255 1813L255 1814L255 1835L255 1839L255 1862L255 1871L256 1714L256 1768L256 1779L256 1788L256 1791L257 1798L257 1821L257 1842L257 1850L258 1780L258 1799L258 1801L258 1815L258 1823L258 1824L258 1853L258 1857L258 1859L258 1870L259 1831L259 1834L259 1838L259 1847L259 1859L259 1867L259 1871L260 1790L260 1828L260 1847L260 1871L261 1826L261 1849L261 1857L262 1689L262 1778L262 1798L262 1799L262 1799L262 1802L262 1817L262 1818L262 1819L262 1834L262 1852L262 1866L262 1867L263 1763L263 1794L263 1807L263 1821L263 1832L263 1839L263 1841L264 1751L264 1814L264 1828L264 1861L264 1870L265 1759L265 1796L265 1808L265 1824L265 1845L265 1850L265 1871L266 1787L266 1791L266 1818L266 1831L266 1838L266 1842L266 1856L266 1863L266 1863L266 1870L267 1794L267 1845L267 1849L267 1856L267 1859L267 1869L267 1871L268 1709L268 1800L268 1810L268 1815L268 1853L269 1745L269 1762L269 1792L269 1798L269 1799L269 1806L269 1823L269 1834L269 1838L270 1776L270 1806L270 1817L270 1826L270 1862L270 1862L270 1870L271 1745L271 1771L271 1794L271 1797L271 1816L271 1830L271 1840L271 1848L272 1790L272 1821L272 1828L272 1852L272 1870L272 1871L273 1779L273 1813L273 1821L273 1834L273 1857L273 1865L274 1724L274 1736L274 1823L274 1836L274 1841L274 1845L274 1850L274 1858L274 1866L275 1811L275 1830L275 1838L275 1851L276 1801L276 1806L276 1810L276 1846L276 1858L276 1871L277 1727L277 1813L277 1817L277 1820L277 1824L277 1842L277 1859L277 1866L277 1871L278 1795L278 1834L278 1835L278 1839L278 1846L278 1857L279 1790L279 1827L279 1828L279 1837L279 1868L279 1871L280 1774L280 1813L280 1820L280 1861L280 1871L281 1773L281 1783L281 1799L281 1807L281 1811L281 1849L281 1852L281 1855L281 1871L282 1777L282 1820L282 1846L282 1865L283 1775L283 1780L283 1786L283 1818L283 1822L283 1827L283 1831L284 1796L284 1801L284 1801L284 1805L284 1824L284 1832L284 1840L284 1843L284 1849L284 1857L284 1860L284 1867L285 1716L285 1738L285 1760L285 1793L285 1835L285 1866L285 1871L285 1871L286 1755L286 1760L286 1801L286 1806L286 1838L286 1841L286 1843L286 1850L286 1850L286 1870L287 1774L287 1815L287 1824L287 1853L287 1857L287 1864L288 1792L288 1811L288 1811L288 1816L288 1827L289 1719L289 1763L289 1802L289 1827L289 1858L289 1864L290 1803L290 1817L290 1836L290 1836L290 1843L290 1871L291 1808L291 1829L291 1831L291 1839L291 1848L291 1851L291 1871L292 1720L292 1759L292 1770L292 1859L292 1863L292 1871L293 1787L293 1792L293 1810L293 1822L293 1826L293 1826L293 1834L293 1844L293 1851L293 1865L293 1871L294 1806L294 1818L294 1856L295 1814L295 1814L295 1818L295 1826L295 1841L295 1846L295 1855L295 1864L295 1871L296 1752L296 1811L296 1816L296 1825L296 1828L296 1853L296 1871L297 1784L297 1792L297 1846L297 1871L298 1801L298 1815L298 1824L298 1834L298 1837L298 1840L298 1851L298 1860L298 1862L298 1863L298 1870L299 1720L299 1790L299 1804L299 1806L299 1808L299 1832L300 1780L300 1787L300 1810L300 1832L300 1834L300 1847L300 1869L301 1776L301 1795L301 1803L301 1803L301 1818L301 1839L301 1847L301 1851L301 1870L302 1720L302 1775L302 1826L302 1829L302 1830L302 1843L302 1855L302 1855L302 1857L302 1859L302 1860L302 1861L302 1864L302 1867L302 1868L303 1828L303 1851L303 1851L303 1864L303 1865" class="mg"/>
<circle cx="174.2" cy="1398.8" r="3.85" class="og"/>
<circle cx="176.1" cy="1573.4" r="3.85" class="og"/>
<circle cx="176.1" cy="1637.9" r="3.85" class="og"/>
<circle cx="178.6" cy="1614.4" r="3.85" class="og"/>
<circle cx="185.0" cy="1662.6" r="3.85" class="og"/>
<circle cx="185.3" cy="1638.8" r="3.85" class="og"/>
<circle cx="186.9" cy="1655.2" r="3.85" class="og"/>
<circle cx="188.4" cy="1678.0" r="3.85" class="og"/>
<circle cx="195.8" cy="1649.3" r="3.85" class="og"/>
<circle cx="213.1" cy="1679.2" r="3.85" class="og"/>
<circle cx="230.1" cy="1641.0" r="3.85" class="og"/>
<circle cx="234.4" cy="1636.0" r="3.85" class="og"/>
<circle cx="252.6" cy="1645.9" r="3.85" class="og"/>
<circle cx="253.5" cy="1533.3" r="3.85" class="og"/>
<circle cx="254.1" cy="1640.7" r="3.85" class="og"/>
<circle cx="254.4" cy="1493.8" r="3.85" class="og"/>
<circle cx="254.4" cy="1574.3" r="3.85" class="og"/>
<circle cx="258.5" cy="1636.0" r="3.85" class="og"/>
<circle cx="262.8" cy="1665.0" r="3.85" class="og"/>
<circle cx="266.5" cy="1637.9" r="3.85" class="og"/>
<circle cx="282.8" cy="1667.5" r="3.85" class="og"/>
<circle cx="295.2" cy="1659.5" r="3.85" class="og"/>
<circle cx="296.4" cy="1653.9" r="3.85" class="og"/>
<circle cx="296.7" cy="1647.8" r="3.85" class="og"/>
<circle cx="309.4" cy="1655.8" r="3.85" class="og"/>
<path d="M312 1727L312 1769L312 1840L312 1842L313 1730L313 1743L313 1829L313 1838L313 1846L313 1858L313 1860L313 1867L313 1868L314 1771L314 1839L314 1845L314 1847L314 1855L314 1858L314 1868L314 1871L315 1770L315 1788L315 1857L315 1862L316 1807L316 1847L316 1858L316 1864L316 1870L317 1825L317 1827L317 1836L317 1838L317 1852L318 1836L318 1842L318 1843L318 1870L319 1802L319 1823L319 1829L320 1823L320 1828L320 1833L320 1836L320 1845L320 1849L320 1859L320 1862L320 1865L320 1866L320 1871L321 1770L321 1801L321 1871L322 1711L322 1831L322 1834L322 1850L322 1857L323 1756L323 1814L323 1833L323 1851L323 1853L323 1870L324 1708L324 1793L324 1814L324 1840L325 1691L325 1818L325 1842L325 1847L325 1857L325 1860L325 1866L325 1870L326 1793L326 1798L326 1803L326 1814L326 1821L326 1825L326 1829L326 1842L326 1856L326 1862L327 1766L327 1802L327 1830L327 1837L327 1839L327 1848L327 1867L327 1870L327 1871L328 1780L328 1784L328 1805L328 1809L328 1827L328 1831L328 1839L329 1813L329 1815L329 1823L329 1847L330 1751L330 1802L330 1812L330 1844L330 1853L330 1866L331 1789L331 1820L331 1832L331 1844L331 1854L331 1861L331 1869L331 1871L332 1817L332 1861L333 1828L333 1835L333 1844L333 1851L333 1859L333 1870L334 1770L334 1797L334 1801L334 1818L334 1824L334 1838L334 1852L334 1864L335 1753L335 1822L335 1832L335 1849L335 1870L335 1871L336 1816L336 1835L336 1860L337 1759L337 1794L337 1808L337 1818L337 1837L337 1846L337 1851L337 1858L337 1865L337 1870L337 1871L338 1819L338 1836L338 1842L338 1851L338 1860L338 1863L339 1782L339 1803L339 1813L339 1829L339 1860L340 1804L340 1810L340 1823L340 1844L340 1848L340 1851L340 1864L341 1748L341 1763L341 1801L341 1865L341 1870L342 1786L342 1801L342 1812L342 1822L342 1837L342 1841L342 1846L342 1863L342 1870L342 1871L343 1763L343 1836L343 1857L344 1810L344 1851L344 1855L344 1870L345 1830L345 1835L345 1854L345 1856L346 1787L346 1820L346 1823L346 1843L346 1848L347 1787L347 1822L347 1823L347 1846L347 1859L347 1870L347 1871L348 1707L348 1830L348 1842L348 1864L349 1814L349 1819L349 1832L349 1836L349 1837L349 1864L350 1715L350 1773L350 1788L350 1808L350 1819L350 1827L350 1834L350 1847L350 1862L350 1866L351 1767L351 1788L351 1797L351 1801L351 1803L351 1827L351 1841L351 1854L351 1856L351 1869L352 1745L352 1786L352 1790L352 1798L352 1852L352 1853L352 1867L353 1749L353 1830L353 1844L353 1859L353 1871L354 1817L354 1818L354 1826L354 1833L354 1855L354 1870L355 1765L355 1808L355 1821L355 1841L355 1848L356 1759L356 1777L356 1795L356 1804L356 1817L356 1818L356 1822L356 1846L356 1853L356 1871L357 1811L357 1830L357 1836L357 1840L357 1845L357 1856L357 1860L357 1863L357 1866L357 1871L358 1754L358 1781L358 1781L358 1800L358 1835L358 1840L358 1842L358 1847L358 1862L359 1779L359 1811L359 1815L359 1833L359 1866L360 1782L360 1824L360 1853L360 1869L361 1783L361 1785L361 1802L361 1824L361 1825L361 1835L361 1871L361 1871L362 1797L362 1822L362 1851L362 1856L363 1800L363 1832L363 1838L363 1855L363 1856L363 1862L363 1864L364 1792L364 1798L364 1831L364 1847L364 1849L364 1851L364 1870L364 1870L365 1806L365 1831L365 1839L365 1841L365 1842L365 1862L365 1871L366 1764L366 1794L366 1846L366 1850L366 1867L367 1809L367 1824L367 1859L368 1789L368 1825L368 1831L368 1842L368 1847L368 1861L368 1870L369 1774L369 1787L369 1791L369 1821L369 1825L369 1833L369 1836L369 1855L369 1870L370 1790L370 1854L370 1870L371 1766L371 1772L371 1792L371 1802L371 1809L371 1821L371 1825L371 1832L371 1836L371 1851L371 1865L372 1808L372 1840L372 1843L372 1851L372 1863L373 1719L373 1793L373 1821L373 1825L373 1854L373 1870L374 1753L374 1774L374 1840L374 1849L374 1856L374 1865L374 1867L374 1870L374 1871L375 1800L375 1832L375 1859L375 1870L376 1773L376 1816L376 1826L376 1829L376 1844L376 1848L376 1855L377 1779L377 1817L377 1844L377 1858L377 1869L378 1687L378 1836L378 1867L378 1870L379 1816L379 1827L379 1833L379 1839L379 1860L380 1716L380 1785L380 1814L380 1820L380 1826L380 1829L380 1832L380 1849L380 1870L380 1871L381 1789L381 1806L381 1831L381 1838L381 1841L381 1849L381 1852L381 1856L382 1813L382 1817L382 1863L383 1767L383 1789L383 1818L383 1825L383 1843L383 1847L383 1852L383 1861L383 1866L383 1869L384 1730L384 1858L385 1797L385 1834L385 1844L385 1866L385 1870L385 1871L386 1788L386 1789L386 1806L386 1854L386 1856L387 1747L387 1752L387 1762L387 1765L387 1770L387 1779L387 1788L387 1813L387 1837L387 1848L387 1867L388 1726L388 1830L388 1842L388 1861L388 1871L389 1764L389 1792L389 1809L389 1821L389 1821L389 1835L389 1870L390 1807L390 1807L390 1831L390 1840L390 1847L390 1849L390 1855L390 1860L390 1862L390 1868L390 1870L391 1758L391 1808L391 1833L392 1839L392 1870L393 1752L393 1801L393 1808L393 1811L393 1823L393 1832L393 1846L393 1852L393 1857L394 1809L394 1815L394 1822L394 1832L394 1842L394 1858L395 1789L395 1794L395 1798L395 1823L395 1837L395 1848L395 1863L395 1864L395 1871L395 1871L396 1749L396 1776L396 1820L396 1844L396 1871L397 1817L397 1830L397 1851L397 1852L397 1855L397 1863L398 1735L398 1813L398 1814L398 1836L399 1739L399 1785L399 1791L399 1813L399 1817L399 1828L399 1838L399 1843L399 1846L399 1868L400 1770L400 1779L400 1800L400 1815L400 1820L400 1826L400 1832L400 1870L400 1870L401 1802L401 1849L401 1859L401 1865L402 1752L402 1791L402 1802L402 1805L402 1824L402 1838L402 1857L402 1858L403 1804L403 1831L403 1845L403 1854L403 1869L403 1870L404 1702L404 1715L404 1822L404 1834L404 1837L404 1844L404 1866L405 1759L405 1812L405 1848L405 1850L405 1854L405 1866L405 1871L406 1795L406 1799L406 1818L406 1820L406 1836L406 1857L407 1823L407 1826L407 1827L407 1860L408 1772L408 1774L408 1788L408 1842L408 1859L408 1868L408 1869L409 1838L409 1841L409 1851L409 1859L410 1785L410 1823L410 1833L410 1838L410 1851L410 1863L410 1867L410 1870L411 1806L411 1837L411 1843L411 1848L411 1850L411 1870L411 1871L412 1860L412 1869L413 1820L413 1858L413 1866L414 1733L414 1791L414 1826L414 1845L414 1847L415 1826L415 1854L415 1858L416 1798L416 1800L416 1825L416 1829L416 1832L416 1844L416 1860L416 1866L417 1766L417 1795L417 1838L417 1858L417 1864L418 1811L418 1814L418 1834L418 1836L418 1837L418 1854L418 1869L419 1743L419 1773L419 1801L419 1805L419 1819L419 1827L419 1842L419 1847L419 1851L419 1853L419 1869L419 1869L420 1815L420 1818L420 1827L420 1827L420 1842L420 1870L421 1778L421 1821L421 1832L422 1758L422 1834L422 1857L422 1861L422 1864L422 1871L422 1871L423 1715L423 1754L423 1795L423 1799L423 1840L423 1846L423 1849L423 1858L423 1865L423 1870L424 1821L424 1837L424 1865L425 1781L425 1803L425 1828L425 1829L425 1842L425 1870L425 1870L426 1726L426 1803L426 1805L426 1823L426 1826L426 1834L426 1849L426 1856L427 1709L427 1785L427 1807L427 1820L427 1871L428 1749L428 1774L428 1804L428 1824L428 1852L429 1812L429 1814L429 1843L429 1844L429 1860L429 1863L429 1869L430 1834L430 1837L430 1850L430 1854L430 1871L431 1738L431 1803L431 1829L431 1834L431 1842L431 1861L431 1870L432 1796L432 1815L432 1829L432 1830L432 1831L432 1839L432 1857L433 1808L433 1814L433 1816L433 1843L433 1850L433 1857L433 1862L434 1786L434 1794L434 1798L434 1803L434 1803L434 1851L434 1868L434 1870L434 1870L434 1871L435 1799L435 1822L435 1822L435 1840L435 1848L435 1860L437 1803L437 1827L437 1836L437 1862L437 1866L437 1869L437 1870L438 1795L438 1812L438 1821L438 1838L438 1842L438 1848L438 1854L439 1794L439 1818L439 1839L439 1871L440 1755L440 1833L440 1835L440 1842L440 1850L440 1856L440 1858L440 1867L441 1721L441 1827L441 1834L442 1833L442 1845L442 1846L442 1846L442 1846L442 1855L442 1858L442 1862L442 1865L442 1871L443 1758L443 1807L443 1842L443 1853L443 1858L443 1859L443 1861L443 1870" class="mb"/>
<circle cx="324.5" cy="1679.8" r="3.85" class="ob"/>
<circle cx="349.5" cy="1544.4" r="3.85" class="ob"/>
<circle cx="351.0" cy="1661.3" r="3.85" class="ob"/>
<circle cx="352.5" cy="1670.6" r="3.85" class="ob"/>
<circle cx="407.8" cy="1679.2" r="3.85" class="ob"/>
<circle cx="426.6" cy="1624.9" r="3.85" class="ob"/>
<circle cx="429.7" cy="1651.2" r="3.85" class="ob"/>
<circle cx="435.5" cy="1440.5" r="3.85" class="ob"/>
<circle cx="446.9" cy="1666.6" r="3.85" class="ob"/>
<path d="M453 1761L453 1797L453 1812L453 1818L453 1832L453 1840L453 1846L453 1849L453 1855L453 1857L453 1859L453 1859L453 1860L453 1868L454 1802L454 1805L454 1826L454 1832L454 1834L454 1839L454 1845L454 1852L454 1852L454 1866L455 1810L455 1865L455 1865L455 1867L455 1870L455 1870L455 1871L456 1809L456 1821L456 1861L456 1863L456 1869L457 1765L457 1786L457 1797L457 1805L457 1809L457 1845L457 1856L458 1850L458 1852L458 1870L459 1744L459 1783L459 1842L459 1846L459 1855L460 1813L460 1834L460 1836L460 1840L460 1858L460 1865L461 1816L461 1817L461 1825L461 1825L461 1837L461 1863L461 1868L462 1868L463 1774L463 1783L463 1818L463 1828L463 1842L463 1850L464 1754L464 1785L464 1804L464 1826L464 1831L464 1846L464 1857L465 1754L465 1786L465 1798L465 1803L465 1804L465 1808L465 1821L465 1822L465 1833L465 1840L465 1853L465 1862L465 1870L465 1871L465 1871L466 1740L466 1797L466 1806L466 1833L466 1847L466 1852L466 1860L466 1867L466 1871L466 1871L467 1708L467 1759L467 1761L467 1766L467 1778L467 1791L467 1795L467 1813L467 1826L467 1836L467 1859L467 1865L467 1871L468 1761L468 1775L468 1777L468 1782L468 1790L468 1791L468 1809L468 1812L468 1815L468 1817L468 1842L468 1847L468 1862L469 1735L469 1801L469 1802L469 1827L469 1834L469 1839L470 1758L470 1773L470 1775L470 1782L470 1788L470 1796L470 1801L470 1809L470 1828L470 1850L470 1871L470 1871L471 1716L471 1731L471 1744L471 1756L471 1769L471 1809L471 1815L471 1838L471 1857L471 1858L471 1860L471 1868L471 1871L472 1757L472 1790L472 1798L472 1808L472 1819L472 1820L472 1828L472 1828L472 1842L472 1845L472 1849L472 1856L473 1729L473 1733L473 1769L473 1770L473 1797L473 1814L473 1871L474 1728L474 1738L474 1748L474 1789L474 1792L474 1821L474 1826L474 1834L474 1851L474 1862L475 1738L475 1777L475 1813L475 1832L475 1865L475 1868L475 1871L475 1871L476 1754L476 1758L476 1775L476 1787L476 1803L476 1838L476 1845L476 1850L476 1858L476 1862L477 1684L477 1760L477 1784L477 1793L477 1800L477 1802L477 1806L477 1821L477 1831L477 1839L477 1855L478 1697L478 1740L478 1776L478 1780L478 1783L478 1807L478 1807L478 1810L478 1848L478 1871L479 1731L479 1744L479 1800L479 1800L479 1815L479 1822L479 1824L479 1828L479 1841L479 1865L479 1871L479 1871L480 1766L480 1773L480 1776L480 1784L480 1785L480 1793L480 1798L480 1803L480 1810L480 1812L480 1819L480 1842L480 1845L480 1853L480 1856L480 1864L480 1870L481 1725L481 1742L481 1758L481 1758L481 1771L481 1776L481 1793L481 1817L481 1830L481 1831L481 1838L481 1850L481 1863L481 1871L482 1758L482 1777L482 1779L482 1792L482 1811L482 1836L482 1852L483 1713L483 1784L483 1828L483 1861L484 1780L484 1834L484 1847L484 1850L484 1851L484 1857L485 1769L485 1824L485 1835L485 1859L485 1868L486 1814L486 1816L486 1827L486 1871L487 1788L487 1802L487 1808L487 1820L487 1842L487 1842L487 1865L487 1870L488 1815L488 1821L488 1823L488 1840L488 1846L488 1857L488 1861L488 1868L488 1871L488 1871L489 1836L490 1737L490 1739L490 1850L490 1857L490 1863L490 1866L491 1749L491 1815L491 1856L491 1871L491 1871L492 1754L492 1827L492 1827L492 1843L492 1846L492 1851L493 1820L493 1829L493 1852L494 1735L494 1834L494 1836L494 1839L494 1844L494 1857L494 1870L494 1870L495 1807L495 1819L495 1826L495 1831L495 1834L495 1857L495 1860L495 1868L495 1870L496 1784L496 1785L496 1787L496 1790L496 1821L496 1836L496 1864L497 1788L497 1788L497 1822L497 1839L497 1850L497 1868L497 1869L498 1778L498 1813L498 1861L499 1792L499 1819L499 1837L499 1845L500 1783L500 1784L500 1816L500 1842L500 1847L500 1850L500 1857L501 1828L501 1852L501 1853L502 1863L503 1801L503 1807L503 1814L503 1859L503 1867L503 1869L503 1869L504 1765L504 1839L504 1840L504 1849L504 1859L504 1869L504 1871L505 1813L505 1828L505 1843L505 1864L506 1793L506 1838L507 1797L507 1802L507 1813L507 1822L507 1829L507 1837L507 1840L507 1846L507 1856L507 1862L508 1823L508 1825L508 1828L508 1833L508 1852L509 1798L509 1836L509 1844L509 1847L509 1850L509 1856L509 1864L509 1870L510 1758L510 1775L510 1809L510 1810L511 1803L511 1820L511 1824L511 1851L511 1857L511 1861L511 1869L512 1816L512 1869L513 1723L513 1735L513 1839L513 1854L513 1862L514 1741L514 1811L514 1822L514 1838L514 1842L514 1851L514 1854L514 1866L514 1869L515 1774L515 1836L515 1844L516 1757L516 1817L516 1864L517 1800L517 1816L517 1823L517 1836L517 1846L517 1857L517 1859L517 1869L517 1870L518 1792L518 1813L518 1817L518 1818L518 1833L518 1846L518 1855L518 1868L519 1763L519 1795L519 1825L519 1842L519 1842L519 1846L519 1867L520 1766L520 1799L520 1807L520 1826L520 1869L521 1767L521 1838L522 1818L522 1848L522 1851L522 1854L522 1861L523 1818L523 1834L523 1836L523 1860L523 1864L524 1773L524 1785L524 1843L525 1786L525 1814L525 1833L525 1843L525 1852L525 1859L525 1867L525 1867L525 1870L525 1871L525 1871L526 1799L526 1842L526 1851L526 1871L527 1744L527 1794L527 1810L527 1812L527 1814L527 1817L527 1839L527 1854L527 1861L528 1743L528 1796L528 1806L528 1814L528 1830L528 1832L528 1835L528 1856L528 1868L528 1869L529 1806L530 1791L530 1838L530 1847L530 1847L530 1864L530 1870L531 1828L531 1844L532 1811L532 1855L532 1864L533 1793L533 1802L533 1810L533 1816L533 1820L533 1838L533 1855L533 1860L533 1863L534 1818L534 1819L534 1830L534 1839L534 1848L534 1854L535 1769L535 1775L535 1811L535 1836L535 1841L535 1841L535 1847L535 1870L536 1801L536 1814L536 1830L536 1852L536 1859L536 1868L537 1826L537 1826L537 1831L537 1854L537 1862L537 1870L538 1801L538 1820L538 1820L538 1845L539 1824L539 1867L540 1837L540 1841L540 1843L540 1859L540 1864L541 1795L541 1805L541 1814L541 1838L541 1852L541 1870L542 1750L542 1768L542 1819L542 1832L542 1848L542 1857L542 1864L542 1870L543 1787L543 1799L543 1818L543 1834L543 1850L544 1786L544 1830L544 1858L544 1870L545 1785L545 1812L545 1822L545 1826L545 1829L545 1836L545 1841L545 1849L545 1863L546 1741L546 1818L546 1826L546 1826L546 1854L546 1866L546 1868L547 1787L547 1820L547 1842L547 1844L547 1846L547 1854L547 1858L548 1799L548 1820L548 1831L548 1834L548 1846L548 1853L548 1871L549 1870L550 1746L550 1753L550 1777L550 1782L550 1803L550 1839L550 1856L550 1870L551 1818L551 1820L551 1846L551 1860L551 1863L552 1810L552 1838L552 1838L552 1843L552 1855L552 1865L552 1868L552 1870L553 1818L553 1830L553 1841L553 1857L553 1868L553 1868L554 1817L554 1826L554 1846L554 1857L554 1857L554 1860L554 1863L554 1863" class="mg"/>
<circle cx="455.0" cy="1491.1" r="3.85" class="og"/>
<circle cx="463.0" cy="1676.1" r="3.85" class="og"/>
<circle cx="485.8" cy="1672.7" r="3.85" class="og"/>
<circle cx="510.8" cy="1663.2" r="3.85" class="og"/>
<circle cx="513.9" cy="1433.4" r="3.85" class="og"/>
<circle cx="520.0" cy="1591.9" r="3.85" class="og"/>
<circle cx="525.6" cy="1590.4" r="3.85" class="og"/>
<circle cx="528.1" cy="1601.2" r="3.85" class="og"/>
<circle cx="532.1" cy="1587.3" r="3.85" class="og"/>
<circle cx="535.8" cy="1559.8" r="3.85" class="og"/>
<circle cx="553.4" cy="1485.5" r="3.85" class="og"/>
<circle cx="555.2" cy="1654.5" r="3.85" class="og"/>
<path d="M564 1830L564 1832L564 1833L564 1854L564 1867L564 1871L565 1719L565 1842L565 1846L565 1863L566 1827L566 1851L566 1860L566 1869L566 1871L567 1809L567 1825L567 1852L567 1859L568 1749L568 1804L568 1817L568 1833L568 1839L568 1865L569 1767L569 1836L569 1839L569 1842L569 1844L569 1847L569 1868L569 1871L569 1871L570 1799L570 1809L570 1812L570 1854L570 1858L570 1861L571 1812L571 1839L571 1853L572 1788L572 1810L572 1818L572 1823L572 1831L572 1850L572 1871L572 1871L573 1820L573 1820L573 1823L573 1859L573 1870L574 1754L574 1806L574 1825L574 1829L574 1863L574 1867L575 1832L576 1792L576 1805L576 1848L576 1855L577 1782L577 1798L577 1821L577 1827L577 1836L577 1848L577 1854L577 1866L577 1869L578 1732L578 1828L578 1846L578 1849L578 1856L578 1859L578 1863L578 1869L578 1869L579 1809L579 1822L579 1830L579 1837L579 1845L580 1792L580 1808L580 1815L580 1818L580 1821L580 1833L580 1839L580 1842L580 1869L581 1738L581 1843L581 1864L582 1812L583 1850L583 1861L583 1863L583 1868L584 1820L584 1825L584 1829L584 1833L584 1837L584 1843L584 1849L584 1857L585 1745L585 1786L585 1793L585 1825L585 1829L585 1848L585 1852L585 1853L585 1869L586 1857L586 1870L587 1797L587 1807L587 1818L587 1838L587 1869L588 1814L588 1831L588 1840L588 1844L588 1845L588 1861L589 1836L589 1853L589 1856L590 1819L590 1827L590 1852L590 1863L590 1871L591 1807L591 1833L591 1840L591 1852L591 1861L591 1870L592 1779L592 1828L592 1837L592 1861L592 1864L593 1783L593 1793L593 1844L593 1845L593 1856L593 1870L594 1770L594 1812L594 1819L594 1829L594 1848L595 1851L596 1824L596 1836L596 1839L596 1847L596 1857L596 1868L596 1870L597 1813L597 1825L597 1831L597 1862L598 1752L598 1767L598 1785L598 1822L598 1845L598 1856L598 1871L599 1729L599 1796L599 1797L599 1831L599 1853L599 1865L599 1870L599 1870L600 1807L600 1840L600 1841L600 1848L600 1851L600 1862L601 1814L601 1817L601 1832L601 1835L601 1862L601 1870L602 1772L602 1803L602 1840L602 1852L602 1865L603 1750L603 1811L603 1836L603 1848L603 1870L604 1730L604 1748L604 1855L604 1860L605 1817L605 1829L605 1870L606 1826L606 1841L606 1848L606 1870L607 1771L607 1794L607 1797L607 1813L607 1833L607 1840L607 1843L607 1850L607 1854L607 1858L607 1859L607 1862L607 1868L607 1870L608 1812L608 1816L608 1819L608 1822L609 1819L609 1842L609 1843L609 1857L609 1867L609 1871L610 1812L610 1835L610 1836L610 1860L611 1770L611 1804L611 1808L611 1831L611 1837L611 1846L612 1703L612 1845L612 1851L613 1777L613 1788L613 1811L613 1857L613 1859L613 1864L613 1865L613 1870L614 1794L614 1814L614 1830L614 1833L614 1841L614 1850L614 1871L614 1871L615 1793L615 1801L615 1815L615 1832L615 1852L615 1865L615 1868L616 1772L616 1804L616 1812L616 1818L616 1833L616 1870L616 1870L617 1742L617 1827L617 1832L617 1839L617 1851L617 1857L617 1860L617 1860L617 1871L618 1723L618 1764L618 1798L618 1813L618 1817L618 1840L618 1844L618 1846L619 1825L619 1839L619 1868L620 1833L620 1847L620 1856L621 1757L621 1789L621 1822L621 1855L622 1823L622 1863L622 1863L622 1871L623 1839L623 1849L623 1853L623 1862L623 1868L624 1749L624 1840L624 1851L624 1866L624 1870L624 1870L625 1756L625 1798L625 1809L625 1812L625 1859L626 1797L626 1801L626 1804L626 1804L626 1811L626 1830L626 1834L626 1843L626 1856L626 1869L627 1836L627 1844L628 1815L628 1827L628 1833L628 1842L628 1846L628 1848L628 1855L628 1861L628 1863L629 1801L629 1806L629 1823L629 1842L629 1847L629 1862L629 1868L630 1797L630 1819L630 1822L630 1826L630 1836L630 1861L631 1764L631 1834L631 1854L631 1854L632 1795L632 1805L632 1816L632 1819L632 1869L632 1871L633 1762L633 1826L633 1826L633 1851L634 1795L634 1798L634 1804L634 1832L634 1840L634 1847L634 1867L635 1804L635 1819L635 1825L635 1843L635 1848L635 1867L636 1725L636 1802L636 1835L636 1839L636 1849L636 1854L636 1858L636 1859L637 1819L637 1824L637 1861L637 1863L637 1869L638 1820L638 1833L639 1830L639 1841L639 1849L639 1852L640 1789L640 1813L640 1836L640 1839L640 1845L640 1857L640 1862L640 1868L640 1869L641 1705L641 1790L641 1819L641 1826L641 1858L641 1867L642 1793L642 1819L642 1831L642 1833L642 1842L642 1869L643 1842L643 1847L643 1869L644 1756L644 1764L644 1813L644 1852L644 1858L644 1862L644 1870L645 1797L645 1821L645 1821L645 1823L645 1854L645 1869L646 1773L646 1808L646 1813L646 1823L646 1831L646 1836L646 1837L646 1856L646 1858L646 1870L647 1771L647 1843L647 1845L647 1847L647 1851L647 1860L647 1862L647 1867L647 1869L647 1869L649 1826L649 1838L649 1840L649 1868L650 1751L650 1789L650 1848L651 1830L651 1834L651 1836L652 1755L652 1797L652 1803L652 1825L652 1847L652 1851L652 1856L652 1858L652 1869L652 1869L653 1781L653 1840L653 1856L653 1862L653 1869L654 1787L654 1841L654 1865L654 1870L655 1809L655 1812L655 1830L655 1846L655 1863L656 1801L656 1815L656 1835L656 1849L656 1859L657 1786L657 1792L657 1797L657 1797L657 1803L657 1825L657 1848L657 1851L657 1862L658 1783L658 1812L658 1834L658 1840L658 1841L659 1822L659 1859L659 1869L659 1870L660 1769L660 1823L660 1827L660 1851L660 1855L661 1784L661 1799L661 1812L661 1835L661 1843L661 1862L661 1868L662 1768L662 1778L662 1832L662 1839L662 1844L662 1850L663 1792L663 1808L663 1824L663 1857L663 1867L664 1826L664 1830L664 1844L664 1848L664 1849L664 1857L664 1861L665 1823L665 1835L665 1847L665 1862L666 1780L666 1803L666 1814L666 1863L666 1870L666 1871" class="mb"/>
<circle cx="573.1" cy="1641.6" r="3.85" class="ob"/>
<circle cx="577.1" cy="1540.1" r="3.85" class="ob"/>
<circle cx="587.3" cy="1653.3" r="3.85" class="ob"/>
<circle cx="588.8" cy="1652.4" r="3.85" class="ob"/>
<circle cx="590.4" cy="1673.4" r="3.85" class="ob"/>
<circle cx="608.6" cy="1094.0" r="3.85" class="ob"/>
<circle cx="614.1" cy="1679.2" r="3.85" class="ob"/>
<circle cx="623.1" cy="1633.9" r="3.85" class="ob"/>
<circle cx="624.3" cy="1404.7" r="3.85" class="ob"/>
<circle cx="636.7" cy="1652.4" r="3.85" class="ob"/>
<circle cx="652.1" cy="1545.7" r="3.85" class="ob"/>
<path d="M676 1783L676 1814L676 1828L676 1834L676 1835L676 1838L676 1843L676 1843L676 1844L676 1850L676 1853L676 1854L676 1857L676 1858L676 1860L676 1863L676 1865L676 1866L676 1866L676 1867L676 1868L677 1731L677 1769L677 1781L677 1809L677 1831L677 1831L677 1838L677 1841L677 1852L677 1866L677 1869L678 1727L678 1750L678 1785L678 1790L678 1801L678 1803L678 1805L678 1814L678 1815L678 1816L678 1821L678 1844L678 1851L678 1859L678 1866L678 1870L678 1870L678 1871L679 1699L679 1809L679 1817L679 1822L679 1835L679 1844L679 1862L680 1717L680 1779L680 1810L680 1850L680 1859L681 1779L681 1856L682 1764L682 1791L682 1821L682 1829L682 1835L682 1840L682 1842L682 1871L683 1764L683 1775L683 1781L683 1808L683 1828L683 1852L683 1870L683 1871L684 1811L684 1814L684 1821L684 1827L684 1841L684 1850L684 1864L685 1835L685 1836L685 1848L685 1854L685 1860L685 1862L685 1870L685 1870L686 1778L686 1789L686 1818L686 1830L686 1863L687 1685L687 1757L687 1783L687 1798L687 1799L687 1813L687 1821L687 1848L687 1853L687 1862L687 1870L688 1834L688 1840L688 1846L688 1851L689 1751L689 1815L689 1824L689 1829L689 1838L689 1858L690 1744L690 1782L690 1794L690 1799L690 1799L690 1818L690 1841L690 1866L690 1869L691 1826L691 1835L691 1863L691 1870L692 1827L692 1846L692 1849L692 1858L692 1859L693 1792L693 1795L693 1797L693 1797L693 1812L693 1819L693 1820L693 1825L693 1847L693 1870L694 1771L694 1790L694 1807L694 1811L694 1836L694 1851L694 1853L695 1783L695 1807L695 1865L696 1719L696 1795L696 1799L696 1805L696 1811L696 1828L696 1828L696 1830L696 1837L696 1840L696 1843L696 1849L696 1862L696 1870L696 1871L697 1756L697 1790L697 1818L697 1841L697 1852L697 1862L697 1871L698 1793L698 1823L698 1855L698 1859L699 1737L699 1781L699 1794L699 1800L699 1809L699 1817L699 1823L699 1857L700 1710L700 1772L700 1790L700 1791L700 1805L700 1817L700 1821L700 1834L700 1846L700 1864L701 1800L701 1805L701 1820L701 1842L701 1848L701 1853L701 1864L701 1871L702 1704L702 1793L702 1811L702 1833L702 1837L702 1850L702 1865L702 1870L702 1871L703 1697L703 1746L703 1754L703 1829L703 1834L703 1836L703 1855L704 1715L704 1798L704 1822L704 1828L704 1831L704 1859L705 1784L705 1810L705 1817L705 1827L705 1843L705 1846L705 1853L706 1732L706 1771L706 1799L706 1825L706 1843L706 1858L706 1870L707 1757L707 1780L707 1783L707 1801L707 1805L707 1808L707 1850L707 1860L707 1863L707 1870L708 1737L708 1780L708 1794L708 1797L708 1810L708 1820L708 1832L708 1836L708 1838L708 1866L708 1871L709 1681L709 1709L709 1791L709 1801L709 1842L709 1846L710 1819L710 1834L710 1852L710 1855L710 1871L711 1765L711 1822L711 1835L711 1837L711 1865L712 1704L712 1751L712 1794L712 1805L712 1806L712 1814L712 1822L712 1827L712 1857L712 1864L713 1732L713 1771L713 1787L713 1807L713 1840L713 1848L713 1849L713 1868L714 1768L714 1802L714 1802L714 1811L714 1811L714 1820L714 1828L714 1833L714 1838L714 1842L714 1870L714 1871L715 1765L715 1776L715 1782L715 1844L715 1851L715 1857L715 1863L716 1714L716 1785L716 1792L716 1826L716 1826L716 1827L716 1830L716 1858L716 1871L717 1782L717 1793L717 1814L717 1827L717 1865L718 1778L718 1852L718 1862L718 1871L719 1807L719 1808L719 1830L719 1832L719 1839L719 1843L719 1845L719 1850L720 1774L720 1777L720 1788L720 1796L720 1817L720 1838L720 1840L720 1849L720 1857L720 1862L721 1700L721 1798L721 1810L721 1813L721 1819L721 1826L721 1864L721 1871L722 1763L722 1805L722 1820L722 1832L722 1871L723 1771L723 1777L723 1805L723 1822L723 1858L723 1870L724 1798L724 1804L724 1817L724 1826L724 1847L724 1847L724 1855L725 1751L725 1812L725 1816L725 1820L725 1860L725 1867L725 1871L725 1871L726 1720L726 1804L726 1834L726 1841L726 1853L726 1859L726 1869L726 1871L727 1719L727 1752L727 1779L727 1798L727 1804L727 1826L727 1826L727 1828L727 1833L727 1837L727 1842L727 1843L727 1846L727 1852L727 1859L728 1756L728 1779L728 1797L728 1805L728 1810L728 1866L728 1870L729 1772L729 1776L729 1786L729 1786L729 1797L729 1871L730 1747L730 1769L730 1772L730 1774L730 1779L730 1785L730 1791L730 1809L730 1811L730 1818L730 1834L730 1839L730 1849L730 1852L730 1862L732 1759L732 1784L732 1795L732 1798L732 1839L732 1843L732 1857L732 1860L732 1863L733 1764L733 1816L733 1847L733 1850L733 1871L734 1777L734 1800L734 1801L734 1810L734 1815L734 1818L734 1819L734 1823L734 1831L734 1856L734 1860L734 1870L735 1727L735 1769L735 1793L735 1806L735 1821L735 1836L735 1847L735 1866L735 1871L736 1804L736 1824L736 1839L736 1868L736 1870L737 1763L737 1788L737 1819L737 1830L737 1838L737 1846L737 1854L737 1870L738 1750L738 1792L738 1809L738 1828L739 1779L739 1785L739 1833L739 1850L739 1856L739 1867L739 1870L740 1721L740 1772L740 1787L740 1799L740 1811L740 1836L740 1838L740 1842L740 1846L740 1849L740 1860L740 1860L740 1867L740 1868L740 1870L741 1705L741 1786L741 1816L741 1816L741 1824L741 1838L741 1854L741 1859L742 1686L742 1727L742 1781L742 1804L742 1805L742 1811L742 1829L742 1831L742 1860L742 1870L742 1871L743 1776L743 1789L743 1820L743 1823L743 1870L744 1727L744 1842L744 1860L744 1869L745 1796L745 1796L745 1799L745 1807L745 1823L745 1845L745 1854L746 1801L746 1806L746 1813L746 1821L746 1826L746 1834L746 1853L746 1856L746 1871L746 1871L747 1771L747 1786L747 1788L747 1802L747 1815L747 1831L747 1838L747 1839L747 1845L747 1847L747 1866L747 1866L748 1759L748 1795L748 1813L748 1835L748 1854L748 1862L748 1870L749 1769L749 1818L750 1744L750 1756L750 1769L750 1779L750 1786L750 1815L750 1829L750 1843L750 1862L750 1870L750 1870L751 1758L751 1793L751 1820L751 1826L751 1826L751 1833L751 1845L751 1848L751 1863L752 1747L752 1779L752 1786L752 1810L752 1857L752 1871L753 1720L753 1751L753 1798L753 1805L753 1809L753 1818L753 1823L753 1849L753 1852L753 1859L754 1780L754 1821L754 1832L754 1835L754 1840L754 1860L754 1867L754 1870L755 1779L755 1787L755 1789L755 1810L755 1842L755 1847L755 1853L755 1861L755 1864L756 1702L756 1770L756 1838L756 1854L756 1870L757 1727L757 1762L757 1763L757 1813L757 1816L757 1823L757 1827L757 1832L757 1841L758 1757L758 1761L758 1800L758 1825L758 1842L758 1862L758 1871L759 1829L759 1846L759 1855L759 1870L760 1794L760 1796L760 1809L760 1816L760 1847L760 1858L760 1871L761 1717L761 1800L761 1807L761 1808L761 1811L761 1813L761 1818L761 1820L761 1849L761 1857L761 1865L761 1867L761 1870L762 1773L762 1801L762 1806L762 1827L762 1828L762 1835L762 1837L762 1849L763 1786L763 1837L763 1842L764 1781L764 1785L764 1805L764 1818L764 1842L764 1865L765 1807L765 1824L765 1838L765 1851L765 1861L765 1871L766 1745L766 1777L766 1788L766 1793L766 1797L766 1798L766 1803L766 1807L766 1811L766 1833L766 1859L766 1870L767 1742L767 1813L767 1815L767 1822L767 1827L767 1827L767 1830L767 1842L767 1854L767 1859L767 1869L767 1869L767 1870L768 1714L768 1754L768 1828L768 1833L768 1839L768 1842L768 1851L768 1854L768 1858L768 1863L768 1867L769 1726L769 1808L769 1817L769 1819L769 1822L769 1845L769 1846L769 1848L769 1851L769 1864L769 1866" class="mg"/>
<circle cx="703.3" cy="1666.0" r="3.85" class="og"/>
<circle cx="724.6" cy="1620.3" r="3.85" class="og"/>
<circle cx="727.3" cy="1666.0" r="3.85" class="og"/>
<circle cx="736.9" cy="1646.8" r="3.85" class="og"/>
<circle cx="740.0" cy="1646.8" r="3.85" class="og"/>
<circle cx="747.7" cy="1661.6" r="3.85" class="og"/>
<circle cx="753.6" cy="1655.2" r="3.85" class="og"/>
<circle cx="764.7" cy="1648.7" r="3.85" class="og"/>
<circle cx="771.8" cy="1649.0" r="3.85" class="og"/>
<circle cx="775.8" cy="1620.0" r="3.85" class="og"/>
<path d="M779 1772L779 1774L779 1787L779 1808L779 1819L779 1820L779 1821L779 1831L779 1831L779 1832L779 1833L779 1834L779 1838L779 1838L779 1838L779 1839L779 1841L779 1841L779 1842L779 1843L779 1845L779 1845L779 1846L779 1851L779 1852L779 1852L779 1853L779 1855L779 1855L779 1856L779 1856L779 1858L779 1859L779 1860L779 1861L779 1861L779 1866L779 1866L779 1867L779 1867L779 1869L779 1870L779 1870L779 1871L780 1681L780 1714L780 1732L780 1762L780 1780L780 1791L780 1792L780 1793L780 1794L780 1802L780 1806L780 1813L780 1822L780 1824L781 1740L781 1771L781 1775L781 1777L781 1778L781 1796L781 1800L781 1813L781 1814L781 1816L781 1826L781 1828L781 1839L781 1845L781 1848L781 1854L781 1865L782 1705L782 1722L782 1759L782 1764L782 1785L782 1797L782 1800L782 1805L782 1865L782 1871L783 1737L783 1772L783 1788L783 1808L783 1821L783 1826L784 1736L784 1766L784 1777L784 1805L784 1834L784 1846L784 1854L784 1871L784 1871L785 1771L785 1773L785 1776L785 1793L785 1810L785 1832L785 1841L785 1859L785 1871L786 1787L786 1801L786 1821L786 1834L786 1847L786 1856L786 1871L787 1756L787 1790L787 1793L787 1806L787 1813L787 1821L787 1826L787 1827L787 1863L788 1717L788 1736L788 1774L788 1782L788 1785L788 1797L788 1799L788 1818L788 1838L788 1840L788 1848L788 1852L788 1860L789 1751L789 1752L789 1764L789 1815L789 1820L789 1830L789 1845L790 1731L790 1777L790 1783L790 1811L790 1844L790 1865L790 1867L790 1871L790 1871L790 1871L791 1738L791 1762L791 1768L791 1787L791 1790L791 1795L791 1805L791 1811L791 1817L791 1839L791 1853L791 1860L792 1754L792 1767L792 1781L792 1803L792 1817L792 1830L792 1844L792 1851L792 1871L793 1734L793 1745L793 1764L793 1767L793 1773L793 1796L793 1810L793 1815L793 1824L793 1834L793 1861L794 1731L794 1776L794 1781L794 1782L794 1794L794 1803L794 1822L794 1827L794 1837L794 1848L794 1854L794 1856L794 1857L795 1696L795 1791L795 1821L795 1827L795 1837L795 1845L795 1866L795 1871L796 1765L796 1779L796 1788L796 1800L796 1801L796 1805L796 1829L796 1838L796 1862L796 1868L796 1871L796 1871L797 1749L797 1767L797 1771L797 1772L797 1791L797 1808L797 1815L797 1838L797 1849L797 1871L798 1709L798 1737L798 1766L798 1766L798 1775L798 1820L798 1836L799 1739L799 1760L799 1783L799 1794L799 1795L799 1821L799 1844L799 1861L799 1862L800 1763L800 1783L800 1785L800 1810L800 1815L800 1826L800 1832L800 1836L800 1850L800 1850L800 1856L800 1871L800 1871L801 1683L801 1684L801 1752L801 1780L801 1800L801 1806L801 1809L801 1814L801 1827L801 1830L801 1843L801 1859L801 1871L802 1735L802 1753L802 1763L802 1782L802 1797L802 1819L802 1822L802 1853L802 1864L802 1868L802 1871L803 1696L803 1736L803 1744L803 1775L803 1788L803 1789L803 1793L803 1797L803 1799L803 1804L803 1811L803 1814L803 1814L803 1817L803 1842L803 1852L803 1855L803 1865L803 1871L804 1795L804 1818L804 1833L804 1838L804 1855L804 1871L805 1830L805 1844L805 1852L805 1871L806 1790L806 1804L806 1813L806 1845L806 1862L807 1801L807 1823L807 1842L807 1871L808 1824L808 1829L808 1835L808 1838L808 1846L808 1861L808 1866L808 1871L809 1826L809 1853L809 1857L809 1863L810 1758L810 1772L810 1778L810 1864L810 1870L811 1807L811 1809L811 1833L811 1840L811 1848L811 1855L812 1767L812 1788L812 1798L812 1826L812 1833L812 1838L812 1842L813 1784L813 1796L813 1809L813 1815L813 1818L813 1825L813 1848L813 1864L813 1871L813 1871L814 1692L814 1769L814 1779L814 1785L814 1813L814 1816L814 1834L814 1852L814 1863L814 1871L815 1697L815 1794L815 1811L815 1818L815 1820L815 1828L815 1858L815 1871L816 1825L816 1831L816 1841L816 1844L816 1847L817 1757L817 1794L817 1851L817 1852L817 1857L817 1858L817 1863L817 1866L818 1788L818 1791L818 1842L819 1812L819 1823L819 1833L819 1869L820 1750L820 1782L820 1784L820 1836L820 1837L820 1853L820 1871L821 1739L821 1744L821 1784L821 1821L821 1825L821 1832L821 1849L821 1869L822 1770L822 1805L822 1818L822 1836L822 1842L822 1848L822 1851L822 1855L822 1861L823 1786L823 1801L823 1811L823 1830L823 1863L823 1869L824 1774L824 1791L824 1801L824 1804L824 1813L824 1818L824 1819L824 1851L824 1862L824 1871L825 1745L825 1790L825 1791L825 1824L825 1826L825 1833L825 1834L825 1842L825 1849L825 1850L825 1858L826 1779L826 1842L826 1869L827 1715L827 1736L827 1754L827 1791L827 1813L827 1838L827 1859L827 1871L828 1802L828 1817L828 1869L829 1775L829 1825L829 1827L829 1857L829 1858L829 1863L829 1869L830 1708L830 1800L830 1810L830 1824L830 1838L830 1844L830 1849L831 1807L831 1816L831 1826L831 1836L831 1848L831 1854L831 1861L832 1784L832 1810L832 1817L832 1824L832 1835L832 1852L832 1863L832 1870L832 1871L832 1871L833 1792L833 1797L833 1810L833 1820L833 1825L833 1836L833 1844L833 1849L833 1856L834 1802L834 1814L834 1825L834 1859L835 1754L835 1782L835 1842L835 1865L836 1752L836 1799L836 1804L836 1817L836 1821L836 1836L836 1855L836 1864L837 1776L837 1803L837 1812L837 1819L837 1831L837 1831L837 1833L837 1871L838 1772L838 1774L838 1789L838 1829L838 1840L838 1841L838 1845L838 1851L838 1856L838 1862L838 1870L839 1703L839 1815L839 1822L839 1868L839 1870L840 1793L840 1813L840 1822L840 1844L840 1849L840 1858L841 1743L841 1779L841 1832L841 1841L841 1851L842 1800L842 1860L842 1870L842 1870L843 1757L843 1771L843 1814L843 1818L843 1828L843 1835L843 1839L843 1860L843 1866L843 1869L844 1756L844 1780L844 1791L844 1809L844 1820L844 1823L844 1827L844 1843L844 1864L844 1870L845 1793L845 1802L845 1843L845 1852L845 1855L845 1870L846 1737L846 1761L846 1765L846 1772L846 1772L846 1788L846 1801L846 1822L846 1834L846 1849L847 1716L847 1718L847 1767L847 1807L847 1833L847 1835L847 1849L847 1856L847 1860L847 1871L848 1728L848 1814L848 1870L848 1870L849 1790L849 1835L849 1843L849 1851L849 1863L849 1865L850 1770L850 1816L850 1818L851 1803L851 1805L851 1821L851 1832L851 1839L851 1842L851 1847L851 1854L851 1869L851 1871L852 1755L852 1849L852 1863L853 1763L853 1836L853 1845L853 1856L853 1859L853 1870L854 1810L854 1826L854 1828L854 1836L854 1856L855 1798L855 1804L855 1819L855 1826L855 1848L855 1861L856 1762L856 1796L856 1810L856 1822L856 1831L856 1843L856 1867L856 1870L856 1871L857 1745L857 1762L857 1819L857 1871L858 1787L858 1821L858 1850L858 1855L858 1862L859 1801L859 1804L859 1829L859 1830L859 1836L859 1859L859 1860L859 1868L859 1871L860 1746L860 1774L860 1796L860 1802L860 1824L860 1835L860 1838L860 1840L860 1843L860 1852L860 1871L861 1763L861 1818L861 1824L861 1849L862 1809L862 1843L862 1870L863 1684L863 1806L863 1817L863 1831L863 1835L863 1846L863 1850L863 1852L863 1854L863 1858L863 1868L864 1772L864 1783L864 1801L864 1827L864 1831L864 1851L864 1854L864 1858L864 1864L864 1870L865 1811L865 1826L865 1835L865 1841L865 1863L865 1869L865 1870L866 1791L866 1845L866 1846L866 1862L866 1863L866 1865L866 1868L867 1798L867 1816L867 1825L867 1841L867 1862L867 1867" class="mb"/>
<circle cx="794.6" cy="1613.8" r="3.85" class="ob"/>
<circle cx="795.1" cy="1222.6" r="3.85" class="ob"/>
<circle cx="800.5" cy="1542.0" r="3.85" class="ob"/>
<circle cx="801.7" cy="1645.3" r="3.85" class="ob"/>
<circle cx="823.0" cy="1639.1" r="3.85" class="ob"/>
<circle cx="825.1" cy="1663.2" r="3.85" class="ob"/>
<circle cx="825.1" cy="1679.2" r="3.85" class="ob"/>
<circle cx="838.1" cy="1667.8" r="3.85" class="ob"/>
<circle cx="839.6" cy="1662.3" r="3.85" class="ob"/>
<path d="M876 1850L876 1854L876 1864L877 1759L877 1815L877 1826L877 1829L877 1829L877 1836L877 1843L877 1845L877 1852L877 1856L877 1864L878 1797L878 1809L878 1812L878 1836L878 1842L878 1844L878 1846L878 1859L878 1863L878 1866L878 1869L878 1869L878 1869L879 1767L879 1790L879 1810L879 1821L879 1837L879 1850L879 1860L879 1870L880 1817L880 1823L880 1827L880 1847L880 1855L881 1782L881 1805L881 1811L881 1844L881 1856L881 1870L882 1726L882 1776L882 1783L882 1791L882 1852L882 1853L882 1869L883 1800L883 1831L883 1835L883 1837L883 1861L883 1870L884 1779L884 1790L884 1800L884 1802L884 1818L884 1819L884 1838L884 1843L884 1843L884 1867L884 1870L885 1771L885 1795L885 1828L885 1847L885 1864L886 1751L886 1751L886 1772L886 1796L886 1810L886 1817L886 1829L886 1831L886 1857L886 1863L887 1813L887 1819L887 1840L887 1849L888 1796L888 1833L888 1859L889 1704L889 1776L889 1810L889 1811L889 1820L889 1821L889 1848L889 1852L889 1862L889 1870L889 1870L890 1825L890 1836L890 1850L890 1852L890 1855L890 1857L890 1862L891 1780L891 1813L891 1814L891 1827L891 1829L891 1868L892 1727L892 1797L892 1807L892 1826L892 1836L892 1840L892 1841L892 1842L892 1846L893 1822L893 1867L894 1786L894 1807L894 1843L894 1865L894 1869L895 1800L895 1806L895 1818L895 1824L895 1833L895 1851L895 1857L895 1859L895 1859L895 1865L896 1798L896 1808L896 1813L896 1836L896 1847L896 1870L896 1870L897 1785L897 1844L897 1855L897 1870L898 1793L898 1808L898 1845L898 1849L899 1738L899 1783L899 1800L899 1800L899 1836L899 1838L899 1865L900 1787L900 1806L900 1808L900 1821L900 1827L900 1857L901 1785L901 1799L901 1832L901 1862L901 1869L902 1770L902 1779L902 1795L902 1824L902 1826L902 1834L902 1835L902 1844L902 1848L902 1857L903 1793L903 1794L903 1819L903 1823L903 1840L903 1842L903 1850L903 1862L903 1863L903 1870L903 1870L904 1796L904 1803L904 1853L904 1859L905 1816L905 1869L906 1822L906 1827L906 1827L906 1831L906 1832L906 1858L907 1801L907 1814L907 1837L907 1845L907 1845L907 1859L908 1766L908 1783L908 1785L908 1794L908 1846L908 1853L908 1862L908 1868L908 1871L909 1836L909 1862L909 1869L910 1809L910 1829L910 1832L910 1837L910 1852L911 1786L911 1811L911 1823L911 1830L911 1844L911 1859L911 1871L912 1823L912 1851L912 1855L912 1866L912 1871L913 1821L913 1839L913 1841L914 1831L914 1841L914 1857L915 1787L915 1788L915 1806L915 1821L915 1847L915 1863L915 1870L915 1871L915 1871L916 1824L916 1829L916 1849L916 1865L917 1808L917 1826L917 1851L918 1779L918 1841L918 1856L919 1733L919 1810L919 1811L919 1827L919 1828L919 1831L919 1847L919 1861L919 1866L919 1869L919 1870L919 1870L920 1755L920 1776L920 1785L920 1836L920 1838L920 1845L920 1846L920 1850L920 1857L921 1804L921 1805L921 1808L921 1835L921 1840L921 1848L921 1863L922 1819L922 1837L922 1839L922 1857L923 1796L923 1817L923 1829L923 1832L924 1788L924 1793L924 1797L924 1821L924 1846L924 1868L924 1871L925 1760L925 1780L925 1791L925 1817L925 1836L925 1853L925 1857L925 1861L925 1866L926 1784L926 1799L926 1850L926 1871L927 1744L927 1799L927 1815L927 1826L927 1848L927 1863L927 1870L928 1811L928 1831L928 1835L928 1845L928 1849L928 1852L928 1871L929 1818L929 1870L930 1783L930 1813L930 1846L930 1855L930 1864L931 1798L931 1824L931 1830L931 1838L931 1841L931 1841L931 1845L931 1857L932 1796L932 1802L932 1808L932 1837L932 1853L932 1860L932 1867L933 1812L933 1813L933 1819L933 1820L933 1823L933 1828L933 1841L933 1856L933 1869L934 1768L934 1849L934 1860L934 1868L934 1870L934 1871L935 1776L935 1816L935 1834L936 1835L936 1857L937 1727L937 1799L937 1823L937 1825L937 1829L937 1834L937 1839L937 1844L937 1845L937 1848L937 1850L937 1860L937 1869L938 1786L938 1788L938 1812L938 1815L938 1819L938 1867L939 1803L939 1806L939 1807L939 1809L939 1831L939 1854L939 1866L940 1715L940 1739L940 1750L940 1796L940 1829L940 1837L940 1862L941 1728L941 1803L941 1823L941 1838L941 1840L941 1852L941 1869L941 1869L941 1870L942 1761L942 1811L942 1830L942 1832L942 1857L942 1869L943 1789L943 1820L943 1844L943 1862L943 1863L944 1718L944 1761L944 1810L944 1817L944 1847L944 1855L945 1768L945 1772L945 1796L945 1812L945 1820L945 1840L945 1867L945 1870L946 1816L946 1829L946 1846L946 1850L946 1857L947 1802L947 1808L947 1831L947 1836L947 1838L947 1870L947 1871L948 1747L948 1791L948 1803L948 1845L948 1845L948 1848L948 1856L948 1864L948 1865L949 1798L949 1821L949 1823L949 1840L949 1850L950 1816L950 1832L950 1834L950 1857L951 1763L951 1815L951 1831L951 1841L951 1863L951 1870L951 1871L952 1763L952 1797L952 1824L952 1825L952 1852L952 1859L953 1789L953 1813L953 1849L953 1859L953 1871L954 1813L954 1817L954 1841L954 1852L954 1854L954 1857L954 1864L954 1870L954 1870L955 1765L955 1771L955 1788L955 1790L955 1827L955 1867L956 1769L956 1771L956 1778L956 1804L956 1809L956 1825L956 1836L956 1844L957 1779L957 1793L957 1795L957 1799L957 1802L957 1812L957 1814L957 1816L957 1820L957 1839L957 1840L957 1844L957 1868L957 1871L958 1813L958 1820L958 1830L958 1830L958 1831L958 1849L958 1853L958 1853L958 1867L958 1868L959 1787L959 1806L959 1809L959 1823L959 1832L959 1836L959 1836L959 1842L959 1847L959 1863L960 1828L960 1839L960 1847L960 1849L960 1850L960 1854L960 1859L960 1860L960 1860L960 1863L960 1865" class="mg"/>
<circle cx="875.7" cy="1560.8" r="3.85" class="og"/>
<circle cx="878.2" cy="1620.9" r="3.85" class="og"/>
<circle cx="882.2" cy="1650.5" r="3.85" class="og"/>
<circle cx="888.7" cy="1676.1" r="3.85" class="og"/>
<circle cx="891.8" cy="1648.1" r="3.85" class="og"/>
<circle cx="933.0" cy="1378.7" r="3.85" class="og"/>
<circle cx="933.1" cy="1634.5" r="3.85" class="og"/>
<circle cx="935.3" cy="1678.0" r="3.85" class="og"/>
<circle cx="935.9" cy="1608.3" r="3.85" class="og"/>
<circle cx="937.4" cy="1668.4" r="3.85" class="og"/>
<circle cx="955.6" cy="1497.2" r="3.85" class="og"/>
<circle cx="964.6" cy="1650.5" r="3.85" class="og"/>
<path d="M970 1805L970 1828L970 1828L970 1836L970 1842L970 1853L971 1817L971 1828L971 1843L971 1845L971 1848L971 1851L971 1852L971 1864L971 1867L971 1867L971 1868L971 1869L971 1870L971 1870L972 1786L972 1791L972 1835L972 1841L972 1856L972 1862L972 1862L973 1772L973 1846L973 1861L973 1871L974 1807L974 1817L974 1821L974 1824L974 1828L974 1832L974 1844L974 1857L974 1871L975 1789L975 1850L975 1853L975 1870L976 1770L976 1817L976 1835L976 1838L976 1849L977 1740L977 1800L977 1809L977 1837L977 1846L977 1858L977 1870L978 1753L978 1794L978 1829L978 1835L978 1859L978 1864L978 1865L979 1746L979 1792L979 1794L979 1807L979 1829L979 1859L979 1870L980 1787L980 1788L980 1829L980 1841L980 1847L980 1866L980 1871L981 1770L981 1796L981 1797L981 1810L981 1821L981 1831L981 1852L981 1855L982 1787L982 1804L982 1810L982 1841L982 1842L982 1870L982 1870L983 1782L983 1813L983 1824L983 1839L983 1849L983 1856L984 1807L984 1821L984 1822L984 1840L984 1852L984 1866L985 1785L985 1805L985 1820L985 1823L985 1832L985 1833L985 1836L985 1845L985 1861L985 1864L986 1859L987 1784L987 1794L987 1804L987 1809L987 1816L987 1822L987 1823L987 1825L987 1845L987 1851L987 1870L988 1834L988 1844L988 1861L988 1866L988 1871L989 1758L989 1778L989 1782L989 1800L989 1813L989 1823L989 1828L989 1831L989 1836L989 1845L989 1851L989 1855L989 1870L991 1807L991 1834L991 1845L991 1853L992 1735L992 1744L992 1823L992 1844L992 1852L992 1864L992 1869L992 1870L993 1806L993 1809L993 1815L993 1819L993 1830L993 1839L993 1862L993 1871L994 1797L994 1798L994 1806L994 1827L994 1829L994 1839L994 1842L994 1857L995 1735L995 1818L995 1851L995 1854L995 1858L995 1865L995 1868L996 1757L996 1774L996 1797L996 1801L996 1818L996 1826L996 1848L996 1869L997 1812L997 1834L997 1844L997 1864L998 1771L998 1799L998 1805L998 1808L998 1813L998 1823L998 1841L998 1848L998 1859L998 1870L999 1797L999 1832L999 1834L999 1864L1000 1750L1000 1751L1000 1800L1000 1822L1000 1831L1000 1838L1000 1852L1000 1855L1001 1788L1001 1788L1001 1799L1001 1811L1001 1829L1001 1841L1001 1843L1001 1860L1002 1798L1002 1808L1002 1816L1002 1822L1002 1829L1002 1853L1002 1871L1003 1781L1003 1789L1003 1813L1003 1816L1003 1844L1003 1851L1003 1867L1003 1870L1003 1871L1004 1737L1004 1770L1004 1837L1004 1862L1004 1864L1005 1787L1005 1796L1005 1822L1005 1831L1005 1836L1005 1848L1005 1857L1006 1756L1006 1774L1006 1794L1006 1801L1006 1804L1006 1817L1006 1828L1006 1838L1006 1857L1007 1784L1007 1821L1007 1851L1008 1816L1008 1822L1008 1828L1008 1834L1008 1845L1008 1860L1008 1866L1008 1869L1008 1871L1009 1796L1009 1844L1009 1864L1010 1767L1010 1805L1010 1825L1010 1853L1010 1855L1010 1870L1011 1773L1011 1841L1011 1843L1011 1865L1012 1796L1012 1805L1012 1825L1012 1850L1012 1870L1013 1702L1013 1810L1013 1818L1013 1835L1013 1840L1013 1852L1013 1860L1014 1795L1014 1820L1014 1829L1014 1859L1015 1789L1015 1800L1015 1809L1015 1816L1015 1826L1015 1839L1015 1847L1015 1871L1016 1695L1016 1839L1016 1844L1016 1852L1016 1862L1016 1864L1016 1870L1017 1735L1017 1769L1017 1774L1017 1786L1017 1803L1017 1805L1017 1824L1017 1847L1017 1860L1017 1868L1018 1781L1018 1789L1018 1789L1018 1796L1018 1814L1018 1823L1018 1826L1018 1830L1018 1857L1018 1870L1018 1871L1018 1871L1019 1841L1019 1853L1019 1867L1020 1814L1020 1821L1020 1822L1020 1835L1020 1837L1020 1837L1020 1856L1021 1781L1021 1788L1021 1796L1021 1805L1021 1807L1021 1812L1021 1842L1021 1850L1022 1774L1022 1785L1022 1829L1022 1842L1022 1849L1022 1870L1022 1870L1023 1710L1023 1813L1023 1825L1023 1864L1023 1870L1024 1858L1024 1859L1024 1863L1024 1870L1025 1770L1025 1776L1025 1809L1025 1824L1025 1834L1025 1839L1025 1849L1025 1854L1025 1855L1025 1863L1026 1738L1026 1812L1026 1821L1026 1830L1026 1845L1026 1850L1026 1864L1026 1871L1027 1793L1027 1831L1027 1841L1027 1841L1027 1870L1028 1820L1028 1826L1028 1837L1028 1859L1028 1870L1029 1809L1029 1818L1029 1827L1029 1854L1030 1784L1030 1799L1030 1814L1030 1870L1030 1870L1031 1825L1031 1849L1031 1871L1032 1759L1032 1833L1032 1839L1032 1842L1032 1858L1032 1860L1032 1865L1033 1799L1033 1814L1033 1822L1033 1831L1033 1838L1033 1838L1033 1845L1033 1850L1033 1851L1033 1853L1033 1866L1034 1811L1034 1814L1034 1826L1034 1844L1034 1867L1035 1785L1035 1801L1035 1821L1035 1833L1035 1849L1035 1871L1036 1815L1036 1820L1036 1825L1036 1827L1036 1834L1036 1834L1036 1858L1036 1870L1037 1762L1037 1844L1037 1871L1038 1807L1038 1819L1038 1850L1039 1795L1039 1807L1039 1809L1039 1823L1039 1844L1039 1851L1039 1860L1039 1861L1039 1871L1040 1728L1040 1815L1040 1818L1040 1821L1040 1823L1040 1828L1040 1828L1040 1845L1040 1846L1040 1856L1040 1856L1041 1720L1041 1785L1041 1796L1041 1839L1041 1864L1041 1865L1041 1871L1041 1871L1042 1805L1042 1829L1042 1848L1042 1856L1042 1867" class="mb"/>
<circle cx="973.2" cy="1632.3" r="3.85" class="ob"/>
<circle cx="973.8" cy="1574.7" r="3.85" class="ob"/>
<circle cx="997.3" cy="1616.9" r="3.85" class="ob"/>
<circle cx="999.4" cy="1657.6" r="3.85" class="ob"/>
<circle cx="1006.2" cy="1673.1" r="3.85" class="ob"/>
<circle cx="1018.6" cy="1583.3" r="3.85" class="ob"/>
<circle cx="1023.5" cy="1542.9" r="3.85" class="ob"/>
<circle cx="1050.3" cy="1649.6" r="3.85" class="ob"/>
<circle cx="1050.3" cy="1676.8" r="3.85" class="ob"/>
<path d="M1052 1750L1052 1794L1052 1802L1052 1804L1052 1823L1052 1826L1052 1833L1052 1835L1052 1855L1052 1861L1052 1865L1052 1866L1052 1869L1053 1789L1053 1822L1053 1834L1053 1837L1053 1837L1053 1839L1053 1842L1053 1850L1053 1852L1053 1856L1053 1858L1053 1860L1053 1861L1053 1866L1053 1869L1053 1870L1054 1720L1054 1753L1054 1769L1054 1792L1054 1800L1054 1808L1054 1817L1054 1821L1054 1827L1054 1828L1054 1844L1054 1847L1054 1848L1054 1871L1054 1871L1055 1831L1055 1839L1055 1842L1055 1855L1056 1738L1056 1856L1056 1864L1056 1871L1056 1871L1057 1756L1057 1790L1057 1824L1057 1831L1058 1752L1058 1790L1058 1811L1058 1821L1058 1824L1058 1852L1058 1870L1059 1754L1059 1815L1059 1838L1059 1845L1059 1859L1059 1860L1060 1730L1060 1777L1060 1810L1060 1820L1060 1832L1060 1865L1060 1866L1060 1870L1061 1753L1061 1768L1061 1804L1061 1812L1061 1817L1061 1835L1061 1843L1061 1849L1061 1852L1061 1861L1062 1732L1062 1777L1062 1786L1062 1812L1062 1845L1062 1856L1063 1775L1063 1799L1063 1823L1063 1826L1063 1829L1063 1834L1063 1838L1063 1848L1063 1871L1064 1748L1064 1750L1064 1775L1064 1793L1064 1860L1065 1781L1065 1815L1065 1836L1065 1839L1065 1848L1065 1852L1065 1869L1066 1725L1066 1739L1066 1821L1066 1829L1066 1855L1066 1865L1066 1866L1066 1870L1067 1738L1067 1774L1067 1800L1067 1802L1067 1806L1067 1807L1067 1818L1067 1829L1067 1842L1067 1846L1067 1857L1067 1859L1068 1793L1068 1794L1068 1835L1068 1840L1068 1870L1068 1870L1069 1707L1069 1729L1069 1775L1069 1795L1069 1813L1069 1821L1069 1830L1069 1854L1069 1864L1069 1870L1070 1685L1070 1806L1070 1812L1070 1819L1070 1870L1071 1757L1071 1763L1071 1808L1071 1813L1071 1834L1071 1870L1071 1870L1072 1794L1072 1804L1072 1810L1072 1814L1072 1822L1072 1825L1072 1829L1072 1842L1072 1847L1072 1851L1072 1852L1072 1854L1072 1861L1073 1750L1073 1762L1073 1769L1073 1800L1073 1818L1073 1821L1073 1827L1073 1830L1073 1837L1073 1838L1073 1845L1073 1854L1073 1855L1073 1859L1073 1859L1073 1865L1073 1866L1073 1869L1074 1786L1074 1837L1074 1837L1074 1845L1074 1847L1074 1866L1091 1708L1091 1770L1091 1797L1091 1818L1091 1827L1091 1828L1091 1831L1091 1834L1091 1836L1091 1852L1091 1853L1091 1855L1091 1865L1091 1865L1091 1868L1091 1871L1092 1763L1092 1786L1092 1825L1092 1844L1092 1845L1092 1850L1092 1856L1092 1865L1093 1759L1093 1794L1093 1807L1093 1817L1093 1820L1093 1822L1093 1825L1093 1836L1093 1839L1093 1844L1093 1849L1093 1857L1093 1860L1093 1862L1093 1870L1094 1767L1094 1770L1094 1811L1094 1816L1094 1871L1095 1804L1095 1815L1095 1854L1096 1794L1096 1799L1096 1809L1096 1820L1096 1820L1096 1828L1096 1837L1096 1841L1096 1842L1096 1871L1097 1735L1097 1778L1097 1782L1097 1806L1097 1829L1097 1833L1097 1864L1097 1865L1098 1767L1098 1830L1098 1845L1098 1849L1098 1856L1098 1871L1099 1790L1099 1811L1099 1838L1099 1847L1099 1853L1099 1863L1100 1736L1100 1746L1100 1812L1100 1822L1100 1830L1100 1837L1100 1857L1100 1871L1101 1760L1101 1788L1101 1795L1101 1821L1101 1844L1101 1859L1101 1871L1102 1778L1102 1803L1102 1805L1102 1809L1102 1823L1102 1852L1103 1752L1103 1774L1103 1782L1103 1828L1103 1832L1103 1839L1103 1844L1104 1804L1104 1847L1104 1860L1104 1867L1104 1871L1105 1757L1105 1774L1105 1779L1105 1781L1105 1824L1105 1825L1105 1832L1105 1850L1105 1865L1105 1870L1105 1871L1106 1808L1106 1814L1106 1854L1106 1860L1106 1864L1107 1694L1107 1778L1107 1814L1107 1815L1107 1822L1107 1838L1107 1846L1107 1870L1108 1815L1108 1817L1108 1834L1108 1839L1108 1845L1108 1856L1108 1863L1108 1870L1109 1757L1109 1797L1109 1806L1109 1823L1109 1825L1109 1831L1109 1867L1110 1741L1110 1750L1110 1773L1110 1776L1110 1822L1110 1830L1110 1844L1110 1854L1110 1869L1111 1752L1111 1780L1111 1849L1111 1870L1112 1744L1112 1746L1112 1765L1112 1795L1112 1813L1112 1813L1112 1840L1112 1859L1112 1868L1113 1775L1113 1789L1113 1818L1113 1828L1113 1841L1113 1848L1113 1850L1114 1817L1114 1827L1114 1833L1114 1838L1114 1856L1114 1860L1114 1861L1114 1868L1115 1780L1115 1806L1115 1814L1115 1857L1115 1870L1116 1762L1116 1772L1116 1801L1116 1803L1116 1806L1116 1819L1116 1835L1116 1836L1116 1846L1116 1851L1117 1771L1117 1774L1117 1792L1117 1793L1117 1799L1117 1803L1117 1825L1117 1854L1117 1865L1118 1774L1118 1793L1118 1815L1118 1815L1118 1845L1118 1849L1119 1772L1119 1789L1119 1798L1119 1823L1119 1838L1119 1863L1119 1871L1120 1762L1120 1822L1120 1870L1121 1822L1121 1824L1121 1827L1121 1829L1121 1830L1121 1841L1121 1843L1121 1860L1121 1863L1122 1743L1122 1784L1122 1789L1122 1821L1122 1824L1122 1831L1122 1834L1122 1835L1122 1852L1122 1852L1122 1871L1123 1786L1123 1804L1123 1809L1123 1812L1123 1815L1123 1826L1123 1841L1123 1844L1123 1848L1123 1848L1123 1848L1123 1849L1123 1852L1123 1857L1123 1857L1123 1860L1123 1862L1123 1863L1123 1866L1123 1870L1124 1762L1124 1765L1124 1802L1124 1805L1124 1815L1124 1837L1124 1857L1124 1862L1124 1866L1124 1868" class="mg"/>
<circle cx="1092.3" cy="1514.2" r="3.85" class="og"/>
<circle cx="1093.8" cy="1679.2" r="3.85" class="og"/>
<circle cx="1106.8" cy="1652.4" r="3.85" class="og"/>
<circle cx="1121.9" cy="1670.6" r="3.85" class="og"/>
<circle cx="1124.1" cy="1630.2" r="3.85" class="og"/>
<circle cx="1128.4" cy="1660.7" r="3.85" class="og"/>
<circle cx="1129.3" cy="1674.9" r="3.85" class="og"/>
<path d="M1133 1818L1133 1831L1133 1835L1133 1838L1133 1841L1133 1855L1133 1857L1133 1859L1133 1866L1134 1757L1134 1775L1134 1793L1134 1803L1134 1815L1134 1819L1134 1825L1134 1827L1134 1829L1134 1839L1134 1850L1134 1856L1134 1860L1134 1862L1134 1864L1134 1868L1135 1716L1135 1762L1135 1791L1135 1819L1135 1827L1135 1832L1135 1843L1135 1850L1135 1850L1135 1853L1135 1869L1135 1871L1135 1871L1136 1811L1136 1814L1136 1818L1136 1844L1136 1850L1136 1870L1137 1784L1137 1801L1137 1810L1137 1825L1137 1830L1138 1798L1138 1799L1138 1812L1138 1839L1138 1844L1138 1857L1138 1863L1139 1767L1139 1791L1139 1812L1139 1826L1139 1839L1139 1847L1139 1870L1140 1739L1140 1794L1140 1806L1140 1814L1140 1840L1140 1852L1140 1857L1140 1864L1141 1824L1141 1832L1141 1839L1141 1848L1141 1860L1141 1871L1141 1871L1142 1822L1142 1834L1142 1862L1143 1786L1143 1811L1143 1815L1143 1835L1143 1850L1144 1795L1144 1821L1144 1831L1144 1840L1144 1864L1144 1866L1145 1780L1145 1828L1145 1854L1145 1855L1145 1871L1146 1756L1146 1767L1146 1805L1146 1845L1146 1847L1146 1848L1146 1869L1147 1702L1147 1750L1147 1810L1147 1812L1147 1822L1147 1827L1147 1832L1147 1850L1147 1857L1148 1802L1148 1802L1148 1839L1148 1842L1148 1861L1148 1862L1148 1864L1148 1870L1149 1784L1149 1793L1149 1804L1149 1815L1149 1822L1149 1826L1150 1779L1150 1785L1150 1787L1150 1792L1150 1794L1150 1800L1150 1802L1150 1810L1150 1813L1150 1834L1150 1855L1151 1766L1151 1803L1151 1819L1151 1819L1151 1850L1151 1859L1151 1870L1152 1717L1152 1769L1152 1792L1152 1809L1152 1819L1152 1832L1152 1835L1152 1837L1152 1841L1152 1871L1153 1806L1153 1816L1153 1826L1153 1845L1153 1866L1153 1867L1153 1871L1154 1785L1154 1814L1154 1831L1154 1833L1154 1837L1154 1849L1154 1852L1154 1859L1154 1861L1155 1734L1155 1796L1155 1804L1155 1846L1156 1790L1156 1826L1156 1836L1156 1842L1156 1842L1156 1850L1156 1864L1156 1871L1157 1820L1157 1820L1157 1824L1157 1854L1158 1820L1158 1828L1158 1871L1159 1767L1159 1774L1159 1785L1159 1788L1159 1847L1159 1861L1159 1870L1159 1871L1160 1709L1160 1789L1160 1795L1160 1813L1160 1813L1160 1825L1160 1834L1160 1843L1160 1856L1161 1707L1161 1797L1161 1804L1161 1821L1161 1822L1161 1823L1161 1835L1161 1843L1161 1852L1161 1862L1161 1864L1162 1783L1162 1811L1162 1815L1162 1830L1162 1832L1162 1851L1162 1855L1162 1870L1163 1732L1163 1779L1163 1802L1163 1838L1163 1865L1164 1730L1164 1798L1164 1811L1164 1814L1164 1844L1164 1850L1164 1856L1164 1870L1164 1870L1165 1757L1165 1795L1165 1801L1165 1809L1165 1812L1165 1833L1165 1838L1165 1857L1165 1871L1166 1780L1166 1801L1166 1824L1166 1825L1166 1842L1166 1858L1166 1870L1167 1804L1167 1816L1167 1818L1167 1829L1167 1843L1167 1846L1168 1837L1169 1710L1169 1787L1169 1817L1169 1829L1169 1831L1169 1838L1169 1849L1169 1862L1169 1865L1170 1773L1170 1804L1170 1814L1170 1863L1170 1869L1171 1788L1171 1820L1171 1833L1171 1851L1171 1853L1171 1858L1171 1869L1171 1871L1172 1760L1172 1770L1172 1795L1172 1800L1172 1819L1172 1826L1172 1839L1172 1850L1172 1851L1173 1792L1173 1825L1173 1826L1173 1857L1174 1773L1174 1810L1174 1818L1174 1831L1174 1837L1174 1845L1174 1847L1174 1859L1174 1862L1174 1871L1175 1708L1175 1811L1175 1815L1175 1840L1175 1845L1175 1869L1175 1871L1176 1810L1176 1834L1176 1850L1176 1855L1176 1866L1177 1740L1177 1784L1177 1822L1177 1823L1177 1837L1178 1732L1178 1778L1178 1793L1178 1794L1178 1807L1178 1818L1178 1826L1178 1829L1178 1835L1178 1840L1178 1843L1178 1871L1179 1804L1179 1845L1179 1849L1179 1851L1179 1855L1179 1860L1179 1863L1179 1865L1179 1870L1180 1804L1180 1858L1181 1818L1181 1821L1181 1826L1181 1871L1182 1794L1182 1815L1182 1855L1182 1861L1182 1870L1183 1813L1183 1818L1183 1831L1183 1840L1183 1842L1183 1849L1183 1867L1183 1870L1184 1769L1184 1775L1184 1783L1184 1805L1184 1808L1184 1820L1184 1832L1184 1837L1185 1711L1185 1797L1185 1804L1185 1806L1185 1834L1185 1842L1185 1858L1185 1859L1185 1861L1185 1870L1186 1773L1186 1788L1186 1825L1186 1827L1186 1852L1186 1868L1186 1870L1186 1871L1187 1779L1187 1780L1187 1812L1187 1843L1187 1846L1187 1847L1188 1731L1188 1757L1188 1781L1188 1808L1188 1816L1188 1817L1188 1830L1188 1834L1188 1851L1188 1860L1188 1867L1189 1793L1189 1807L1189 1840L1189 1847L1189 1870L1189 1871L1190 1795L1190 1823L1190 1825L1190 1832L1190 1850L1190 1854L1190 1864L1190 1869L1191 1734L1191 1795L1191 1833L1191 1855L1192 1810L1192 1816L1192 1819L1192 1826L1192 1844L1192 1858L1192 1860L1193 1742L1193 1772L1193 1790L1193 1797L1193 1808L1193 1838L1193 1839L1193 1870L1193 1871L1194 1780L1194 1792L1194 1803L1194 1832L1194 1836L1194 1863L1194 1867L1195 1814L1195 1814L1195 1818L1195 1826L1195 1846L1196 1799L1196 1816L1196 1847L1196 1853L1196 1871L1197 1696L1197 1770L1197 1798L1197 1806L1197 1818L1197 1819L1197 1826L1197 1827L1197 1831L1197 1855L1197 1871L1198 1813L1198 1822L1198 1831L1198 1848L1198 1851L1198 1862L1198 1871L1198 1871L1199 1780L1199 1799L1199 1824L1199 1841L1199 1842L1199 1855L1199 1857L1199 1858L1199 1866L1199 1866L1199 1870L1199 1870L1199 1871L1200 1796L1200 1828L1200 1834L1200 1842L1200 1845L1200 1846L1200 1848L1200 1851L1200 1852L1200 1853L1200 1860L1200 1863L1200 1867" class="mb"/>
<circle cx="1142.9" cy="1504.6" r="3.85" class="ob"/>
<circle cx="1173.4" cy="1634.8" r="3.85" class="ob"/>
<circle cx="1183.9" cy="1669.7" r="3.85" class="ob"/>
<circle cx="1186.5" cy="1423.4" r="3.85" class="ob"/>
<circle cx="1199.9" cy="1520.0" r="3.85" class="ob"/>
<path d="M1209 1819L1209 1829L1209 1841L1209 1846L1209 1871L1210 1703L1210 1790L1210 1791L1210 1792L1210 1794L1210 1804L1210 1816L1210 1820L1210 1823L1210 1825L1210 1825L1210 1827L1210 1835L1210 1844L1210 1851L1210 1851L1210 1852L1210 1853L1210 1858L1210 1861L1210 1862L1210 1863L1210 1863L1210 1863L1210 1867L1211 1790L1211 1808L1211 1819L1211 1829L1211 1837L1211 1838L1211 1839L1211 1840L1211 1843L1211 1857L1211 1858L1211 1868L1211 1869L1212 1739L1212 1780L1212 1808L1212 1830L1212 1846L1212 1859L1213 1705L1213 1797L1213 1799L1213 1800L1213 1801L1213 1827L1213 1834L1213 1870L1214 1733L1214 1737L1214 1783L1214 1818L1214 1821L1214 1833L1214 1840L1214 1871L1215 1764L1215 1768L1215 1792L1215 1794L1215 1810L1215 1810L1215 1826L1215 1829L1215 1841L1215 1842L1215 1853L1215 1870L1216 1803L1216 1848L1216 1851L1216 1864L1216 1871L1217 1799L1217 1799L1217 1805L1217 1808L1217 1822L1218 1793L1218 1815L1218 1822L1218 1835L1218 1843L1218 1847L1218 1850L1218 1857L1218 1864L1218 1865L1219 1775L1219 1794L1219 1815L1219 1830L1219 1846L1219 1857L1219 1871L1220 1755L1220 1770L1220 1789L1220 1835L1220 1847L1220 1860L1220 1864L1221 1778L1221 1780L1221 1808L1221 1809L1221 1814L1221 1821L1221 1823L1221 1831L1221 1834L1221 1871L1221 1871L1222 1782L1222 1802L1222 1818L1222 1840L1222 1845L1222 1854L1223 1749L1223 1795L1223 1807L1223 1824L1223 1828L1223 1838L1223 1842L1223 1852L1223 1864L1223 1871L1224 1791L1224 1799L1224 1800L1224 1817L1224 1857L1225 1726L1225 1795L1225 1824L1225 1833L1225 1861L1226 1774L1226 1785L1226 1811L1226 1852L1226 1855L1227 1787L1227 1797L1227 1814L1227 1827L1227 1836L1227 1842L1227 1865L1227 1869L1227 1871L1227 1871L1227 1871L1228 1766L1228 1805L1228 1839L1228 1847L1228 1849L1228 1871L1229 1737L1229 1773L1229 1812L1229 1819L1229 1821L1229 1833L1229 1851L1229 1861L1229 1871L1230 1770L1230 1777L1230 1781L1230 1813L1230 1815L1230 1821L1230 1826L1230 1834L1230 1835L1230 1842L1230 1846L1230 1849L1230 1859L1231 1745L1231 1798L1231 1806L1231 1858L1231 1864L1231 1866L1232 1740L1232 1756L1232 1759L1232 1776L1232 1783L1232 1796L1232 1827L1232 1835L1232 1871L1233 1748L1233 1792L1233 1812L1233 1829L1233 1836L1233 1844L1233 1871L1234 1761L1234 1772L1234 1780L1234 1793L1234 1812L1234 1821L1234 1823L1234 1854L1234 1871L1235 1742L1235 1772L1235 1785L1235 1820L1235 1840L1235 1871L1236 1734L1236 1762L1236 1768L1236 1802L1236 1805L1236 1806L1236 1813L1236 1833L1236 1850L1236 1853L1236 1854L1236 1859L1236 1861L1236 1865L1237 1774L1237 1782L1237 1798L1237 1805L1237 1819L1237 1831L1237 1842L1237 1842L1237 1847L1237 1850L1237 1863L1238 1779L1238 1793L1238 1814L1238 1825L1238 1865L1238 1871L1239 1690L1239 1776L1239 1803L1239 1814L1239 1817L1239 1842L1239 1862L1239 1871L1240 1767L1240 1780L1240 1792L1240 1798L1240 1817L1240 1824L1240 1828L1240 1843L1240 1851L1240 1857L1240 1871L1241 1794L1241 1831L1241 1834L1241 1835L1241 1847L1241 1851L1241 1857L1242 1709L1242 1744L1242 1790L1242 1801L1242 1837L1242 1856L1242 1863L1243 1710L1243 1787L1243 1787L1243 1803L1243 1806L1243 1813L1243 1817L1243 1846L1243 1871L1243 1871L1244 1743L1244 1755L1244 1792L1244 1808L1244 1811L1244 1822L1244 1824L1244 1828L1244 1841L1244 1842L1244 1866L1244 1871L1245 1773L1245 1808L1245 1859L1245 1871L1246 1764L1246 1786L1246 1796L1246 1809L1246 1827L1246 1830L1246 1838L1246 1853L1246 1859L1246 1865L1246 1871L1247 1780L1247 1780L1247 1800L1247 1820L1247 1828L1247 1834L1247 1846L1247 1852L1247 1859L1247 1871L1247 1871L1248 1699L1248 1782L1248 1794L1248 1799L1248 1837L1248 1868L1248 1871L1249 1727L1249 1742L1249 1770L1249 1785L1249 1814L1249 1816L1249 1831L1249 1842L1249 1848L1249 1855L1250 1752L1250 1786L1250 1790L1250 1801L1250 1813L1250 1818L1250 1838L1250 1844L1250 1862L1251 1782L1251 1787L1251 1800L1251 1802L1251 1820L1251 1832L1251 1866L1252 1794L1252 1807L1252 1824L1252 1827L1252 1830L1252 1849L1252 1864L1252 1871L1253 1772L1253 1788L1253 1788L1253 1796L1253 1804L1253 1811L1253 1822L1253 1839L1253 1845L1253 1855L1253 1856L1253 1870L1253 1871L1254 1787L1254 1800L1254 1808L1254 1813L1254 1834L1254 1836L1254 1844L1254 1847L1254 1854L1255 1774L1255 1795L1255 1799L1255 1816L1255 1862L1255 1863L1256 1767L1256 1861L1256 1870L1256 1870L1257 1779L1257 1789L1257 1804L1257 1808L1257 1811L1257 1826L1257 1838L1257 1851L1257 1868L1257 1870L1258 1718L1258 1781L1258 1792L1258 1816L1258 1824L1258 1829L1258 1831L1259 1767L1259 1790L1259 1817L1259 1820L1259 1820L1259 1827L1259 1843L1259 1844L1259 1857L1259 1857L1259 1866L1259 1870L1260 1755L1260 1807L1260 1850L1261 1754L1261 1784L1261 1800L1261 1805L1261 1813L1261 1834L1261 1841L1261 1848L1261 1871L1262 1779L1262 1791L1262 1800L1262 1800L1262 1826L1262 1832L1262 1837L1262 1842L1262 1851L1262 1857L1262 1867L1262 1870L1262 1871L1263 1741L1263 1751L1263 1756L1263 1764L1263 1790L1263 1799L1263 1805L1263 1813L1263 1841L1263 1848L1263 1863L1264 1772L1264 1773L1264 1784L1264 1786L1264 1799L1264 1811L1264 1822L1264 1833L1264 1862L1264 1864L1265 1825L1265 1828L1265 1836L1265 1853L1265 1870L1266 1761L1266 1773L1266 1782L1266 1802L1266 1816L1266 1817L1266 1819L1266 1846L1266 1847L1266 1854L1266 1868L1266 1871L1266 1871L1267 1771L1267 1785L1267 1861L1267 1867L1268 1803L1268 1811L1268 1812L1268 1824L1268 1837L1269 1794L1269 1795L1269 1802L1269 1820L1269 1842L1269 1850L1269 1860L1269 1863L1270 1789L1270 1812L1270 1825L1270 1829L1270 1836L1270 1843L1270 1854L1270 1856L1270 1871L1270 1871L1271 1789L1271 1794L1271 1800L1271 1828L1271 1831L1271 1844L1271 1871L1272 1732L1272 1781L1272 1802L1272 1803L1272 1814L1272 1852L1272 1861L1272 1871L1272 1871L1273 1745L1273 1779L1273 1828L1273 1838L1273 1850L1273 1868L1274 1737L1274 1792L1274 1807L1274 1815L1274 1816L1274 1820L1274 1846L1274 1866L1274 1871L1275 1763L1275 1778L1275 1780L1275 1790L1275 1792L1275 1804L1275 1805L1275 1809L1275 1821L1275 1822L1275 1836L1276 1716L1276 1768L1276 1794L1276 1822L1276 1822L1276 1839L1276 1842L1276 1857L1276 1857L1276 1869L1277 1731L1277 1768L1277 1775L1277 1797L1277 1800L1277 1809L1277 1811L1277 1814L1277 1819L1277 1827L1277 1832L1277 1836L1277 1836L1277 1837L1277 1840L1277 1844L1277 1860L1277 1860L1278 1755L1278 1794L1278 1812L1278 1828L1278 1831L1278 1834L1278 1845L1278 1849L1278 1850L1278 1850L1278 1852L1278 1853L1278 1862L1278 1863L1278 1865L1278 1866L1278 1866L1278 1868L1278 1868L1278 1871" class="mg"/>
<circle cx="1209.8" cy="1661.0" r="3.85" class="og"/>
<circle cx="1215.7" cy="1673.7" r="3.85" class="og"/>
<circle cx="1229.4" cy="1469.0" r="3.85" class="og"/>
<circle cx="1242.2" cy="1507.4" r="3.85" class="og"/>
<circle cx="1245.3" cy="1677.1" r="3.85" class="og"/>
<circle cx="1248.4" cy="1617.2" r="3.85" class="og"/>
<circle cx="1258.6" cy="1602.4" r="3.85" class="og"/>
<path d="M1288 1736L1288 1768L1288 1779L1288 1800L1288 1818L1288 1830L1288 1836L1288 1840L1288 1841L1288 1841L1288 1848L1288 1850L1288 1853L1288 1857L1288 1859L1288 1862L1288 1870L1289 1808L1289 1811L1289 1823L1289 1831L1289 1843L1289 1846L1289 1850L1289 1851L1289 1860L1289 1862L1289 1867L1290 1781L1290 1787L1290 1811L1290 1823L1290 1855L1290 1869L1290 1870L1290 1871L1291 1823L1291 1851L1291 1871L1292 1730L1292 1732L1292 1790L1292 1806L1292 1830L1292 1837L1292 1838L1292 1842L1292 1850L1293 1820L1293 1822L1293 1853L1293 1866L1293 1870L1294 1769L1294 1805L1294 1810L1294 1827L1294 1831L1294 1843L1294 1857L1294 1862L1294 1863L1295 1807L1296 1742L1296 1791L1296 1792L1296 1806L1296 1835L1296 1837L1296 1845L1296 1852L1296 1865L1297 1729L1297 1741L1297 1768L1297 1836L1297 1871L1297 1871L1297 1871L1298 1748L1298 1766L1298 1823L1298 1825L1298 1842L1298 1847L1298 1848L1298 1856L1298 1857L1298 1861L1299 1760L1299 1773L1299 1811L1299 1827L1300 1772L1300 1803L1300 1816L1300 1832L1300 1840L1300 1851L1300 1855L1300 1864L1301 1738L1301 1812L1301 1813L1301 1815L1301 1821L1301 1829L1301 1841L1301 1863L1301 1869L1301 1870L1302 1707L1302 1820L1302 1846L1303 1791L1303 1795L1303 1809L1303 1810L1303 1826L1303 1837L1303 1862L1303 1871L1304 1796L1304 1807L1304 1831L1304 1838L1304 1843L1304 1858L1304 1867L1305 1776L1305 1822L1305 1832L1305 1842L1305 1851L1305 1867L1306 1783L1306 1786L1306 1793L1306 1813L1306 1835L1306 1846L1306 1852L1306 1856L1306 1861L1306 1870L1307 1710L1307 1809L1307 1817L1307 1824L1307 1826L1307 1836L1308 1782L1308 1838L1308 1858L1308 1859L1308 1870L1308 1871L1309 1725L1309 1783L1309 1795L1309 1812L1309 1815L1309 1830L1309 1850L1309 1870L1310 1739L1310 1798L1310 1803L1310 1818L1310 1840L1310 1845L1310 1849L1310 1854L1311 1800L1311 1805L1311 1807L1311 1820L1311 1827L1311 1830L1311 1863L1311 1865L1311 1870L1311 1870L1312 1792L1312 1797L1312 1801L1312 1802L1312 1843L1312 1855L1312 1864L1312 1870L1313 1718L1313 1733L1313 1746L1313 1810L1313 1812L1313 1824L1313 1827L1313 1834L1313 1855L1314 1758L1314 1797L1314 1820L1314 1833L1314 1835L1314 1861L1315 1713L1315 1744L1315 1753L1315 1808L1315 1841L1315 1847L1315 1851L1315 1861L1315 1870L1316 1720L1316 1794L1316 1825L1316 1833L1316 1841L1316 1860L1316 1868L1316 1870L1317 1745L1317 1787L1317 1796L1317 1818L1317 1819L1317 1837L1317 1848L1317 1857L1317 1870L1318 1747L1318 1757L1318 1813L1319 1796L1319 1815L1319 1829L1319 1841L1319 1847L1319 1870L1319 1870L1320 1727L1320 1761L1320 1761L1320 1799L1320 1807L1320 1808L1320 1823L1320 1832L1320 1841L1320 1850L1320 1853L1320 1854L1320 1864L1320 1866L1320 1871L1321 1781L1321 1796L1321 1815L1321 1829L1321 1837L1322 1706L1322 1825L1322 1846L1322 1857L1323 1790L1323 1801L1323 1802L1323 1805L1323 1848L1323 1865L1323 1871L1324 1777L1324 1783L1324 1796L1324 1815L1324 1815L1324 1835L1324 1837L1324 1851L1324 1858L1324 1861L1324 1871L1324 1871L1325 1693L1325 1783L1325 1791L1325 1820L1325 1824L1325 1831L1325 1836L1325 1841L1325 1855L1326 1778L1326 1820L1326 1848L1326 1855L1326 1868L1327 1721L1327 1732L1327 1796L1327 1800L1327 1828L1327 1843L1327 1848L1328 1815L1328 1836L1328 1869L1329 1779L1329 1827L1329 1829L1329 1843L1329 1851L1329 1862L1329 1866L1329 1869L1329 1870L1330 1750L1330 1757L1330 1758L1330 1784L1330 1796L1330 1803L1330 1818L1330 1823L1330 1826L1330 1860L1331 1795L1331 1802L1331 1813L1331 1836L1331 1854L1331 1867L1332 1755L1332 1788L1332 1793L1332 1809L1332 1812L1332 1834L1332 1839L1332 1845L1332 1860L1332 1866L1332 1870L1333 1820L1333 1848L1333 1855L1334 1797L1334 1819L1334 1829L1334 1838L1334 1854L1334 1859L1334 1867L1334 1870L1335 1801L1335 1804L1335 1809L1335 1813L1335 1816L1335 1836L1335 1839L1335 1847L1335 1871L1336 1820L1336 1826L1336 1831L1337 1778L1337 1822L1337 1831L1337 1837L1337 1847L1338 1785L1338 1809L1338 1814L1338 1843L1338 1855L1338 1861L1338 1870L1338 1871L1339 1798L1339 1804L1339 1809L1339 1818L1339 1831L1339 1849L1339 1850L1339 1860L1339 1866L1340 1786L1340 1796L1340 1841L1340 1870L1341 1789L1341 1797L1341 1803L1341 1820L1341 1823L1341 1833L1341 1836L1341 1856L1341 1863L1342 1784L1342 1804L1342 1818L1342 1824L1342 1840L1342 1849L1342 1856L1342 1862L1343 1829L1343 1869L1343 1870L1344 1786L1344 1795L1344 1822L1344 1844L1344 1844L1344 1851L1344 1868L1345 1818L1345 1826L1345 1836L1345 1837L1346 1687L1346 1755L1346 1784L1346 1798L1346 1799L1346 1805L1346 1828L1346 1833L1346 1836L1346 1856L1346 1864L1347 1752L1347 1784L1347 1787L1347 1803L1347 1810L1347 1818L1347 1841L1347 1842L1347 1848L1347 1855L1347 1860L1348 1774L1348 1774L1348 1778L1348 1780L1348 1809L1348 1825L1348 1828L1348 1862L1348 1869L1349 1783L1349 1785L1349 1819L1349 1854L1349 1869L1349 1871L1350 1769L1350 1803L1350 1844L1350 1848L1351 1847L1351 1855L1351 1856L1351 1859L1352 1780L1352 1802L1352 1810L1352 1812L1352 1821L1352 1823L1352 1832L1352 1859L1353 1744L1353 1754L1353 1802L1353 1812L1353 1816L1353 1832L1353 1836L1353 1837L1353 1847L1353 1863L1353 1864L1353 1865L1353 1870L1354 1821L1354 1822L1354 1835L1354 1849L1354 1871L1355 1735L1355 1777L1355 1781L1355 1782L1355 1825L1355 1829L1355 1840L1355 1841L1356 1742L1356 1745L1356 1826L1356 1837L1356 1851L1356 1860L1356 1870L1356 1871L1357 1796L1357 1811L1357 1835L1357 1842L1357 1854L1358 1736L1358 1751L1358 1795L1358 1810L1358 1844L1358 1852L1358 1868L1359 1768L1359 1785L1359 1792L1359 1830L1359 1832L1359 1842L1359 1861L1360 1727L1360 1759L1360 1779L1360 1807L1360 1811L1360 1825L1360 1857L1360 1869L1360 1870L1360 1871L1360 1871L1361 1770L1361 1785L1361 1807L1361 1820L1361 1848L1361 1862L1362 1792L1362 1792L1362 1828L1362 1832L1362 1842L1362 1850L1362 1851L1362 1853L1362 1854L1362 1861L1362 1867L1363 1776L1363 1811L1363 1829L1363 1839L1363 1841L1363 1847L1363 1848L1363 1856L1363 1858L1363 1858L1363 1863L1363 1868L1363 1869L1363 1870L1363 1870" class="mb"/>
<circle cx="1290.9" cy="1667.5" r="3.85" class="ob"/>
<circle cx="1292.2" cy="1660.7" r="3.85" class="ob"/>
<circle cx="1295.7" cy="1262.4" r="3.85" class="ob"/>
<circle cx="1296.5" cy="1481.5" r="3.85" class="ob"/>
<circle cx="1301.1" cy="1611.7" r="3.85" class="ob"/>
<circle cx="1301.7" cy="1632.3" r="3.85" class="ob"/>
<circle cx="1305.4" cy="1654.2" r="3.85" class="ob"/>
<circle cx="1315.6" cy="1667.5" r="3.85" class="ob"/>
<circle cx="1316.5" cy="1641.0" r="3.85" class="ob"/>
<circle cx="1316.5" cy="1652.7" r="3.85" class="ob"/>
<circle cx="1319.6" cy="1676.1" r="3.85" class="ob"/>
<circle cx="1322.4" cy="1557.7" r="3.85" class="ob"/>
<circle cx="1326.4" cy="1518.2" r="3.85" class="ob"/>
<circle cx="1326.4" cy="1642.2" r="3.85" class="ob"/>
<circle cx="1338.3" cy="1458.9" r="3.85" class="ob"/>
<circle cx="1345.9" cy="1606.7" r="3.85" class="ob"/>
<circle cx="1351.4" cy="1552.1" r="3.85" class="ob"/>
<circle cx="1355.4" cy="1679.2" r="3.85" class="ob"/>
<circle cx="1357.9" cy="1638.2" r="3.85" class="ob"/>
<circle cx="1363.1" cy="1679.2" r="3.85" class="ob"/>
<path d="M1376 1827L1376 1848L1376 1859L1376 1867L1377 1836L1377 1838L1377 1845L1377 1864L1377 1870L1378 1787L1378 1846L1378 1851L1378 1861L1378 1869L1379 1802L1379 1811L1379 1842L1379 1854L1379 1856L1379 1865L1380 1808L1380 1817L1381 1784L1381 1794L1381 1809L1381 1843L1381 1850L1381 1860L1381 1868L1381 1871L1382 1779L1382 1851L1382 1862L1382 1869L1383 1829L1383 1839L1383 1852L1383 1854L1383 1861L1384 1820L1385 1797L1385 1824L1385 1838L1385 1846L1385 1871L1386 1807L1386 1856L1386 1870L1387 1816L1387 1838L1387 1838L1387 1845L1387 1860L1387 1866L1387 1870L1388 1814L1388 1848L1388 1851L1388 1870L1388 1870L1389 1855L1389 1864L1389 1866L1389 1870L1390 1795L1390 1802L1390 1811L1390 1848L1391 1760L1391 1761L1391 1830L1391 1847L1391 1857L1391 1858L1392 1734L1392 1776L1392 1777L1392 1808L1392 1826L1392 1840L1392 1870L1393 1827L1393 1836L1393 1847L1393 1861L1394 1811L1394 1851L1394 1868L1395 1824L1395 1828L1395 1841L1395 1852L1395 1854L1395 1869L1396 1826L1396 1844L1396 1862L1396 1864L1397 1773L1397 1825L1397 1832L1397 1868L1398 1770L1398 1797L1398 1822L1398 1830L1398 1834L1398 1844L1398 1850L1398 1858L1399 1837L1399 1837L1399 1847L1399 1855L1399 1862L1399 1871L1400 1806L1400 1813L1400 1843L1400 1870L1401 1817L1402 1791L1402 1816L1402 1846L1402 1856L1402 1869L1402 1870L1402 1870L1403 1804L1403 1815L1403 1839L1403 1851L1403 1856L1403 1862L1404 1785L1404 1817L1404 1826L1404 1833L1404 1848L1405 1699L1405 1734L1405 1739L1405 1836L1405 1841L1405 1863L1405 1871L1406 1833L1406 1854L1407 1803L1407 1842L1407 1846L1407 1864L1407 1869L1408 1834L1408 1836L1408 1842L1408 1850L1408 1857L1408 1865L1409 1777L1409 1829L1409 1846L1409 1855L1409 1870L1410 1761L1410 1770L1410 1790L1410 1810L1410 1813L1410 1836L1410 1862L1410 1870L1411 1771L1411 1822L1411 1829L1411 1831L1411 1842L1411 1846L1411 1858L1411 1864L1411 1870L1412 1809L1412 1855L1412 1871L1413 1815L1413 1850L1414 1797L1414 1852L1414 1860L1414 1868L1414 1870L1415 1782L1415 1825L1416 1756L1416 1847L1416 1848L1416 1860L1417 1797L1417 1844L1418 1720L1418 1819L1418 1829L1418 1837L1418 1857L1418 1864L1418 1865L1418 1869L1419 1813L1419 1836L1419 1845L1419 1869L1420 1816L1420 1830L1420 1843L1420 1853L1420 1855L1420 1859L1420 1869L1421 1802L1421 1818L1421 1820L1421 1849L1421 1863L1421 1869L1422 1778L1422 1838L1422 1841L1422 1847L1422 1869L1423 1803L1423 1841L1423 1848L1424 1737L1424 1816L1424 1823L1425 1815L1425 1860L1425 1863L1425 1870L1426 1820L1426 1825L1426 1854L1426 1866L1426 1869L1426 1869L1427 1811L1427 1839L1427 1853L1427 1856L1427 1860L1428 1822L1428 1843L1428 1847L1428 1854L1428 1866L1429 1809L1429 1846L1429 1869L1429 1869" class="mg"/>
<circle cx="1390.3" cy="1652.7" r="3.85" class="og"/>
<path d="M1439 1759L1439 1794L1439 1808L1439 1812L1439 1818L1439 1819L1439 1819L1439 1820L1439 1823L1439 1826L1439 1831L1439 1836L1439 1841L1439 1846L1439 1850L1439 1853L1439 1857L1439 1860L1439 1865L1439 1866L1439 1866L1439 1867L1439 1869L1439 1869L1439 1870L1440 1767L1440 1771L1440 1785L1440 1786L1440 1790L1440 1797L1440 1806L1440 1807L1440 1807L1440 1818L1440 1825L1440 1827L1440 1828L1440 1830L1440 1831L1440 1833L1440 1836L1440 1836L1440 1838L1440 1840L1440 1842L1440 1842L1440 1845L1440 1852L1440 1856L1440 1858L1440 1860L1440 1862L1440 1870L1440 1871L1441 1778L1441 1788L1441 1828L1441 1855L1441 1871L1442 1709L1442 1786L1442 1793L1442 1812L1442 1815L1442 1860L1442 1871L1442 1871L1443 1689L1443 1732L1443 1772L1443 1794L1443 1798L1443 1800L1443 1812L1443 1841L1443 1848L1443 1865L1444 1726L1444 1739L1444 1756L1444 1784L1444 1800L1444 1807L1444 1820L1444 1835L1444 1841L1444 1849L1444 1867L1444 1871L1445 1721L1445 1762L1445 1794L1445 1827L1445 1851L1445 1853L1445 1871L1445 1871L1446 1704L1446 1762L1446 1782L1446 1807L1446 1810L1446 1821L1446 1835L1446 1838L1446 1860L1446 1871L1447 1779L1447 1786L1447 1787L1447 1801L1447 1804L1447 1820L1447 1832L1447 1871L1448 1756L1448 1811L1448 1817L1448 1823L1448 1829L1448 1841L1448 1856L1448 1858L1448 1865L1448 1871L1449 1723L1449 1731L1449 1757L1449 1766L1449 1778L1449 1790L1449 1799L1449 1825L1449 1846L1449 1871L1450 1748L1450 1772L1450 1782L1450 1785L1450 1791L1450 1798L1450 1803L1450 1829L1450 1834L1450 1846L1450 1867L1450 1871L1451 1814L1451 1817L1451 1849L1451 1864L1451 1871L1452 1769L1452 1782L1452 1788L1452 1796L1452 1825L1452 1838L1452 1851L1452 1857L1452 1866L1452 1871L1452 1871L1453 1689L1453 1732L1453 1746L1453 1756L1453 1793L1453 1814L1453 1817L1453 1820L1453 1839L1453 1855L1453 1860L1453 1871L1454 1714L1454 1728L1454 1739L1454 1806L1454 1807L1454 1809L1454 1831L1454 1836L1454 1848L1454 1851L1455 1733L1455 1765L1455 1774L1455 1780L1455 1780L1455 1786L1455 1796L1455 1799L1455 1815L1455 1857L1456 1787L1456 1822L1456 1826L1456 1832L1456 1845L1456 1871L1457 1689L1457 1739L1457 1748L1457 1811L1457 1831L1457 1835L1457 1840L1457 1843L1457 1860L1457 1869L1458 1714L1458 1770L1458 1784L1458 1802L1458 1826L1458 1831L1458 1848L1458 1860L1458 1863L1458 1865L1459 1744L1459 1772L1459 1781L1459 1792L1459 1792L1459 1804L1459 1808L1459 1820L1459 1821L1459 1871L1460 1728L1460 1732L1460 1771L1460 1778L1460 1805L1460 1818L1460 1848L1460 1856L1460 1859L1460 1871L1461 1727L1461 1731L1461 1740L1461 1743L1461 1773L1461 1783L1461 1792L1461 1801L1461 1842L1461 1852L1461 1855L1462 1743L1462 1787L1462 1790L1462 1791L1462 1812L1462 1813L1462 1826L1462 1838L1463 1729L1463 1823L1463 1828L1463 1836L1463 1842L1463 1844L1463 1857L1463 1862L1463 1866L1463 1871L1464 1795L1464 1797L1464 1801L1464 1821L1464 1828L1464 1850L1465 1728L1465 1756L1465 1773L1465 1780L1465 1783L1465 1783L1465 1808L1465 1812L1465 1832L1465 1837L1465 1847L1465 1868L1465 1871L1465 1871L1466 1731L1466 1766L1466 1789L1466 1813L1466 1818L1466 1834L1467 1706L1467 1738L1467 1756L1467 1772L1467 1777L1467 1800L1467 1804L1467 1807L1467 1814L1467 1822L1467 1855L1467 1856L1467 1862L1467 1864L1467 1869L1468 1775L1468 1790L1468 1827L1468 1831L1468 1836L1468 1839L1468 1849L1469 1764L1469 1800L1469 1819L1469 1828L1469 1860L1469 1871L1470 1737L1470 1740L1470 1774L1470 1778L1470 1808L1470 1817L1470 1844L1470 1845L1470 1851L1470 1861L1470 1871L1471 1740L1471 1759L1471 1763L1471 1781L1471 1794L1471 1825L1471 1840L1471 1850L1471 1854L1472 1706L1472 1767L1472 1785L1472 1788L1472 1798L1472 1836L1472 1845L1472 1866L1472 1871L1473 1751L1473 1766L1473 1779L1473 1783L1473 1792L1473 1807L1473 1813L1473 1830L1473 1871L1473 1871L1474 1764L1474 1769L1474 1791L1474 1793L1474 1799L1474 1806L1474 1812L1474 1819L1474 1823L1474 1826L1474 1835L1474 1844L1474 1863L1474 1865L1475 1709L1475 1772L1475 1776L1475 1784L1475 1798L1475 1802L1475 1821L1475 1833L1475 1856L1475 1859L1476 1754L1476 1774L1476 1813L1476 1817L1476 1854L1477 1766L1477 1819L1477 1833L1477 1851L1477 1851L1477 1860L1477 1871L1478 1750L1478 1753L1478 1760L1478 1770L1478 1777L1478 1785L1478 1786L1478 1790L1478 1827L1478 1841L1478 1864L1478 1871L1479 1730L1479 1768L1479 1792L1479 1803L1479 1806L1479 1807L1479 1812L1479 1823L1479 1827L1479 1837L1479 1845L1479 1847L1480 1786L1480 1800L1480 1810L1480 1830L1480 1834L1480 1840L1480 1846L1480 1850L1480 1871L1480 1871L1481 1693L1481 1768L1481 1801L1481 1811L1481 1855L1481 1863L1481 1867L1481 1871L1482 1770L1482 1777L1482 1777L1482 1788L1482 1794L1482 1797L1482 1818L1482 1857L1482 1866L1482 1871L1483 1733L1483 1784L1483 1815L1483 1817L1483 1821L1483 1830L1483 1849L1483 1861L1483 1871L1483 1871L1484 1717L1484 1741L1484 1754L1484 1821L1484 1834L1484 1840L1484 1855L1485 1762L1485 1770L1485 1775L1485 1777L1485 1796L1485 1796L1485 1803L1485 1805L1485 1808L1485 1825L1485 1828L1485 1841L1485 1871L1486 1689L1486 1743L1486 1760L1486 1766L1486 1788L1486 1814L1486 1815L1486 1816L1486 1833L1486 1850L1486 1860L1486 1871L1487 1787L1487 1792L1487 1803L1487 1824L1487 1837L1487 1844L1487 1846L1487 1867L1487 1871L1488 1747L1488 1774L1488 1790L1488 1792L1488 1796L1488 1807L1488 1807L1488 1818L1488 1818L1488 1852L1488 1862L1488 1871L1489 1725L1489 1758L1489 1789L1489 1817L1489 1820L1489 1824L1489 1828L1489 1829L1489 1845L1489 1846L1489 1871L1490 1788L1490 1801L1490 1821L1490 1822L1490 1823L1490 1829L1490 1832L1490 1834L1490 1835L1490 1837L1490 1839L1490 1840L1490 1843L1490 1846L1490 1850L1490 1851L1490 1851L1490 1852L1490 1852L1490 1855L1490 1855L1490 1856L1490 1858L1490 1859L1490 1860L1490 1861L1490 1861L1490 1862L1490 1864L1490 1864L1490 1865L1490 1866L1490 1866L1490 1867L1490 1870L1490 1871" class="mb"/>
<circle cx="1446.7" cy="1679.2" r="3.85" class="ob"/>
<circle cx="1460.9" cy="1667.5" r="3.85" class="ob"/>
<circle cx="1472.8" cy="1313.9" r="3.85" class="ob"/>
<circle cx="1474.8" cy="1661.6" r="3.85" class="ob"/>
<path d="M1506 1746L1506 1788L1506 1810L1506 1811L1506 1813L1506 1815L1506 1815L1506 1815L1506 1822L1506 1824L1506 1830L1506 1832L1506 1833L1506 1838L1506 1839L1506 1839L1506 1840L1506 1841L1506 1842L1506 1844L1506 1844L1506 1844L1506 1846L1506 1849L1506 1851L1506 1851L1506 1864L1506 1864L1506 1865L1506 1868L1506 1870L1507 1768L1507 1806L1507 1819L1507 1828L1507 1829L1507 1837L1507 1854L1507 1854L1507 1855L1507 1857L1507 1858L1507 1859L1507 1860L1508 1733L1508 1756L1508 1777L1508 1795L1508 1800L1508 1805L1508 1805L1508 1810L1508 1825L1508 1829L1508 1870L1508 1871L1509 1798L1509 1822L1509 1837L1509 1844L1510 1684L1510 1782L1510 1794L1510 1797L1510 1805L1510 1846L1510 1846L1510 1854L1511 1704L1511 1765L1511 1779L1511 1869L1511 1871L1511 1871L1512 1787L1512 1815L1512 1822L1512 1823L1512 1834L1512 1842L1512 1851L1512 1861L1512 1871L1512 1871L1513 1750L1513 1803L1513 1808L1513 1810L1513 1835L1513 1840L1513 1864L1513 1871L1514 1718L1514 1736L1514 1743L1514 1761L1514 1767L1514 1787L1514 1794L1514 1825L1514 1830L1514 1859L1514 1866L1515 1733L1515 1766L1515 1784L1515 1792L1515 1800L1515 1821L1515 1831L1515 1851L1515 1852L1515 1858L1515 1871L1516 1730L1516 1769L1516 1801L1516 1812L1516 1838L1516 1847L1516 1848L1516 1866L1517 1717L1517 1807L1517 1818L1517 1821L1517 1829L1517 1841L1517 1844L1517 1869L1518 1797L1518 1806L1518 1814L1518 1816L1518 1827L1518 1834L1518 1857L1518 1859L1519 1766L1519 1778L1519 1790L1519 1826L1519 1832L1519 1845L1519 1865L1520 1803L1520 1854L1520 1865L1520 1871L1521 1711L1521 1737L1521 1749L1521 1780L1521 1788L1521 1791L1521 1796L1521 1796L1521 1802L1521 1804L1521 1807L1521 1816L1521 1840L1521 1861L1521 1871L1522 1716L1522 1743L1522 1772L1522 1788L1522 1825L1522 1844L1522 1852L1522 1853L1522 1871L1523 1773L1523 1783L1523 1805L1523 1812L1523 1819L1523 1833L1523 1856L1523 1862L1523 1867L1524 1682L1524 1739L1524 1740L1524 1760L1524 1785L1524 1788L1524 1812L1524 1816L1524 1824L1524 1830L1524 1831L1524 1839L1524 1849L1524 1860L1524 1866L1524 1871L1525 1767L1525 1770L1525 1774L1525 1777L1525 1791L1525 1795L1525 1798L1525 1811L1525 1822L1525 1838L1525 1848L1526 1842L1526 1855L1526 1858L1527 1710L1527 1765L1527 1801L1527 1826L1527 1831L1527 1838L1527 1851L1527 1870L1528 1789L1528 1796L1528 1803L1528 1828L1528 1866L1528 1870L1528 1871L1529 1754L1529 1812L1529 1819L1530 1744L1530 1801L1530 1826L1530 1842L1530 1851L1530 1866L1530 1870L1531 1790L1531 1792L1531 1803L1531 1810L1531 1817L1531 1819L1531 1835L1531 1843L1531 1855L1531 1861L1531 1862L1532 1756L1532 1784L1532 1792L1532 1813L1532 1833L1532 1846L1533 1804L1533 1817L1533 1822L1533 1835L1533 1848L1533 1851L1533 1862L1533 1871L1533 1871L1534 1701L1534 1762L1534 1784L1534 1802L1534 1829L1534 1831L1534 1855L1534 1856L1534 1871L1535 1690L1535 1712L1535 1740L1535 1752L1535 1755L1535 1769L1535 1783L1535 1792L1535 1813L1535 1825L1535 1840L1535 1867L1535 1871L1536 1757L1536 1786L1536 1790L1536 1802L1536 1808L1536 1822L1536 1860L1537 1801L1537 1802L1537 1806L1537 1816L1537 1844L1537 1865L1537 1869L1538 1711L1538 1741L1538 1768L1538 1772L1538 1783L1538 1783L1538 1807L1538 1809L1538 1839L1538 1842L1538 1852L1539 1805L1539 1810L1539 1821L1539 1828L1539 1832L1539 1868L1539 1870L1539 1871L1540 1769L1540 1780L1540 1782L1540 1796L1540 1810L1540 1820L1540 1825L1540 1825L1540 1834L1540 1834L1540 1836L1540 1839L1540 1841L1540 1844L1540 1845L1540 1847L1540 1849L1540 1852L1540 1854L1540 1856L1540 1856L1540 1859L1540 1862L1540 1863L1540 1865L1540 1869L1540 1871L1541 1815L1541 1818L1541 1826L1541 1838L1541 1863" class="mg"/>
<circle cx="1515.5" cy="1629.9" r="3.85" class="og"/>
<circle cx="1522.3" cy="1499.4" r="3.85" class="og"/>
<circle cx="1544.8" cy="1664.1" r="3.85" class="og"/>
<path d="M1550 1738L1550 1754L1550 1813L1550 1829L1550 1830L1550 1836L1550 1845L1550 1846L1550 1851L1550 1853L1550 1856L1550 1857L1550 1865L1550 1867L1550 1868L1551 1736L1551 1787L1551 1792L1551 1795L1551 1798L1551 1803L1551 1807L1551 1808L1551 1814L1551 1815L1551 1824L1551 1824L1551 1827L1551 1830L1551 1834L1551 1841L1551 1843L1551 1844L1551 1847L1551 1849L1551 1852L1551 1857L1551 1860L1551 1861L1551 1862L1551 1863L1551 1870L1551 1871L1552 1746L1552 1795L1552 1802L1552 1810L1552 1816L1552 1817L1552 1834L1552 1838L1552 1841L1552 1845L1552 1847L1552 1866L1552 1871L1552 1871L1553 1754L1553 1790L1553 1792L1553 1802L1553 1849L1554 1798L1554 1806L1554 1821L1554 1829L1554 1852L1554 1871L1554 1871L1555 1725L1555 1763L1555 1786L1555 1821L1555 1828L1555 1832L1555 1832L1555 1841L1555 1864L1555 1871L1556 1750L1556 1751L1556 1766L1556 1785L1556 1800L1556 1836L1556 1843L1556 1850L1556 1860L1556 1865L1556 1871L1557 1702L1557 1767L1557 1791L1557 1807L1557 1811L1557 1869L1557 1871L1558 1797L1558 1806L1558 1822L1558 1827L1558 1830L1558 1831L1558 1854L1558 1857L1559 1745L1559 1811L1559 1815L1559 1818L1559 1856L1560 1738L1560 1745L1560 1810L1560 1814L1560 1838L1560 1838L1560 1843L1561 1685L1561 1703L1561 1709L1561 1741L1561 1755L1561 1781L1561 1791L1561 1793L1561 1799L1561 1802L1561 1846L1561 1849L1561 1861L1561 1863L1562 1772L1562 1791L1562 1792L1562 1810L1562 1823L1562 1860L1562 1871L1563 1736L1563 1744L1563 1757L1563 1813L1563 1817L1563 1826L1563 1832L1563 1837L1563 1848L1563 1866L1563 1871L1564 1693L1564 1713L1564 1735L1564 1757L1564 1758L1564 1799L1564 1801L1564 1807L1564 1817L1564 1825L1564 1827L1564 1838L1564 1843L1564 1855L1564 1871L1565 1792L1565 1803L1565 1810L1565 1831L1565 1835L1565 1865L1565 1869L1565 1871L1566 1738L1566 1741L1566 1759L1566 1795L1566 1801L1566 1821L1566 1824L1566 1825L1566 1845L1566 1850L1566 1856L1567 1739L1567 1741L1567 1774L1567 1777L1567 1788L1567 1811L1567 1844L1567 1854L1567 1871L1568 1755L1568 1772L1568 1776L1568 1829L1568 1862L1569 1752L1569 1770L1569 1795L1569 1846L1569 1858L1569 1864L1570 1762L1570 1808L1570 1814L1570 1831L1570 1836L1570 1844L1570 1854L1570 1857L1570 1870L1571 1684L1571 1759L1571 1774L1571 1786L1571 1786L1571 1794L1571 1800L1571 1802L1571 1810L1571 1817L1571 1819L1571 1828L1571 1829L1571 1837L1571 1840L1571 1849L1571 1853L1571 1871L1571 1871L1572 1714L1572 1752L1572 1762L1572 1768L1572 1791L1572 1799L1572 1815L1572 1851L1572 1865L1573 1779L1573 1779L1573 1797L1573 1805L1573 1807L1573 1822L1573 1843L1573 1870L1574 1785L1574 1791L1574 1821L1574 1843L1574 1858L1574 1868L1575 1768L1575 1826L1575 1830L1575 1836L1575 1861L1576 1768L1576 1769L1576 1797L1576 1804L1576 1816L1576 1837L1577 1743L1577 1751L1577 1784L1577 1785L1577 1792L1577 1829L1577 1836L1577 1844L1577 1848L1577 1871L1577 1871L1577 1871L1578 1712L1578 1717L1578 1760L1578 1801L1578 1811L1578 1813L1578 1820L1578 1825L1578 1829L1578 1859L1578 1862L1578 1866L1578 1871L1578 1871L1579 1780L1579 1802L1579 1848L1579 1852L1579 1854L1579 1856L1579 1859L1579 1867L1579 1868L1580 1737L1580 1749L1580 1786L1580 1790L1580 1798L1580 1810L1580 1817L1580 1836L1580 1843L1580 1871L1581 1750L1581 1777L1581 1795L1581 1800L1581 1809L1581 1817L1581 1838L1581 1853L1581 1855L1582 1739L1582 1769L1582 1824L1582 1833L1583 1715L1583 1778L1583 1780L1583 1789L1583 1808L1583 1825L1583 1829L1583 1842L1583 1852L1583 1870L1584 1713L1584 1724L1584 1774L1584 1791L1584 1797L1584 1814L1584 1817L1584 1827L1584 1830L1584 1837L1584 1847L1585 1769L1585 1784L1585 1799L1585 1806L1585 1815L1585 1822L1585 1843L1585 1862L1585 1866L1585 1868L1585 1871L1586 1848L1586 1860L1586 1860L1586 1870L1586 1870L1587 1760L1587 1763L1587 1807L1587 1811L1587 1823L1587 1835L1587 1863L1588 1692L1588 1760L1588 1776L1588 1784L1588 1804L1588 1819L1588 1848L1588 1852L1588 1858L1589 1785L1589 1790L1589 1793L1589 1797L1589 1838L1589 1843L1590 1746L1590 1794L1590 1800L1590 1810L1590 1840L1590 1853L1590 1870L1591 1708L1591 1770L1591 1787L1591 1812L1591 1818L1591 1826L1591 1826L1591 1829L1591 1831L1591 1834L1591 1871L1591 1871L1592 1733L1592 1793L1592 1799L1592 1799L1592 1803L1592 1804L1592 1821L1592 1823L1592 1833L1592 1834L1592 1838L1592 1841L1592 1852L1592 1865L1592 1870L1593 1761L1593 1764L1593 1776L1593 1785L1593 1786L1593 1802L1593 1811L1593 1813L1593 1815L1593 1817L1593 1821L1593 1839L1593 1840L1593 1846L1593 1847L1593 1847L1593 1848L1593 1853L1593 1854L1593 1857L1593 1859L1593 1859L1593 1860L1593 1860L1593 1862L1593 1863L1593 1867L1593 1869L1593 1869L1593 1869" class="mb"/>
<circle cx="1551.0" cy="1645.3" r="3.85" class="ob"/>
<circle cx="1555.3" cy="1607.7" r="3.85" class="ob"/>
<circle cx="1555.3" cy="1660.4" r="3.85" class="ob"/>
<circle cx="1558.7" cy="1526.2" r="3.85" class="ob"/>
<circle cx="1562.7" cy="1630.2" r="3.85" class="ob"/>
<circle cx="1562.7" cy="1667.5" r="3.85" class="ob"/>
<circle cx="1566.6" cy="1439.1" r="3.85" class="ob"/>
<circle cx="1568.3" cy="1519.4" r="3.85" class="ob"/>
<circle cx="1576.9" cy="1655.2" r="3.85" class="ob"/>
<circle cx="1583.1" cy="1577.7" r="3.85" class="ob"/>
<circle cx="1588.0" cy="1671.5" r="3.85" class="ob"/>
<circle cx="1588.0" cy="1675.5" r="3.85" class="ob"/>
<circle cx="1596.7" cy="1650.2" r="3.85" class="ob"/>
<circle cx="1601.0" cy="1626.2" r="3.85" class="ob"/>
<path d="M1602 1794L1602 1836L1602 1854L1603 1772L1603 1774L1603 1777L1603 1804L1603 1805L1603 1814L1603 1821L1603 1822L1603 1827L1603 1827L1603 1843L1603 1844L1603 1846L1603 1846L1603 1850L1603 1850L1603 1850L1603 1855L1603 1855L1603 1857L1603 1858L1603 1861L1603 1861L1603 1861L1603 1862L1603 1863L1603 1864L1603 1868L1603 1869L1603 1871L1603 1871L1603 1871L1604 1795L1604 1811L1604 1812L1604 1813L1604 1813L1604 1823L1604 1824L1604 1825L1604 1828L1604 1829L1604 1838L1604 1839L1604 1840L1604 1842L1605 1750L1605 1785L1605 1791L1605 1796L1605 1801L1605 1816L1605 1831L1605 1833L1605 1834L1605 1871L1605 1871L1606 1730L1606 1777L1606 1788L1606 1818L1606 1859L1606 1868L1607 1765L1607 1777L1607 1807L1607 1812L1607 1839L1607 1844L1607 1852L1608 1767L1608 1787L1608 1794L1608 1804L1608 1806L1608 1812L1608 1832L1608 1849L1608 1861L1608 1866L1608 1871L1609 1765L1609 1778L1609 1814L1609 1844L1609 1871L1610 1708L1610 1745L1610 1782L1610 1795L1610 1795L1610 1819L1610 1851L1610 1856L1610 1861L1610 1866L1610 1871L1610 1871L1611 1728L1611 1748L1611 1787L1611 1804L1611 1827L1611 1836L1611 1838L1611 1842L1611 1857L1612 1713L1612 1752L1612 1770L1612 1788L1612 1798L1612 1808L1612 1820L1612 1823L1612 1825L1612 1828L1612 1867L1613 1698L1613 1732L1613 1752L1613 1793L1613 1797L1613 1812L1613 1833L1613 1836L1613 1845L1613 1852L1613 1856L1613 1860L1613 1862L1614 1755L1614 1758L1614 1759L1614 1779L1614 1803L1614 1805L1614 1815L1614 1870L1615 1720L1615 1766L1615 1799L1615 1808L1615 1870L1615 1871L1616 1738L1616 1779L1616 1786L1616 1789L1616 1793L1616 1813L1616 1825L1616 1834L1616 1839L1616 1845L1616 1848L1616 1852L1616 1853L1616 1856L1617 1695L1617 1738L1617 1755L1617 1757L1617 1817L1617 1823L1617 1837L1617 1865L1617 1865L1617 1866L1618 1779L1618 1785L1618 1796L1618 1803L1618 1814L1618 1830L1618 1859L1618 1870L1618 1871L1619 1739L1619 1740L1619 1768L1619 1782L1619 1822L1619 1841L1619 1851L1619 1858L1620 1729L1620 1736L1620 1754L1620 1761L1620 1771L1620 1802L1620 1806L1620 1811L1620 1819L1620 1832L1620 1834L1620 1844L1621 1776L1621 1792L1621 1794L1621 1798L1621 1827L1621 1840L1621 1870L1621 1871L1622 1741L1622 1771L1622 1818L1622 1819L1622 1830L1622 1859L1622 1861L1623 1694L1623 1736L1623 1775L1623 1780L1623 1783L1623 1783L1623 1792L1623 1805L1623 1810L1623 1824L1623 1841L1623 1845L1623 1848L1623 1853L1623 1865L1624 1711L1624 1738L1624 1786L1624 1787L1624 1816L1624 1836L1624 1846L1624 1854L1624 1870L1625 1695L1625 1801L1625 1820L1625 1835L1625 1866L1625 1871L1626 1756L1626 1759L1626 1771L1626 1800L1626 1803L1626 1811L1626 1812L1626 1826L1626 1845L1626 1854L1626 1861L1626 1870L1627 1739L1627 1745L1627 1753L1627 1772L1627 1774L1627 1832L1627 1846L1627 1866L1628 1773L1628 1783L1628 1794L1628 1794L1628 1799L1628 1809L1628 1827L1628 1837L1628 1838L1628 1862L1629 1783L1629 1810L1629 1817L1629 1818L1629 1829L1629 1853L1629 1871L1629 1871L1630 1693L1630 1758L1630 1775L1630 1779L1630 1800L1630 1805L1630 1817L1630 1823L1630 1835L1630 1857L1630 1857L1630 1864L1631 1786L1631 1789L1631 1793L1631 1825L1631 1840L1631 1845L1631 1852L1631 1853L1631 1871L1632 1749L1632 1752L1632 1763L1632 1767L1632 1772L1632 1795L1632 1802L1632 1846L1632 1866L1632 1871L1633 1755L1633 1783L1633 1824L1633 1835L1633 1840L1633 1871L1634 1747L1634 1761L1634 1763L1634 1770L1634 1789L1634 1806L1634 1813L1634 1816L1634 1830L1634 1843L1634 1857L1634 1863L1634 1870L1635 1723L1635 1760L1635 1776L1635 1786L1635 1797L1635 1801L1635 1809L1635 1815L1635 1826L1635 1835L1635 1842L1635 1847L1635 1853L1636 1752L1636 1779L1636 1795L1636 1807L1636 1819L1636 1829L1636 1834L1636 1854L1636 1871L1637 1686L1637 1742L1637 1747L1637 1749L1637 1766L1637 1793L1637 1808L1637 1811L1637 1818L1637 1860L1637 1870L1638 1755L1638 1770L1638 1772L1638 1772L1638 1775L1638 1785L1638 1785L1638 1813L1638 1815L1638 1829L1638 1846L1638 1861L1638 1864L1639 1714L1639 1732L1639 1788L1639 1793L1639 1795L1639 1798L1639 1799L1639 1818L1639 1824L1639 1824L1639 1844L1639 1845L1639 1846L1639 1869L1639 1869L1639 1871L1640 1765L1640 1789L1640 1801L1640 1822L1640 1823L1640 1828L1640 1831L1640 1834L1640 1835L1640 1836L1640 1837L1640 1839L1640 1843L1640 1848L1640 1851L1640 1853L1640 1855L1640 1855L1640 1856L1640 1856L1640 1857L1640 1860L1640 1861L1640 1862L1640 1865L1640 1866L1640 1867L1640 1867L1640 1868" class="mg"/>
<circle cx="1607.1" cy="1676.8" r="3.85" class="og"/>
<circle cx="1623.2" cy="1678.6" r="3.85" class="og"/>
<circle cx="1625.0" cy="1652.7" r="3.85" class="og"/>
<circle cx="1626.7" cy="1405.2" r="3.85" class="og"/>
<circle cx="1626.7" cy="1443.8" r="3.85" class="og"/>
<circle cx="1632.4" cy="1662.6" r="3.85" class="og"/>
<circle cx="1632.4" cy="1674.6" r="3.85" class="og"/>
<circle cx="1634.4" cy="1463.8" r="3.85" class="og"/>
<circle cx="1638.6" cy="1667.5" r="3.85" class="og"/>
<circle cx="1644.8" cy="1543.8" r="3.85" class="og"/>
<circle cx="1644.8" cy="1673.1" r="3.85" class="og"/>
<path d="M1650 1786L1650 1796L1650 1803L1650 1805L1650 1832L1650 1841L1650 1846L1650 1848L1650 1854L1650 1857L1650 1865L1650 1870L1651 1714L1651 1728L1651 1790L1651 1809L1651 1810L1651 1817L1651 1821L1651 1824L1651 1845L1651 1850L1651 1856L1651 1858L1651 1859L1651 1862L1651 1865L1651 1866L1651 1868L1651 1870L1651 1871L1652 1787L1652 1791L1652 1807L1652 1822L1652 1835L1652 1839L1652 1842L1652 1850L1652 1853L1653 1760L1653 1785L1653 1801L1653 1807L1653 1826L1653 1871L1654 1755L1654 1779L1654 1805L1654 1809L1654 1812L1654 1868L1655 1695L1655 1793L1655 1818L1655 1834L1655 1847L1655 1863L1655 1870L1656 1822L1656 1824L1656 1831L1656 1833L1656 1845L1656 1850L1656 1853L1656 1857L1656 1858L1656 1871L1657 1813L1657 1817L1657 1825L1657 1837L1657 1838L1657 1870L1658 1698L1658 1795L1658 1823L1659 1803L1659 1846L1659 1859L1659 1862L1660 1744L1660 1786L1660 1808L1660 1838L1660 1845L1660 1848L1660 1852L1660 1864L1661 1725L1661 1772L1661 1786L1661 1808L1661 1809L1661 1815L1661 1823L1661 1829L1661 1831L1661 1835L1661 1858L1662 1832L1662 1838L1662 1853L1662 1866L1662 1871L1663 1786L1663 1795L1663 1796L1663 1806L1663 1814L1663 1841L1664 1790L1664 1791L1664 1792L1664 1802L1664 1802L1664 1845L1664 1856L1664 1864L1664 1871L1664 1871L1665 1794L1665 1814L1665 1818L1665 1823L1665 1826L1665 1848L1665 1860L1665 1870L1666 1763L1666 1775L1666 1812L1666 1820L1666 1851L1666 1864L1667 1776L1667 1811L1667 1827L1667 1836L1667 1837L1667 1840L1667 1840L1667 1843L1667 1852L1667 1868L1667 1870L1668 1793L1668 1824L1668 1830L1669 1796L1669 1799L1669 1812L1669 1832L1669 1854L1669 1857L1670 1787L1670 1811L1670 1814L1670 1838L1670 1848L1670 1857L1671 1729L1671 1755L1671 1774L1671 1797L1671 1803L1671 1808L1671 1811L1671 1829L1671 1851L1671 1864L1671 1871L1672 1772L1672 1823L1672 1823L1672 1831L1672 1831L1672 1845L1672 1860L1672 1860L1672 1867L1672 1870L1673 1780L1673 1789L1673 1792L1673 1871L1674 1790L1674 1807L1674 1811L1674 1816L1674 1825L1674 1842L1674 1847L1674 1863L1674 1868L1674 1870L1675 1787L1675 1816L1675 1819L1675 1821L1675 1826L1675 1835L1675 1839L1675 1853L1676 1787L1676 1805L1676 1842L1676 1854L1676 1870L1677 1768L1677 1804L1677 1833L1677 1837L1677 1844L1677 1848L1677 1852L1677 1870L1678 1803L1678 1814L1678 1827L1678 1830L1678 1863L1679 1816L1679 1856L1679 1861L1679 1871L1680 1751L1680 1771L1680 1777L1680 1786L1680 1788L1680 1801L1680 1808L1680 1810L1680 1820L1680 1836L1680 1870L1681 1806L1681 1808L1681 1825L1681 1829L1681 1837L1681 1840L1681 1847L1681 1855L1681 1856L1681 1864L1682 1823L1682 1851L1682 1858L1682 1862L1682 1862L1682 1870L1682 1870L1683 1748L1683 1797L1683 1798L1683 1800L1683 1821L1683 1823L1683 1831L1683 1832L1683 1848L1683 1849L1683 1859L1683 1869L1683 1869L1684 1684L1684 1687L1684 1725L1684 1784L1684 1785L1684 1800L1684 1815L1684 1819L1684 1820L1684 1842L1684 1843L1684 1848L1684 1850L1684 1860L1684 1867L1684 1867L1684 1867L1684 1868" class="mb"/>
<circle cx="1654.0" cy="1613.5" r="3.85" class="ob"/>
<circle cx="1655.3" cy="1679.8" r="3.85" class="ob"/>
<circle cx="1666.7" cy="1601.8" r="3.85" class="ob"/>
<circle cx="1675.8" cy="1456.7" r="3.85" class="ob"/>
<path d="M1694 1680L1694 1733L1694 1739L1694 1750L1694 1765L1694 1774L1694 1780L1694 1784L1694 1789L1694 1789L1694 1793L1694 1799L1694 1800L1694 1802L1694 1802L1694 1803L1694 1807L1694 1807L1694 1808L1694 1811L1694 1813L1694 1814L1694 1821L1694 1824L1694 1825L1694 1827L1694 1830L1694 1830L1694 1831L1694 1832L1694 1833L1694 1833L1694 1836L1694 1836L1694 1836L1694 1837L1694 1838L1694 1839L1694 1840L1694 1840L1694 1842L1694 1843L1694 1843L1694 1845L1694 1847L1694 1847L1694 1848L1694 1850L1694 1850L1694 1851L1694 1852L1694 1853L1694 1856L1694 1857L1694 1857L1694 1859L1694 1860L1694 1860L1694 1861L1694 1863L1694 1863L1694 1864L1694 1864L1694 1865L1694 1867L1694 1867L1694 1868L1694 1868L1694 1870L1694 1871L1694 1871L1694 1871L1695 1715L1695 1729L1695 1731L1695 1750L1695 1762L1695 1762L1695 1781L1695 1789L1695 1793L1695 1796L1695 1802L1695 1813L1695 1816L1695 1818L1695 1819L1695 1820L1695 1871L1696 1734L1696 1737L1696 1739L1696 1741L1696 1741L1696 1771L1696 1772L1696 1775L1696 1781L1696 1783L1696 1862L1696 1871L1697 1743L1697 1761L1697 1825L1697 1847L1697 1861L1697 1871L1698 1727L1698 1752L1698 1755L1698 1766L1698 1769L1698 1790L1698 1805L1698 1834L1699 1713L1699 1729L1699 1732L1699 1737L1699 1748L1699 1766L1699 1773L1699 1789L1699 1789L1699 1815L1699 1828L1699 1839L1699 1866L1699 1871L1700 1684L1700 1724L1700 1756L1700 1782L1700 1796L1700 1809L1700 1822L1700 1839L1700 1845L1701 1709L1701 1720L1701 1726L1701 1726L1701 1732L1701 1747L1701 1752L1701 1762L1701 1779L1701 1797L1701 1807L1701 1814L1701 1819L1701 1832L1701 1838L1701 1853L1701 1855L1701 1860L1701 1863L1701 1871L1701 1871L1702 1739L1702 1742L1702 1755L1702 1772L1702 1774L1702 1782L1702 1801L1702 1826L1702 1848L1702 1854L1702 1871L1702 1871L1703 1731L1703 1739L1703 1746L1703 1764L1703 1779L1703 1797L1703 1802L1703 1810L1703 1817L1703 1824L1703 1834L1703 1845L1703 1866L1704 1690L1704 1702L1704 1728L1704 1758L1704 1767L1704 1767L1704 1773L1704 1789L1704 1789L1704 1810L1704 1829L1704 1833L1704 1841L1704 1871L1705 1760L1705 1782L1705 1784L1705 1802L1705 1839L1705 1856L1705 1871L1705 1871L1706 1734L1706 1748L1706 1777L1706 1791L1706 1819L1706 1830L1706 1861L1706 1864L1706 1871L1707 1707L1707 1713L1707 1714L1707 1753L1707 1757L1707 1804L1707 1817L1707 1823L1707 1837L1707 1840L1707 1849L1707 1868L1707 1871L1708 1722L1708 1728L1708 1730L1708 1752L1708 1755L1708 1794L1708 1799L1708 1808L1708 1851L1708 1852L1708 1859L1708 1871L1709 1698L1709 1744L1709 1746L1709 1764L1709 1769L1709 1779L1709 1784L1709 1811L1709 1817L1709 1825L1709 1843L1709 1851L1709 1852L1709 1858L1709 1871L1710 1721L1710 1760L1710 1766L1710 1772L1710 1779L1710 1784L1710 1792L1710 1800L1710 1801L1710 1809L1710 1817L1710 1828L1710 1832L1710 1841L1710 1863L1710 1871L1711 1681L1711 1715L1711 1721L1711 1735L1711 1748L1711 1761L1711 1776L1711 1790L1711 1794L1711 1827L1711 1845L1711 1846L1711 1861L1711 1871L1711 1871L1712 1712L1712 1718L1712 1742L1712 1756L1712 1770L1712 1773L1712 1794L1712 1806L1712 1817L1712 1822L1712 1834L1712 1860L1713 1704L1713 1712L1713 1740L1713 1742L1713 1744L1713 1751L1713 1787L1713 1805L1713 1834L1713 1838L1713 1867L1713 1871L1713 1871L1714 1721L1714 1776L1714 1812L1714 1816L1714 1825L1714 1847L1714 1871L1715 1694L1715 1747L1715 1784L1715 1808L1715 1823L1715 1842L1715 1865L1716 1692L1716 1707L1716 1725L1716 1726L1716 1731L1716 1754L1716 1754L1716 1755L1716 1757L1716 1766L1716 1779L1716 1789L1716 1796L1716 1841L1716 1849L1716 1854L1716 1857L1716 1871L1716 1871L1717 1731L1717 1741L1717 1747L1717 1751L1717 1762L1717 1770L1717 1777L1717 1780L1717 1800L1717 1800L1717 1805L1717 1805L1717 1853L1717 1855L1717 1871L1718 1696L1718 1756L1718 1762L1718 1764L1718 1767L1718 1771L1718 1781L1718 1787L1718 1790L1718 1792L1718 1796L1718 1796L1718 1800L1718 1807L1718 1812L1718 1816L1718 1819L1718 1819L1718 1821L1718 1821L1718 1821L1718 1824L1718 1825L1718 1825L1718 1827L1718 1830L1718 1850L1718 1851L1718 1854L1718 1854L1718 1866L1718 1871L1718 1871L1719 1765L1719 1770L1719 1808L1719 1808L1719 1808L1719 1812L1719 1814L1719 1818L1719 1828L1719 1829L1719 1833L1719 1833L1719 1835L1719 1835L1719 1838L1719 1839L1719 1841L1719 1842L1719 1843L1719 1843L1719 1845L1719 1845L1719 1847L1719 1849L1719 1853L1719 1857L1719 1857L1719 1857L1719 1859L1719 1860L1719 1860L1719 1861L1719 1863L1719 1863L1719 1864L1719 1866L1719 1866L1719 1867L1719 1867L1719 1869L1719 1870" class="mg"/>
<circle cx="1693.8" cy="1654.2" r="3.85" class="og"/>
<circle cx="1694.1" cy="1639.4" r="3.85" class="og"/>
<circle cx="1694.1" cy="1678.0" r="3.85" class="og"/>
<circle cx="1696.9" cy="1670.0" r="3.85" class="og"/>
<circle cx="1700.9" cy="1673.1" r="3.85" class="og"/>
<circle cx="1701.5" cy="1629.9" r="3.85" class="og"/>
<circle cx="1704.3" cy="1646.8" r="3.85" class="og"/>
<circle cx="1704.6" cy="1670.9" r="3.85" class="og"/>
<circle cx="1714.2" cy="1608.0" r="3.85" class="og"/>
<circle cx="1721.0" cy="1563.2" r="3.85" class="og"/>
<circle cx="1721.3" cy="1618.5" r="3.85" class="og"/>
<circle cx="1721.6" cy="1626.8" r="3.85" class="og"/>
<circle cx="1723.4" cy="1631.7" r="3.85" class="og"/>
<path d="M1728 1759L1728 1765L1728 1827L1728 1855L1728 1859L1728 1861L1728 1865L1728 1866L1728 1870L1729 1766L1729 1781L1729 1799L1729 1814L1729 1822L1729 1829L1729 1830L1729 1837L1729 1840L1729 1841L1729 1842L1729 1843L1729 1844L1729 1846L1729 1848L1729 1850L1729 1851L1729 1851L1729 1854L1729 1856L1729 1858L1729 1861L1729 1864L1729 1867L1729 1870L1730 1732L1730 1737L1730 1758L1730 1791L1730 1815L1730 1820L1730 1827L1730 1832L1730 1834L1730 1836L1730 1865L1730 1870L1731 1693L1731 1729L1731 1744L1731 1751L1731 1773L1731 1794L1731 1797L1731 1799L1731 1800L1731 1800L1731 1802L1731 1812L1731 1815L1731 1818L1731 1871L1732 1780L1732 1786L1732 1808L1732 1810L1732 1853L1733 1705L1733 1716L1733 1821L1733 1835L1733 1855L1734 1784L1734 1786L1734 1827L1734 1862L1734 1871L1734 1871L1734 1871L1735 1806L1735 1815L1735 1826L1735 1834L1735 1837L1735 1844L1736 1713L1736 1788L1736 1792L1736 1794L1736 1797L1736 1818L1736 1840L1736 1849L1737 1782L1737 1802L1737 1807L1737 1842L1737 1847L1737 1856L1737 1860L1737 1862L1737 1869L1737 1871L1738 1762L1738 1790L1738 1795L1738 1801L1738 1802L1738 1810L1738 1821L1738 1829L1738 1831L1738 1831L1738 1848L1738 1866L1738 1870L1739 1692L1739 1736L1739 1771L1739 1791L1739 1815L1739 1818L1739 1825L1739 1854L1739 1856L1739 1857L1739 1870L1740 1758L1740 1770L1740 1776L1740 1804L1740 1835L1740 1839L1740 1870L1741 1709L1741 1755L1741 1758L1741 1771L1741 1781L1741 1805L1741 1810L1741 1821L1741 1843L1741 1864L1742 1783L1742 1794L1742 1837L1742 1853L1742 1861L1742 1870L1742 1871L1743 1787L1743 1816L1743 1831L1743 1841L1743 1849L1744 1726L1744 1750L1744 1807L1744 1811L1744 1819L1744 1826L1744 1828L1744 1834L1744 1847L1744 1860L1745 1728L1745 1765L1745 1780L1745 1794L1745 1798L1745 1865L1745 1870L1746 1761L1746 1785L1746 1823L1746 1840L1746 1843L1746 1848L1746 1854L1746 1866L1746 1870L1746 1871L1747 1754L1747 1767L1747 1769L1747 1778L1747 1796L1747 1806L1747 1814L1747 1819L1747 1829L1747 1834L1747 1848L1747 1850L1747 1854L1747 1860L1748 1711L1748 1765L1748 1766L1748 1778L1748 1780L1748 1784L1748 1805L1748 1813L1748 1823L1748 1844L1748 1870L1748 1870L1749 1786L1749 1836L1749 1857L1750 1794L1750 1797L1750 1817L1750 1831L1750 1844L1750 1845L1750 1866L1750 1867L1751 1752L1751 1768L1751 1783L1751 1793L1751 1802L1751 1804L1751 1806L1751 1806L1751 1809L1751 1813L1751 1816L1751 1825L1751 1861L1751 1870L1752 1738L1752 1750L1752 1761L1752 1765L1752 1769L1752 1797L1752 1799L1752 1831L1752 1837L1752 1840L1752 1857L1752 1871L1753 1693L1753 1705L1753 1711L1753 1715L1753 1775L1753 1791L1753 1793L1753 1801L1753 1822L1753 1830L1753 1852L1754 1786L1754 1823L1754 1828L1754 1831L1754 1854L1754 1859L1754 1871L1754 1871L1755 1814L1755 1815L1755 1839L1755 1849L1755 1851L1755 1855L1755 1867L1756 1769L1756 1802L1756 1818L1756 1842L1756 1860L1756 1863L1756 1871L1757 1775L1757 1800L1757 1845L1757 1871L1757 1871L1758 1793L1758 1810L1758 1820L1758 1821L1758 1835L1758 1845L1758 1853L1758 1863L1759 1776L1759 1809L1759 1829L1759 1837L1759 1853L1759 1871L1760 1732L1760 1759L1760 1766L1760 1781L1760 1796L1760 1808L1760 1833L1760 1864L1760 1871L1761 1730L1761 1763L1761 1810L1761 1814L1761 1817L1761 1824L1761 1828L1761 1871L1761 1871L1762 1778L1762 1778L1762 1803L1762 1820L1762 1820L1762 1830L1762 1833L1762 1833L1762 1836L1762 1839L1762 1840L1762 1840L1763 1774L1763 1779L1763 1805L1763 1813L1763 1817L1763 1823L1763 1827L1763 1835L1763 1840L1763 1845L1763 1846L1763 1847L1763 1848L1763 1849L1763 1851L1763 1853L1763 1854L1763 1855L1763 1859L1763 1859L1763 1861L1763 1862L1763 1862L1763 1863L1763 1869L1763 1869L1763 1870L1763 1871L1764 1742L1764 1783L1764 1851" class="mb"/>
<circle cx="1728.7" cy="1679.2" r="3.85" class="ob"/>
<circle cx="1749.7" cy="1624.3" r="3.85" class="ob"/>
<circle cx="1751.8" cy="1660.7" r="3.85" class="ob"/>
<circle cx="1751.8" cy="1675.2" r="3.85" class="ob"/>
<circle cx="1752.4" cy="1599.9" r="3.85" class="ob"/>
<circle cx="1753.1" cy="1618.1" r="3.85" class="ob"/>
<circle cx="1754.9" cy="1655.5" r="3.85" class="ob"/>
<path d="M1775 1800L1775 1803L1775 1806L1775 1827L1775 1828L1775 1832L1775 1833L1775 1841L1775 1844L1775 1846L1775 1856L1775 1859L1775 1859L1775 1861L1775 1864L1775 1864L1775 1865L1775 1868L1775 1870L1775 1870L1776 1703L1776 1755L1776 1757L1776 1788L1776 1796L1776 1812L1776 1828L1776 1835L1776 1836L1776 1837L1776 1838L1776 1839L1776 1844L1776 1847L1776 1849L1776 1853L1776 1854L1776 1870L1777 1774L1777 1775L1777 1782L1777 1823L1777 1870L1777 1871L1778 1746L1778 1761L1778 1794L1778 1798L1778 1803L1778 1818L1778 1854L1779 1820L1779 1821L1779 1833L1779 1855L1779 1861L1779 1870L1780 1754L1780 1829L1780 1847L1780 1850L1780 1865L1780 1870L1781 1796L1781 1802L1781 1803L1781 1806L1781 1809L1781 1813L1781 1838L1781 1841L1781 1844L1781 1860L1782 1786L1782 1804L1782 1837L1782 1859L1782 1871L1783 1737L1783 1779L1783 1787L1783 1789L1783 1802L1783 1814L1783 1828L1783 1830L1783 1871L1784 1789L1784 1792L1784 1794L1784 1807L1784 1813L1784 1820L1784 1823L1784 1850L1784 1852L1784 1866L1785 1719L1785 1721L1785 1795L1785 1834L1785 1836L1785 1853L1785 1857L1785 1864L1786 1697L1786 1721L1786 1781L1786 1795L1786 1806L1786 1809L1786 1812L1786 1842L1786 1845L1787 1769L1787 1817L1787 1822L1787 1827L1787 1855L1787 1863L1787 1871L1788 1740L1788 1787L1788 1812L1788 1844L1788 1869L1789 1774L1789 1782L1789 1794L1789 1819L1789 1821L1789 1824L1789 1860L1790 1777L1790 1785L1790 1801L1790 1813L1790 1819L1790 1823L1790 1826L1790 1834L1790 1835L1790 1837L1790 1840L1790 1849L1790 1854L1790 1870L1791 1717L1791 1801L1791 1830L1791 1841L1791 1843L1791 1854L1791 1855L1791 1859L1791 1869L1791 1870L1791 1870L1791 1871L1792 1771L1792 1777L1792 1793L1792 1803L1792 1829L1792 1831L1792 1831L1792 1834L1792 1840L1792 1847L1792 1848L1792 1848L1792 1859L1792 1861L1792 1864L1792 1865L1792 1867L1793 1733L1793 1846" class="mg"/>
<circle cx="1775.6" cy="1679.2" r="3.85" class="og"/>
<circle cx="1790.4" cy="1668.1" r="3.85" class="og"/>
<path d="M1802 1804L1802 1807L1802 1817L1802 1821L1802 1823L1802 1830L1802 1831L1802 1832L1802 1839L1802 1840L1802 1841L1802 1842L1802 1842L1802 1843L1802 1849L1802 1851L1802 1861L1802 1862L1802 1862L1802 1864L1802 1865L1802 1867L1802 1868L1802 1869L1802 1871L1803 1756L1803 1761L1803 1763L1803 1775L1803 1778L1803 1783L1803 1812L1803 1813L1803 1824L1803 1825L1803 1826L1803 1835L1803 1835L1803 1838L1803 1846L1803 1847L1803 1850L1803 1853L1803 1859L1803 1861L1803 1871L1803 1871L1804 1768L1804 1777L1804 1788L1804 1803L1804 1811L1804 1812L1804 1815L1804 1818L1804 1821L1804 1833L1804 1844L1804 1851L1804 1856L1804 1856L1804 1869L1805 1804L1805 1823L1805 1871L1806 1758L1806 1767L1806 1782L1806 1792L1806 1796L1806 1796L1806 1801L1806 1835L1806 1852L1806 1856L1806 1871L1807 1735L1807 1789L1807 1797L1807 1820L1807 1828L1807 1836L1807 1847L1807 1864L1808 1767L1808 1790L1808 1816L1808 1844L1808 1864L1808 1871L1809 1746L1809 1764L1809 1774L1809 1781L1809 1810L1809 1841L1809 1862L1810 1774L1810 1807L1810 1831L1810 1846L1810 1852L1811 1776L1811 1779L1811 1786L1811 1800L1811 1801L1811 1803L1811 1804L1811 1808L1811 1828L1811 1837L1811 1858L1811 1871L1812 1738L1812 1779L1812 1797L1812 1810L1812 1816L1812 1816L1812 1819L1812 1820L1812 1822L1812 1826L1812 1827L1812 1827L1812 1828L1812 1830L1812 1833L1812 1842L1812 1871L1813 1736L1813 1739L1813 1778L1813 1784L1813 1787L1813 1791L1813 1793L1813 1794L1813 1795L1813 1814L1813 1832L1813 1835L1813 1838L1813 1842L1813 1843L1813 1847L1813 1851L1813 1851L1813 1852L1813 1854L1813 1855L1813 1855L1813 1858L1813 1858L1813 1860L1813 1871L1813 1871L1814 1799L1814 1820L1814 1844L1814 1845L1814 1846L1814 1856L1814 1861L1814 1863L1814 1864L1814 1866L1814 1866L1814 1871" class="mb"/>
<circle cx="1808.3" cy="1671.8" r="3.85" class="ob"/>
<circle cx="1815.1" cy="1602.4" r="3.85" class="ob"/>
<circle cx="1820.0" cy="1671.2" r="3.85" class="ob"/>
<path d="M1823 1712L1823 1816L1823 1819L1823 1840L1823 1849L1823 1851L1823 1863L1823 1867L1823 1869L1824 1746L1824 1749L1824 1807L1824 1809L1824 1814L1824 1821L1824 1830L1824 1837L1824 1842L1824 1843L1824 1846L1824 1846L1824 1855L1824 1857L1824 1861L1824 1862L1824 1864L1824 1868L1825 1779L1825 1800L1825 1824L1825 1832L1825 1851L1825 1854L1826 1779L1826 1806L1826 1824L1826 1825L1826 1836L1826 1843L1826 1870L1826 1871L1827 1760L1827 1810L1827 1831L1828 1771L1828 1802L1828 1809L1828 1813L1828 1823L1828 1827L1828 1854L1828 1864L1828 1871L1828 1871L1829 1799L1829 1835L1829 1846L1829 1862L1830 1761L1830 1840L1830 1851L1830 1861L1830 1863L1831 1790L1831 1791L1831 1845L1831 1862L1832 1789L1832 1797L1832 1809L1832 1839L1832 1851L1832 1855L1832 1864L1833 1735L1833 1785L1833 1789L1833 1791L1833 1806L1833 1817L1833 1828L1833 1838L1833 1848L1833 1857L1833 1863L1833 1870L1833 1871L1834 1805L1834 1807L1834 1821L1834 1830L1834 1836L1834 1867L1835 1763L1835 1793L1835 1840L1835 1844L1835 1858L1835 1870L1836 1753L1836 1790L1836 1800L1836 1807L1836 1823L1836 1833L1836 1848L1836 1869L1837 1735L1837 1784L1837 1791L1837 1800L1837 1808L1837 1811L1837 1832L1837 1834L1837 1851L1837 1863L1838 1730L1838 1745L1838 1769L1838 1791L1838 1838L1838 1842L1838 1851L1838 1852L1839 1826L1839 1858L1840 1773L1840 1797L1840 1822L1841 1711L1841 1777L1841 1788L1841 1808L1841 1811L1841 1817L1841 1822L1841 1826L1841 1837L1841 1852L1841 1856L1841 1862L1841 1871L1842 1816L1842 1830L1842 1840L1842 1844L1842 1864L1842 1867L1843 1768L1843 1788L1843 1801L1843 1803L1843 1814L1843 1826L1843 1844L1843 1848L1843 1850L1843 1856L1843 1857L1843 1870L1843 1871L1844 1763L1844 1819L1844 1861L1844 1869L1845 1723L1845 1780L1845 1797L1845 1802L1845 1815L1845 1831L1845 1833L1846 1773L1846 1808L1846 1823L1846 1836L1846 1837L1847 1729L1847 1775L1847 1785L1847 1819L1847 1831L1847 1850L1848 1719L1848 1791L1848 1800L1848 1803L1848 1809L1848 1809L1848 1824L1848 1829L1848 1845L1848 1859L1848 1867L1848 1868L1849 1693L1849 1766L1849 1836L1849 1839L1849 1845L1849 1854L1849 1863L1849 1871L1850 1806L1850 1833L1850 1846L1850 1851L1851 1765L1851 1772L1851 1814L1851 1817L1851 1824L1851 1856L1851 1860L1852 1763L1852 1821L1852 1828L1852 1842L1852 1843L1852 1871L1853 1737L1853 1763L1853 1807L1853 1837L1853 1848L1853 1848L1853 1856L1853 1866L1853 1871L1854 1744L1854 1750L1854 1756L1854 1779L1854 1780L1854 1852L1854 1859L1855 1790L1855 1797L1855 1819L1855 1826L1855 1827L1855 1865L1855 1871L1856 1771L1856 1783L1856 1812L1856 1834L1856 1839L1856 1841L1856 1859L1856 1859L1856 1866L1857 1767L1857 1783L1857 1805L1857 1870L1858 1832L1858 1834L1858 1842L1858 1845L1858 1854L1859 1797L1859 1818L1859 1822L1859 1827L1859 1827L1859 1830L1859 1845L1859 1851L1859 1856L1859 1870L1860 1799L1860 1802L1860 1818L1860 1822L1860 1833L1860 1866L1861 1798L1861 1853L1861 1864L1861 1866L1861 1871L1862 1757L1862 1796L1862 1807L1862 1807L1862 1817L1863 1767L1863 1823L1863 1832L1863 1837L1863 1840L1863 1847L1863 1849L1863 1856L1863 1861L1863 1862L1863 1871L1864 1806L1864 1808L1864 1819L1864 1821L1864 1840L1865 1745L1865 1811L1865 1832L1865 1839L1866 1773L1866 1806L1866 1808L1866 1819L1866 1830L1866 1862L1866 1864L1866 1867L1867 1691L1867 1798L1867 1807L1867 1848L1867 1855L1867 1871L1868 1793L1868 1816L1868 1824L1868 1833L1868 1845L1868 1852L1869 1810L1869 1836L1869 1839L1869 1842L1869 1856L1869 1865L1869 1870L1870 1844L1870 1858L1870 1869L1870 1870L1870 1871L1871 1759L1871 1770L1871 1801L1871 1824L1871 1829L1871 1836L1872 1774L1872 1811L1872 1819L1872 1825L1872 1851L1872 1851L1872 1870L1873 1742L1873 1790L1873 1791L1873 1800L1873 1822L1873 1837L1873 1838L1873 1860L1873 1861L1873 1866L1874 1724L1874 1798L1874 1816L1874 1829L1874 1830L1874 1849L1874 1869L1875 1751L1875 1765L1875 1767L1875 1792L1876 1716L1876 1756L1876 1803L1876 1824L1876 1825L1876 1827L1876 1827L1876 1833L1876 1844L1876 1844L1876 1864L1877 1816L1877 1823L1877 1845L1877 1851L1877 1855L1877 1858L1877 1869L1877 1869L1877 1871L1878 1804L1878 1840L1878 1854L1878 1869L1879 1772L1879 1780L1879 1796L1879 1814L1879 1834L1879 1863L1880 1786L1880 1804L1880 1814L1880 1833L1880 1841L1880 1865L1880 1871L1881 1732L1881 1739L1881 1793L1881 1804L1881 1815L1881 1831L1881 1836L1881 1849L1881 1850L1881 1869L1882 1801L1882 1821L1882 1841L1882 1854L1882 1860L1883 1808L1883 1831L1883 1851L1883 1869L1884 1751L1884 1811L1884 1834L1884 1853L1884 1861L1884 1869L1885 1766L1885 1771L1885 1791L1885 1826L1885 1843L1885 1846L1885 1857L1885 1861L1885 1868L1886 1777L1886 1846L1887 1798L1887 1814L1887 1836L1887 1864L1888 1776L1888 1794L1888 1806L1888 1809L1888 1821L1888 1821L1888 1822L1888 1833L1888 1868L1889 1759L1889 1798L1889 1803L1889 1825L1889 1830L1889 1840L1889 1841L1889 1854L1890 1756L1890 1765L1890 1777L1890 1836L1890 1848L1890 1859L1890 1870L1891 1829L1891 1840L1891 1853L1891 1862L1891 1865L1891 1870L1892 1763L1892 1813L1892 1848L1892 1856L1893 1775L1893 1816L1893 1819L1893 1836L1893 1846L1893 1860L1893 1870L1894 1826L1894 1841L1894 1843L1894 1868L1895 1785L1895 1790L1895 1811L1895 1822L1895 1824L1895 1831L1895 1838L1896 1803L1896 1819L1896 1836L1896 1847L1896 1869L1896 1870L1897 1768L1897 1806L1897 1814L1897 1814L1897 1828L1897 1855L1897 1860L1897 1862L1897 1871L1897 1871L1898 1776L1898 1791L1898 1809L1898 1834L1898 1851L1898 1855L1899 1744L1899 1784L1899 1790L1899 1806L1899 1821L1899 1826L1899 1828L1899 1837L1899 1840L1899 1846L1899 1847L1899 1870L1900 1720L1900 1755L1900 1807L1900 1833L1900 1862L1900 1863L1900 1868L1901 1769L1901 1835L1901 1842L1901 1848L1901 1852L1901 1856L1902 1771L1902 1801L1902 1870L1902 1870L1902 1870L1903 1722L1903 1747L1903 1788L1903 1800L1903 1821L1904 1734L1904 1734L1904 1784L1904 1819L1904 1819L1904 1821L1904 1830L1904 1840L1904 1843L1904 1852L1904 1857L1905 1790L1905 1801L1905 1810L1905 1810L1905 1819L1905 1827L1906 1788L1906 1790L1906 1806L1906 1820L1906 1833L1906 1838L1906 1858L1906 1861L1906 1864L1906 1865L1906 1871L1907 1765L1907 1798L1907 1803L1907 1823L1907 1826L1907 1839L1907 1844L1907 1847L1907 1848L1907 1852L1907 1856L1907 1857L1907 1862L1907 1867L1908 1761L1908 1782L1908 1808L1908 1825L1908 1825L1908 1826L1908 1830L1908 1831L1908 1838L1908 1841L1908 1842L1908 1846L1908 1851L1908 1858L1908 1862L1908 1870L1908 1870L1908 1870" class="mg"/>
<circle cx="1830.8" cy="1512.0" r="3.85" class="og"/>
<circle cx="1840.7" cy="1652.1" r="3.85" class="og"/>
<circle cx="1842.5" cy="1677.7" r="3.85" class="og"/>
<circle cx="1851.5" cy="1675.5" r="3.85" class="og"/>
<circle cx="1864.7" cy="1678.0" r="3.85" class="og"/>
<circle cx="1883.2" cy="1634.2" r="3.85" class="og"/>
<circle cx="1895.3" cy="1658.9" r="3.85" class="og"/>
<circle cx="1903.0" cy="1662.0" r="3.85" class="og"/>
<circle cx="1907.0" cy="1655.8" r="3.85" class="og"/>
<path d="M1910 1782L1910 1804L1910 1811L1910 1819L1910 1829L1910 1832L1910 1843L1910 1848L1910 1861L1910 1865L1910 1868" class="mb"/>
</g>
<line x1="79.5" x2="1997.0" y1="1327.3" y2="1327.3" class="rh"/>
<line x1="79.5" x2="1997.0" y1="1325.7" y2="1325.7" class="rl"/>
<line x1="79.5" x2="1997.0" y1="1471.7" y2="1471.7" class="bh"/>
<line x1="79.5" x2="1997.0" y1="1471.7" y2="1471.7" class="bl"/>
<line x1="72.8" x2="79.6" y1="1871.1" y2="1871.1" class="tk"/>
<text x="67.0" y="1881.2" class="yt">0</text>
<line x1="72.8" x2="79.6" y1="1671.4" y2="1671.4" class="tk"/>
<text x="67.0" y="1681.5" class="yt">2</text>
<line x1="72.8" x2="79.6" y1="1471.7" y2="1471.7" class="tk"/>
<text x="67.0" y="1481.8" class="yt">4</text>
<line x1="72.8" x2="79.6" y1="1272.1" y2="1272.1" class="tk"/>
<text x="67.0" y="1282.2" class="yt">6</text>
<line x1="72.8" x2="79.6" y1="1072.4" y2="1072.4" class="tk"/>
<text x="67.0" y="1082.5" class="yt">8</text>
<line x1="238.0" x2="238.0" y1="1871.1" y2="1877.7" class="tk"/>
<text x="238.0" y="1906.7" class="xt">1</text>
<line x1="379.6" x2="379.6" y1="1871.1" y2="1877.7" class="tk"/>
<text x="379.6" y="1906.7" class="xt">2</text>
<line x1="506.7" x2="506.7" y1="1871.1" y2="1877.7" class="tk"/>
<text x="506.7" y="1906.7" class="xt">3</text>
<line x1="618.1" x2="618.1" y1="1871.1" y2="1877.7" class="tk"/>
<text x="618.1" y="1906.7" class="xt">4</text>
<line x1="724.8" x2="724.8" y1="1871.1" y2="1877.7" class="tk"/>
<text x="724.8" y="1906.7" class="xt">5</text>
<line x1="826.2" x2="826.2" y1="1871.1" y2="1877.7" class="tk"/>
<text x="826.2" y="1906.7" class="xt">6</text>
<line x1="920.6" x2="920.6" y1="1871.1" y2="1877.7" class="tk"/>
<text x="920.6" y="1906.7" class="xt">7</text>
<line x1="1008.6" x2="1008.6" y1="1871.1" y2="1877.7" class="tk"/>
<text x="1008.6" y="1906.7" class="xt">8</text>
<line x1="1091.2" x2="1091.2" y1="1871.1" y2="1877.7" class="tk"/>
<text x="1091.2" y="1906.7" class="xt">9</text>
<line x1="1170.3" x2="1170.3" y1="1871.1" y2="1877.7" class="tk"/>
<text x="1170.3" y="1906.7" class="xt">10</text>
<line x1="1248.4" x2="1248.4" y1="1871.1" y2="1877.7" class="tk"/>
<text x="1248.4" y="1906.7" class="xt">11</text>
<line x1="1325.3" x2="1325.3" y1="1871.1" y2="1877.7" class="tk"/>
<text x="1325.3" y="1906.7" class="xt">12</text>
<line x1="1403.1" x2="1403.1" y1="1871.1" y2="1877.7" class="tk"/>
<text x="1403.1" y="1906.7" class="xt">13</text>
<line x1="1466.8" x2="1466.8" y1="1871.1" y2="1877.7" class="tk"/>
<text x="1466.8" y="1906.7" class="xt">14</text>
<line x1="1526.2" x2="1526.2" y1="1871.1" y2="1877.7" class="tk"/>
<text x="1526.2" y="1906.7" class="xt">15</text>
<line x1="1576.2" x2="1576.2" y1="1871.1" y2="1877.7" class="tk"/>
<text x="1576.2" y="1906.7" class="xt">16</text>
<line x1="1625.2" x2="1625.2" y1="1871.1" y2="1877.7" class="tk"/>
<text x="1625.2" y="1906.7" class="xt">17</text>
<line x1="1670.8" x2="1670.8" y1="1871.1" y2="1877.7" class="tk"/>
<text x="1670.8" y="1906.7" class="xt">18</text>
<line x1="1710.3" x2="1710.3" y1="1871.1" y2="1877.7" class="tk"/>
<text x="1710.3" y="1906.7" class="xt">19</text>
<line x1="1745.7" x2="1745.7" y1="1871.1" y2="1877.7" class="tk"/>
<text x="1745.7" y="1906.7" class="xt">20</text>
<line x1="1780.1" x2="1780.1" y1="1871.1" y2="1877.7" class="tk"/>
<text x="1780.1" y="1906.7" class="xt">21</text>
<line x1="1810.5" x2="1810.5" y1="1871.1" y2="1877.7" class="tk"/>
<text x="1810.5" y="1906.7" class="xt">22</text>
<line x1="1866.2" x2="1866.2" y1="1871.1" y2="1877.7" class="tk"/>
<text x="1866.2" y="1906.7" class="xt">X</text>
<line x1="1910.0" x2="1910.0" y1="1871.1" y2="1877.7" class="tk"/>
<text x="1910.0" y="1906.7" class="xt">M</text>
<text x="1037.7" y="1946.5" class="at">Chromosome</text>
<text transform="translate(41.6 1421.0) rotate(-90)" class="at" x="0" y="0">-log(p-value)</text>
<text x="2" y="1039.4" class="pl">B)</text>
<text x="551.6" y="1085.4" class="gl">RP11-792D21.2</text>
<text x="710.0" y="1251.0" class="gl">DDAH2</text>
<text x="1294.2" y="1254.0" class="gl">RERG</text>
<text x="1454.0" y="1304.9" class="gl">ALDH6A1</text>
<text x="856.2" y="1407.3" class="gl">TRIP6</text>
<line x1="78.3" x2="111.7" y1="67.2" y2="67.2" stroke="#ebebeb" stroke-width="1.6"/>
</svg></body></html>
